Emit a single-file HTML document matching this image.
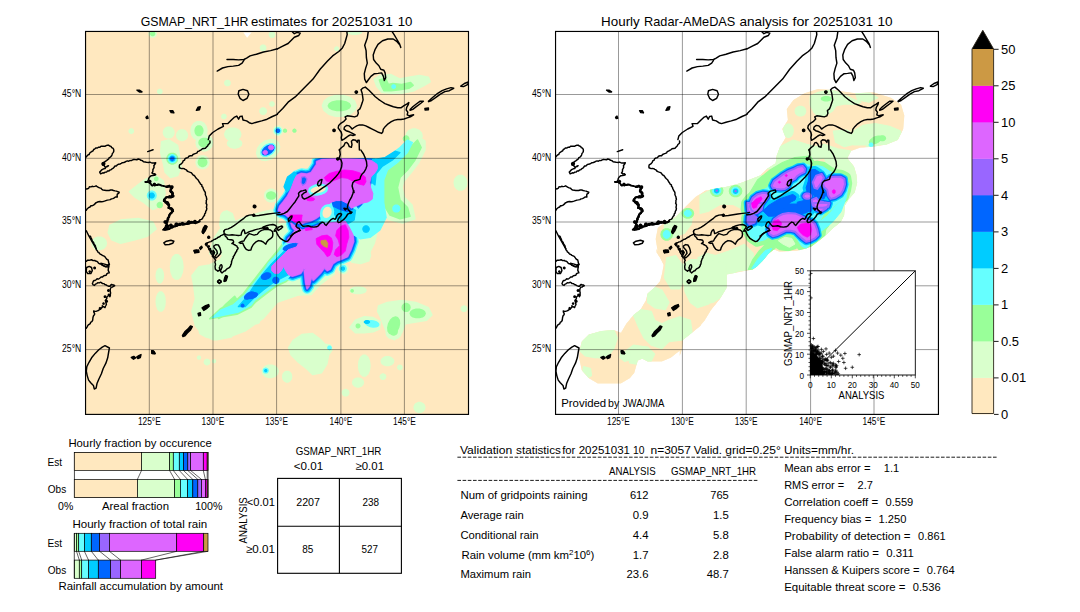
<!DOCTYPE html><html><head><meta charset="utf-8"><title>GSMAP validation</title><style>html,body{margin:0;padding:0;background:#fff}svg{display:block}text{font-family:"Liberation Sans",sans-serif;fill:#000}</style></head><body>
<svg width="1080" height="612" viewBox="0 0 1080 612">
<rect width="1080" height="612" fill="#fff"/>
<defs><clipPath id="cl"><rect x="85.55" y="31.45" width="382.95" height="382.95"/></clipPath><clipPath id="cr"><rect x="555.55" y="31.45" width="382.9" height="382.95"/></clipPath>
<clipPath id="ci"><rect x="810.3" y="270.8" width="105" height="104.2"/></clipPath>
<clipPath id="clc"><rect x="85.5" y="158.2" width="382.5" height="256"/></clipPath>
<clipPath id="cro"><path d="M804.4 93.3 L817.8 88.9 L833.3 90.0 L855.6 93.3 L873.3 92.2 L891.1 97.8 L901.1 104.4 L904.4 115.6 L903.3 128.9 L897.8 140.0 L886.7 144.4 L873.3 146.7 L860.0 147.8 L851.1 151.1 L847.4 158.2 L853.9 166.3 L856.4 174.5 L857.2 182.7 L854.7 192.5 L849.0 199.0 L844.9 205.6 L844.1 215.4 L840.8 221.9 L832.7 228.4 L826.1 235.0 L818.0 241.5 L811.4 246.4 L806.1 248.4 L797.2 250.7 L779.4 251.8 L773.9 249.6 L768.3 254.0 L762.8 260.7 L757.2 266.2 L752.8 269.6 L746.1 270.7 L726.7 274.4 L726.7 287.8 L720.0 298.9 L711.1 310.0 L704.4 321.1 L700.0 326.0 L701.0 325.6 L692.1 332.7 L683.2 339.8 L682.3 348.7 L679.7 355.9 L679.7 350.7 L670.8 357.8 L661.9 361.4 L647.6 361.4 L642.3 358.7 L637.8 360.5 L634.3 372.9 L629.8 378.3 L620.9 383.6 L597.7 383.6 L588.8 378.3 L581.7 370.3 L579.0 357.8 L579.9 348.0 L579.9 348.7 L581.7 341.6 L588.8 334.5 L601.3 330.9 L613.8 330.0 L620.9 332.7 L626.2 323.8 L633.4 314.9 L640.5 309.6 L645.8 300.6 L647.6 293.5 L654.7 287.3 L660.1 281.1 L661.9 273.9 L663.6 265.0 L660.1 257.9 L656.5 252.6 L656.5 249.0 L657.8 252.2 L655.6 238.9 L657.8 227.8 L666.7 221.1 L675.6 216.7 L684.4 207.8 L695.6 196.7 L706.7 190.0 L700.0 195.6 L704.4 191.1 L713.3 188.9 L726.7 186.7 L740.0 183.3 L751.1 178.9 L760.0 175.6 L766.7 168.9 L775.6 163.3 L776.7 155.6 L780.0 146.7 L785.6 137.8 L782.2 128.9 L787.8 120.0 L786.7 108.9 L793.3 100.0Z"/></clipPath>
</defs>
<rect x="85.55" y="31.45" width="382.95" height="382.95" fill="#ffe8bf"/>
<g clip-path="url(#cl)" stroke-linejoin="round"><path d="M156.2 33.7 L155.9 35.2 L154.9 36.5 L153.5 37.1 L151.9 37.1 L150.5 36.5 L149.5 35.2 L149.1 33.7 L149.5 32.1 L150.5 30.9 L151.9 30.2 L153.5 30.2 L154.9 30.9 L155.9 32.1Z M161.9 91.6 L161.7 92.5 L161.1 93.2 L160.3 93.6 L159.3 93.6 L158.5 93.2 L157.9 92.5 L157.7 91.6 L157.9 90.6 L158.5 89.9 L159.3 89.5 L160.3 89.5 L161.1 89.9 L161.7 90.6Z M230.1 83.0 L229.9 84.2 L229.1 85.1 L228.1 85.6 L226.9 85.6 L225.8 85.1 L225.1 84.2 L224.8 83.0 L225.1 81.8 L225.8 80.9 L226.9 80.4 L228.1 80.4 L229.1 80.9 L229.9 81.8Z M265.8 47.9 L265.5 49.1 L264.8 50.0 L263.7 50.5 L262.5 50.5 L261.4 50.0 L260.7 49.1 L260.4 47.9 L260.7 46.8 L261.4 45.8 L262.5 45.3 L263.7 45.3 L264.8 45.8 L265.5 46.8Z M274.7 34.6 L274.4 35.7 L273.7 36.7 L272.6 37.2 L271.4 37.2 L270.3 36.7 L269.6 35.7 L269.3 34.6 L269.6 33.4 L270.3 32.5 L271.4 32.0 L272.6 32.0 L273.7 32.5 L274.4 33.4Z M226.1 116.5 L225.8 117.4 L225.2 118.2 L224.4 118.6 L223.4 118.6 L222.6 118.2 L222.0 117.4 L221.8 116.5 L222.0 115.6 L222.6 114.8 L223.4 114.4 L224.4 114.4 L225.2 114.8 L225.8 115.6Z M266.3 111.1 L266.0 112.5 L265.1 113.6 L263.8 114.3 L262.4 114.3 L261.1 113.6 L260.2 112.5 L259.9 111.1 L260.2 109.8 L261.1 108.6 L262.4 108.0 L263.8 108.0 L265.1 108.6 L266.0 109.8Z M274.1 104.0 L273.9 104.9 L273.3 105.7 L272.5 106.1 L271.5 106.1 L270.7 105.7 L270.1 104.9 L269.9 104.0 L270.1 103.1 L270.7 102.3 L271.5 101.9 L272.5 101.9 L273.3 102.3 L273.9 103.1Z M133.4 131.1 L133.2 132.0 L132.6 132.8 L131.8 133.2 L130.8 133.2 L130.0 132.8 L129.4 132.0 L129.2 131.1 L129.4 130.2 L130.0 129.4 L130.8 129.0 L131.8 129.0 L132.6 129.4 L133.2 130.2Z M174.0 132.5 L173.5 134.8 L172.0 136.7 L169.9 137.7 L167.5 137.7 L165.4 136.7 L163.9 134.8 L163.4 132.5 L163.9 130.2 L165.4 128.3 L167.5 127.3 L169.9 127.3 L172.0 128.3 L173.5 130.2Z M187.4 135.2 L186.9 137.5 L185.4 139.4 L183.3 140.4 L180.9 140.4 L178.7 139.4 L177.2 137.5 L176.7 135.2 L177.2 132.9 L178.7 131.0 L180.9 130.0 L183.3 130.0 L185.4 131.0 L186.9 132.9Z M207.0 130.7 L206.2 134.8 L204.0 138.0 L200.8 139.8 L197.2 139.8 L194.0 138.0 L191.8 134.8 L191.0 130.7 L191.8 126.7 L194.0 123.5 L197.2 121.7 L200.8 121.7 L204.0 123.5 L206.2 126.7Z M240.8 134.3 L240.0 137.0 L237.8 139.2 L234.6 140.4 L231.0 140.4 L227.8 139.2 L225.6 137.0 L224.8 134.3 L225.6 131.6 L227.8 129.4 L231.0 128.2 L234.6 128.2 L237.8 129.4 L240.0 131.6Z M356.3 105.8 L354.6 110.4 L349.9 114.2 L343.1 116.2 L335.6 116.2 L328.8 114.2 L324.1 110.4 L322.4 105.8 L324.1 101.2 L328.8 97.4 L335.6 95.4 L343.1 95.4 L349.9 97.4 L354.6 101.2Z M374.1 79.1 L380.3 75.5 L391.0 74.6 L399.9 79.1 L408.8 77.3 L419.5 75.5 L428.4 77.3 L430.2 81.8 L423.0 86.2 L414.1 90.7 L401.7 93.3 L391.0 93.3 L382.1 92.4 L376.7 86.2Z M361.6 32.1 L360.9 33.0 L358.9 33.7 L356.1 34.2 L352.9 34.2 L350.0 33.7 L348.1 33.0 L347.3 32.1 L348.1 31.1 L350.0 30.4 L352.9 30.0 L356.1 30.0 L358.9 30.4 L360.9 31.1Z M338.4 48.8 L338.3 49.6 L337.8 50.2 L337.1 50.5 L336.3 50.5 L335.6 50.2 L335.1 49.6 L334.9 48.8 L335.1 48.0 L335.6 47.4 L336.3 47.1 L337.1 47.1 L337.8 47.4 L338.3 48.0Z M422.1 136.1 L421.4 139.2 L419.1 141.6 L415.9 143.0 L412.3 143.0 L409.1 141.6 L406.9 139.2 L406.1 136.1 L406.9 133.0 L409.1 130.5 L412.3 129.1 L415.9 129.1 L419.1 130.5 L421.4 133.0Z M282.5 130.7 L282.1 132.7 L280.8 134.4 L278.9 135.2 L276.9 135.2 L275.0 134.4 L273.7 132.7 L273.3 130.7 L273.7 128.7 L275.0 127.1 L276.9 126.2 L278.9 126.2 L280.8 127.1 L282.1 128.7Z M161.6 141.8 L168.7 140.0 L177.6 145.3 L179.4 156.0 L181.2 166.7 L177.6 175.6 L170.5 177.4 L165.1 172.1 L163.4 163.2 L160.7 152.5Z M158.2 195.6 L157.6 198.3 L155.8 200.6 L153.2 201.8 L150.4 201.8 L147.8 200.6 L146.0 198.3 L145.4 195.6 L146.0 192.8 L147.8 190.6 L150.4 189.3 L153.2 189.3 L155.8 190.6 L157.6 192.8Z M209.0 162.3 L208.3 165.0 L206.5 167.3 L204.0 168.5 L201.1 168.5 L198.5 167.3 L196.8 165.0 L196.1 162.3 L196.8 159.5 L198.5 157.2 L201.1 156.0 L204.0 156.0 L206.5 157.2 L208.3 159.5Z M212.5 142.7 L211.7 146.2 L209.4 149.1 L206.1 150.7 L202.5 150.7 L199.2 149.1 L196.9 146.2 L196.1 142.7 L196.9 139.1 L199.2 136.3 L202.5 134.7 L206.1 134.7 L209.4 136.3 L211.7 139.1Z M129.5 191.6 L138.4 184.5 L145.6 179.2 L156.2 175.6 L163.4 181.0 L165.1 193.4 L161.6 205.9 L152.7 209.5 L143.8 202.3 L134.9 197.0Z M109.9 225.5 L120.6 220.1 L138.4 218.4 L152.7 221.9 L156.2 229.0 L147.3 236.2 L134.9 239.7 L120.6 243.3 L111.7 239.7 L108.2 232.6Z M106.4 243.3 L105.7 246.0 L103.7 248.2 L100.8 249.4 L97.7 249.4 L94.8 248.2 L92.8 246.0 L92.1 243.3 L92.8 240.6 L94.8 238.4 L97.7 237.2 L100.8 237.2 L103.7 238.4 L105.7 240.6Z M278.3 142.8 L279.6 146.8 L278.6 151.4 L275.5 155.8 L271.0 159.0 L265.9 160.4 L261.2 159.7 L257.9 157.1 L256.6 153.1 L257.6 148.5 L260.6 144.2 L265.2 141.0 L270.3 139.6 L275.0 140.2Z M277.5 195.6 L276.9 198.3 L275.1 200.6 L272.5 201.8 L269.7 201.8 L267.1 200.6 L265.3 198.3 L264.7 195.6 L265.3 192.8 L267.1 190.6 L269.7 189.3 L272.5 189.3 L275.1 190.6 L276.9 192.8Z M231.0 218.4 L230.5 221.5 L229.0 223.9 L226.9 225.3 L224.5 225.3 L222.4 223.9 L220.9 221.5 L220.4 218.4 L220.9 215.3 L222.4 212.8 L224.5 211.4 L226.9 211.4 L229.0 212.8 L230.5 215.3Z M241.7 143.6 L241.0 145.5 L239.0 147.0 L236.2 147.9 L233.0 147.9 L230.2 147.0 L228.2 145.5 L227.5 143.6 L228.2 141.6 L230.2 140.1 L233.0 139.2 L236.2 139.2 L239.0 140.1 L241.0 141.6Z M199.0 266.8 L209.7 265.0 L220.4 259.7 L225.7 249.0 L227.5 238.3 L245.3 231.2 L263.1 225.8 L298.7 222.3 L334.3 231.2 L334.3 273.9 L320.1 284.6 L311.2 294.4 L298.7 294.9 L277.0 302.4 L263.1 318.5 L245.3 330.9 L231.0 336.3 L213.2 339.8 L202.5 334.5 L195.4 325.6 L191.9 311.3 L195.4 298.9 L193.6 284.6 L191.9 275.7Z M183.0 266.8 L182.3 272.2 L180.6 276.6 L178.1 279.0 L175.3 279.0 L172.8 276.6 L171.1 272.2 L170.5 266.8 L171.1 261.4 L172.8 257.1 L175.3 254.7 L178.1 254.7 L180.6 257.1 L182.3 261.4Z M163.4 275.7 L163.0 278.8 L162.0 281.3 L160.6 282.7 L159.0 282.7 L157.6 281.3 L156.6 278.8 L156.2 275.7 L156.6 272.6 L157.6 270.1 L159.0 268.8 L160.6 268.8 L162.0 270.1 L163.0 272.6Z M165.1 301.5 L164.7 305.8 L163.5 309.2 L161.7 311.1 L159.7 311.1 L157.9 309.2 L156.7 305.8 L156.2 301.5 L156.7 297.3 L157.9 293.9 L159.7 292.0 L161.7 292.0 L163.5 293.9 L164.7 297.3Z M259.5 321.7 L259.1 322.6 L257.9 323.3 L256.1 323.7 L254.1 323.7 L252.3 323.3 L251.1 322.6 L250.6 321.7 L251.1 320.7 L252.3 320.0 L254.1 319.6 L256.1 319.6 L257.9 320.0 L259.1 320.7Z M366.0 290.3 L365.3 291.7 L363.0 292.8 L359.8 293.4 L356.2 293.4 L353.0 292.8 L350.8 291.7 L350.0 290.3 L350.8 288.9 L353.0 287.8 L356.2 287.2 L359.8 287.2 L363.0 287.8 L365.3 288.9Z M378.5 306.0 L387.4 302.4 L401.7 300.6 L415.9 302.4 L428.4 307.8 L431.9 314.9 L426.6 320.2 L415.9 322.0 L405.2 323.8 L401.7 332.7 L394.5 339.8 L387.4 334.5 L383.9 325.6 L380.3 316.7 L377.6 311.3Z M350.0 327.4 L355.4 320.2 L364.3 316.7 L373.2 317.6 L380.3 322.0 L379.4 329.1 L373.2 331.8 L364.3 332.7 L355.4 332.7Z M288.6 347.8 L293.0 340.7 L301.9 334.5 L312.6 333.6 L319.7 338.9 L325.1 344.2 L330.4 345.1 L332.2 349.6 L328.6 354.9 L326.9 363.8 L321.5 372.7 L312.6 374.5 L307.3 369.2 L298.4 362.1 L291.2 354.9Z M466.7 308.7 L466.4 309.8 L465.7 310.8 L464.6 311.3 L463.4 311.3 L462.3 310.8 L461.6 309.8 L461.3 308.7 L461.6 307.5 L462.3 306.6 L463.4 306.1 L464.6 306.1 L465.7 306.6 L466.4 307.5Z M370.5 255.2 L369.8 257.9 L367.8 260.1 L365.0 261.3 L361.8 261.3 L358.9 260.1 L357.0 257.9 L356.3 255.2 L357.0 252.5 L358.9 250.4 L361.8 249.2 L365.0 249.2 L367.8 250.4 L369.8 252.5Z M347.9 268.6 L347.4 270.8 L346.0 272.5 L344.0 273.5 L341.8 273.5 L339.8 272.5 L338.4 270.8 L337.9 268.6 L338.4 266.4 L339.8 264.7 L341.8 263.7 L344.0 263.7 L346.0 264.7 L347.4 266.4Z M370.0 365.6 L369.4 370.3 L367.8 374.0 L365.5 376.0 L363.0 376.0 L360.7 374.0 L359.1 370.3 L358.6 365.6 L359.1 361.0 L360.7 357.3 L363.0 355.2 L365.5 355.2 L367.8 357.3 L369.4 361.0Z M363.4 382.5 L362.8 384.5 L361.4 386.0 L359.2 386.9 L356.8 386.9 L354.7 386.0 L353.2 384.5 L352.7 382.5 L353.2 380.6 L354.7 379.1 L356.8 378.2 L359.2 378.2 L361.4 379.1 L362.8 380.6Z M348.8 392.7 L348.5 394.1 L347.6 395.2 L346.3 395.8 L344.9 395.8 L343.6 395.2 L342.7 394.1 L342.4 392.7 L342.7 391.3 L343.6 390.2 L344.9 389.6 L346.3 389.6 L347.6 390.2 L348.5 391.3Z M393.7 361.2 L393.0 363.1 L391.3 364.6 L388.8 365.5 L386.0 365.5 L383.5 364.6 L381.8 363.1 L381.2 361.2 L381.8 359.2 L383.5 357.7 L386.0 356.8 L388.8 356.8 L391.3 357.7 L393.0 359.2Z M385.6 376.7 L385.4 377.8 L384.6 378.7 L383.6 379.3 L382.4 379.3 L381.3 378.7 L380.6 377.8 L380.3 376.7 L380.6 375.5 L381.3 374.6 L382.4 374.1 L383.6 374.1 L384.6 374.6 L385.4 375.5Z M402.0 367.4 L401.8 368.3 L401.2 369.1 L400.4 369.5 L399.4 369.5 L398.6 369.1 L398.0 368.3 L397.7 367.4 L398.0 366.5 L398.6 365.7 L399.4 365.3 L400.4 365.3 L401.2 365.7 L401.8 366.5Z M291.6 376.7 L291.2 379.0 L289.9 380.8 L288.1 381.9 L286.2 381.9 L284.4 380.8 L283.1 379.0 L282.7 376.7 L283.1 374.3 L284.4 372.5 L286.2 371.5 L288.1 371.5 L289.9 372.5 L291.2 374.3Z M424.8 407.5 L424.3 409.6 L422.8 411.4 L420.7 412.3 L418.3 412.3 L416.1 411.4 L414.7 409.6 L414.1 407.5 L414.7 405.3 L416.1 403.6 L418.3 402.6 L420.7 402.6 L422.8 403.6 L424.3 405.3Z M401.1 332.7 L400.4 335.5 L398.3 337.7 L395.3 338.9 L392.0 338.9 L389.0 337.7 L386.9 335.5 L386.2 332.7 L386.9 329.9 L389.0 327.7 L392.0 326.4 L395.3 326.4 L398.3 327.7 L400.4 329.9Z M199.0 330.0 L238.2 330.0 L231.0 337.1 L216.8 339.8 L206.1 337.1 L199.9 333.6Z M200.4 357.6 L200.3 358.2 L199.9 358.7 L199.3 359.0 L198.7 359.0 L198.1 358.7 L197.7 358.2 L197.6 357.6 L197.7 357.0 L198.1 356.5 L198.7 356.2 L199.3 356.2 L199.9 356.5 L200.3 357.0Z M209.7 362.1 L209.4 363.2 L208.7 364.1 L207.6 364.7 L206.4 364.7 L205.3 364.1 L204.6 363.2 L204.3 362.1 L204.6 360.9 L205.3 360.0 L206.4 359.5 L207.6 359.5 L208.7 360.0 L209.4 360.9Z M215.5 361.2 L215.4 361.8 L215.0 362.3 L214.4 362.6 L213.8 362.6 L213.2 362.3 L212.8 361.8 L212.7 361.2 L212.8 360.5 L213.2 360.1 L213.8 359.8 L214.4 359.8 L215.0 360.1 L215.4 360.5Z M278.2 371.3 L277.4 374.0 L275.2 376.2 L272.0 377.4 L268.4 377.4 L265.2 376.2 L263.0 374.0 L262.2 371.3 L263.0 368.6 L265.2 366.4 L268.4 365.2 L272.0 365.2 L275.2 366.4 L277.4 368.6Z M378.8 173.8 L386.2 163.8 L397.5 155.0 L407.5 142.5 L416.2 135.0 L425.0 141.2 L425.0 150.0 L418.8 162.5 L411.2 172.5 L403.8 181.2 L402.0 187.5 L404.5 197.5 L412.0 205.0 L415.0 218.8 L402.5 223.0 L388.8 219.5 L380.5 207.5 L377.0 192.5 L377.0 182.5Z M466.7 182.7 L466.1 186.0 L464.3 188.6 L461.8 190.0 L459.1 190.0 L456.6 188.6 L454.8 186.0 L454.2 182.7 L454.8 179.5 L456.6 176.9 L459.1 175.5 L461.8 175.5 L464.3 176.9 L466.1 179.5Z M346.7 220.6 L355.0 219.2 L363.3 223.3 L374.4 223.3 L377.2 231.7 L374.4 242.8 L370.3 251.1 L368.9 260.8 L360.6 263.6 L352.2 262.2 L348.1 258.1 L352.2 249.7 L355.0 241.4 L353.6 231.7Z M209.7 254.0 L213.2 239.7 L220.4 229.0 L227.5 223.7 L245.3 220.1 L277.0 218.4 L280.9 254.0Z M219.7 224.7 L221.1 215.0 L226.7 210.8 L232.2 213.6 L235.0 221.9 L246.1 216.4 L257.2 213.6 L268.3 210.8 L275.3 209.4 L279.4 217.8 L275.3 226.1 L243.3 231.7 L222.5 231.7Z" fill="#d9ffcc" stroke="#d9ffcc" stroke-width="1.5"/><path d="M209.7 318.8 L220.4 308.7 L232.8 303.3 L243.5 293.5 L249.4 285.8 L259.2 273.3 L268.9 260.8 L277.2 251.1 L284.2 241.4 L295.3 241.4 L291.1 277.5 L285.6 281.9 L276.5 286.1 L265.4 294.4 L255.7 301.8 L250.8 307.4 L236.9 314.3Z M154.6 33.7 L154.4 34.5 L153.9 35.2 L153.1 35.6 L152.2 35.6 L151.5 35.2 L150.9 34.5 L150.7 33.7 L150.9 32.8 L151.5 32.1 L152.2 31.8 L153.1 31.8 L153.9 32.1 L154.4 32.8Z M202.9 130.7 L202.5 132.9 L201.4 134.6 L199.9 135.6 L198.1 135.6 L196.5 134.6 L195.5 132.9 L195.1 130.7 L195.5 128.6 L196.5 126.8 L198.1 125.9 L199.9 125.9 L201.4 126.8 L202.5 128.6Z M350.4 105.8 L349.3 107.9 L346.2 109.6 L341.8 110.5 L336.9 110.5 L332.4 109.6 L329.4 107.9 L328.3 105.8 L329.4 103.7 L332.4 102.0 L336.9 101.1 L341.8 101.1 L346.2 102.0 L349.3 103.7Z M379.4 80.0 L385.6 78.2 L388.3 84.4 L392.8 83.5 L401.7 84.4 L410.6 82.6 L413.2 85.3 L408.8 88.3 L399.9 89.8 L391.0 90.7 L383.9 90.7 L381.2 85.3Z M408.8 138.7 L408.5 139.9 L407.8 140.8 L406.7 141.4 L405.5 141.4 L404.5 140.8 L403.7 139.9 L403.4 138.7 L403.7 137.6 L404.5 136.7 L405.5 136.1 L406.7 136.1 L407.8 136.7 L408.5 137.6Z M286.4 130.7 L286.3 131.4 L285.9 131.8 L285.3 132.1 L284.7 132.1 L284.1 131.8 L283.7 131.4 L283.6 130.7 L283.7 130.1 L284.1 129.6 L284.7 129.3 L285.3 129.3 L285.9 129.6 L286.3 130.1Z M295.9 130.7 L295.7 131.4 L295.3 131.8 L294.8 132.1 L294.1 132.1 L293.6 131.8 L293.2 131.4 L293.0 130.7 L293.2 130.1 L293.6 129.6 L294.1 129.3 L294.8 129.3 L295.3 129.6 L295.7 130.1Z M177.6 158.7 L177.1 161.0 L175.6 162.9 L173.5 163.9 L171.1 163.9 L168.9 162.9 L167.5 161.0 L166.9 158.7 L167.5 156.4 L168.9 154.5 L171.1 153.5 L173.5 153.5 L175.6 154.5 L177.1 156.4Z M206.8 162.3 L206.4 164.1 L205.2 165.6 L203.5 166.4 L201.6 166.4 L199.9 165.6 L198.7 164.1 L198.3 162.3 L198.7 160.4 L199.9 158.9 L201.6 158.1 L203.5 158.1 L205.2 158.9 L206.4 160.4Z M209.7 142.7 L209.1 144.5 L207.7 146.0 L205.5 146.8 L203.1 146.8 L201.0 146.0 L199.5 144.5 L199.0 142.7 L199.5 140.8 L201.0 139.3 L203.1 138.5 L205.5 138.5 L207.7 139.3 L209.1 140.8Z M162.3 205.0 L162.0 206.1 L161.4 207.0 L160.4 207.4 L159.2 207.4 L158.2 207.0 L157.6 206.1 L157.3 205.0 L157.6 203.9 L158.2 203.1 L159.2 202.6 L160.4 202.6 L161.4 203.1 L162.0 203.9Z M157.8 178.8 L157.7 179.5 L157.2 180.1 L156.6 180.4 L155.9 180.4 L155.2 180.1 L154.8 179.5 L154.6 178.8 L154.8 178.1 L155.2 177.6 L155.9 177.3 L156.6 177.3 L157.2 177.6 L157.7 178.1Z M275.6 195.6 L275.1 197.1 L273.9 198.4 L272.1 199.0 L270.1 199.0 L268.3 198.4 L267.1 197.1 L266.7 195.6 L267.1 194.0 L268.3 192.8 L270.1 192.1 L272.1 192.1 L273.9 192.8 L275.1 194.0Z M353.2 290.9 L353.1 291.3 L352.8 291.7 L352.4 291.9 L351.9 291.9 L351.5 291.7 L351.2 291.3 L351.1 290.9 L351.2 290.4 L351.5 290.0 L351.9 289.8 L352.4 289.8 L352.8 290.0 L353.1 290.4Z M410.0 307.4 L409.6 309.1 L408.6 310.5 L407.0 311.2 L405.2 311.2 L403.7 310.5 L402.6 309.1 L402.2 307.4 L402.6 305.7 L403.7 304.4 L405.2 303.6 L407.0 303.6 L408.6 304.4 L409.6 305.7Z M425.2 313.5 L424.4 315.3 L422.4 316.8 L419.4 317.6 L416.0 317.6 L413.0 316.8 L411.0 315.3 L410.2 313.5 L411.0 311.6 L413.0 310.1 L416.0 309.3 L419.4 309.3 L422.4 310.1 L424.4 311.6Z M398.7 327.4 L396.9 330.9 L394.4 333.3 L391.8 334.1 L389.6 333.3 L388.1 331.0 L387.8 327.6 L388.6 323.8 L390.4 320.3 L392.9 317.9 L395.5 317.0 L397.7 317.8 L399.2 320.2 L399.5 323.6Z M359.8 325.9 L359.6 326.7 L359.1 327.3 L358.4 327.7 L357.6 327.7 L356.9 327.3 L356.4 326.7 L356.3 325.9 L356.4 325.2 L356.9 324.5 L357.6 324.2 L358.4 324.2 L359.1 324.5 L359.6 325.2Z M397.2 331.4 L396.9 333.0 L395.9 334.2 L394.4 334.9 L392.9 334.9 L391.4 334.2 L390.4 333.0 L390.1 331.4 L390.4 329.9 L391.4 328.6 L392.9 328.0 L394.4 328.0 L395.9 328.6 L396.9 329.9Z M383.8 173.8 L390.0 167.5 L400.0 160.0 L410.0 147.5 L417.5 140.0 L421.2 147.5 L415.0 160.0 L407.5 170.0 L400.0 177.5 L397.5 187.5 L400.0 200.0 L407.5 207.5 L410.0 216.2 L400.0 218.8 L390.0 215.0 L383.8 205.0 L381.2 192.5 L381.2 182.5Z" fill="#99ff99" stroke="#99ff99" stroke-width="1.5"/><g clip-path="url(#clc)"><path d="M316.7 161.7 L322.2 159.6 L333.3 158.9 L347.2 158.9 L361.1 159.6 L372.2 161.0 L377.1 164.4 L377.5 168.6 L375.0 172.8 L370.8 176.9 L369.4 182.5 L370.8 188.1 L372.9 193.6 L372.2 199.2 L368.1 201.9 L361.1 203.3 L355.6 206.1 L351.4 208.2 L347.2 203.3 L341.7 200.6 L336.1 200.6 L331.9 201.9 L327.8 204.7 L323.6 207.5 L320.8 211.7 L319.4 215.8 L315.3 218.6 L311.1 220.7 L305.6 222.1 L301.4 223.5 L297.2 222.8 L293.1 220.0 L288.9 217.2 L285.4 214.4 L281.2 213.1 L278.5 210.3 L279.9 206.1 L283.3 201.9 L287.5 196.4 L290.3 190.8 L292.4 185.3 L294.4 179.7 L296.5 175.6 L301.4 173.5 L306.9 174.2 L311.1 172.8 L313.9 168.6 L316.7 164.4Z M291.1 223.3 L296.7 227.5 L302.2 230.3 L307.8 228.9 L313.3 227.5 L318.9 225.4 L325.8 223.3 L331.4 222.6 L338.3 221.9 L345.3 221.2 L349.4 227.5 L352.9 234.4 L353.6 241.4 L350.8 249.7 L347.4 256.7 L341.1 259.4 L336.9 260.8 L332.8 263.6 L330.0 269.2 L327.2 270.6 L324.4 267.8 L320.3 273.3 L316.1 277.5 L313.3 280.3 L311.9 276.1 L310.6 280.3 L309.2 285.8 L307.1 288.6 L305.7 283.1 L305.0 276.1 L304.3 270.6 L305.7 268.5 L303.6 268.5 L300.8 273.3 L296.7 274.7 L292.5 276.1 L288.3 274.7 L285.6 270.6 L283.5 266.4 L281.4 270.6 L278.6 273.3 L274.4 273.3 L271.7 270.6 L271.7 266.4 L275.8 262.2 L280.0 258.1 L284.2 253.9 L288.3 249.7 L292.5 248.3 L296.7 246.9 L299.4 242.8 L295.3 242.1 L291.1 242.8 L286.9 242.8 L288.3 238.6 L292.5 234.4 L295.3 230.3 L292.5 227.5Z" fill="#66ffff" stroke="#66ffff" stroke-width="10.4"/></g><g clip-path="url(#clc)"><path d="M316.7 161.7 L322.2 159.6 L333.3 158.9 L347.2 158.9 L361.1 159.6 L372.2 161.0 L377.1 164.4 L377.5 168.6 L375.0 172.8 L370.8 176.9 L369.4 182.5 L370.8 188.1 L372.9 193.6 L372.2 199.2 L368.1 201.9 L361.1 203.3 L355.6 206.1 L351.4 208.2 L347.2 203.3 L341.7 200.6 L336.1 200.6 L331.9 201.9 L327.8 204.7 L323.6 207.5 L320.8 211.7 L319.4 215.8 L315.3 218.6 L311.1 220.7 L305.6 222.1 L301.4 223.5 L297.2 222.8 L293.1 220.0 L288.9 217.2 L285.4 214.4 L281.2 213.1 L278.5 210.3 L279.9 206.1 L283.3 201.9 L287.5 196.4 L290.3 190.8 L292.4 185.3 L294.4 179.7 L296.5 175.6 L301.4 173.5 L306.9 174.2 L311.1 172.8 L313.9 168.6 L316.7 164.4Z M291.1 223.3 L296.7 227.5 L302.2 230.3 L307.8 228.9 L313.3 227.5 L318.9 225.4 L325.8 223.3 L331.4 222.6 L338.3 221.9 L345.3 221.2 L349.4 227.5 L352.9 234.4 L353.6 241.4 L350.8 249.7 L347.4 256.7 L341.1 259.4 L336.9 260.8 L332.8 263.6 L330.0 269.2 L327.2 270.6 L324.4 267.8 L320.3 273.3 L316.1 277.5 L313.3 280.3 L311.9 276.1 L310.6 280.3 L309.2 285.8 L307.1 288.6 L305.7 283.1 L305.0 276.1 L304.3 270.6 L305.7 268.5 L303.6 268.5 L300.8 273.3 L296.7 274.7 L292.5 276.1 L288.3 274.7 L285.6 270.6 L283.5 266.4 L281.4 270.6 L278.6 273.3 L274.4 273.3 L271.7 270.6 L271.7 266.4 L275.8 262.2 L280.0 258.1 L284.2 253.9 L288.3 249.7 L292.5 248.3 L296.7 246.9 L299.4 242.8 L295.3 242.1 L291.1 242.8 L286.9 242.8 L288.3 238.6 L292.5 234.4 L295.3 230.3 L292.5 227.5Z" fill="#00ccff" stroke="#00ccff" stroke-width="7.6"/></g><g clip-path="url(#clc)"><path d="M316.7 161.7 L322.2 159.6 L333.3 158.9 L347.2 158.9 L361.1 159.6 L372.2 161.0 L377.1 164.4 L377.5 168.6 L375.0 172.8 L370.8 176.9 L369.4 182.5 L370.8 188.1 L372.9 193.6 L372.2 199.2 L368.1 201.9 L361.1 203.3 L355.6 206.1 L351.4 208.2 L347.2 203.3 L341.7 200.6 L336.1 200.6 L331.9 201.9 L327.8 204.7 L323.6 207.5 L320.8 211.7 L319.4 215.8 L315.3 218.6 L311.1 220.7 L305.6 222.1 L301.4 223.5 L297.2 222.8 L293.1 220.0 L288.9 217.2 L285.4 214.4 L281.2 213.1 L278.5 210.3 L279.9 206.1 L283.3 201.9 L287.5 196.4 L290.3 190.8 L292.4 185.3 L294.4 179.7 L296.5 175.6 L301.4 173.5 L306.9 174.2 L311.1 172.8 L313.9 168.6 L316.7 164.4Z M291.1 223.3 L296.7 227.5 L302.2 230.3 L307.8 228.9 L313.3 227.5 L318.9 225.4 L325.8 223.3 L331.4 222.6 L338.3 221.9 L345.3 221.2 L349.4 227.5 L352.9 234.4 L353.6 241.4 L350.8 249.7 L347.4 256.7 L341.1 259.4 L336.9 260.8 L332.8 263.6 L330.0 269.2 L327.2 270.6 L324.4 267.8 L320.3 273.3 L316.1 277.5 L313.3 280.3 L311.9 276.1 L310.6 280.3 L309.2 285.8 L307.1 288.6 L305.7 283.1 L305.0 276.1 L304.3 270.6 L305.7 268.5 L303.6 268.5 L300.8 273.3 L296.7 274.7 L292.5 276.1 L288.3 274.7 L285.6 270.6 L283.5 266.4 L281.4 270.6 L278.6 273.3 L274.4 273.3 L271.7 270.6 L271.7 266.4 L275.8 262.2 L280.0 258.1 L284.2 253.9 L288.3 249.7 L292.5 248.3 L296.7 246.9 L299.4 242.8 L295.3 242.1 L291.1 242.8 L286.9 242.8 L288.3 238.6 L292.5 234.4 L295.3 230.3 L292.5 227.5Z" fill="#0066ff" stroke="#0066ff" stroke-width="5"/></g><g clip-path="url(#clc)"><path d="M316.7 161.7 L322.2 159.6 L333.3 158.9 L347.2 158.9 L361.1 159.6 L372.2 161.0 L377.1 164.4 L377.5 168.6 L375.0 172.8 L370.8 176.9 L369.4 182.5 L370.8 188.1 L372.9 193.6 L372.2 199.2 L368.1 201.9 L361.1 203.3 L355.6 206.1 L351.4 208.2 L347.2 203.3 L341.7 200.6 L336.1 200.6 L331.9 201.9 L327.8 204.7 L323.6 207.5 L320.8 211.7 L319.4 215.8 L315.3 218.6 L311.1 220.7 L305.6 222.1 L301.4 223.5 L297.2 222.8 L293.1 220.0 L288.9 217.2 L285.4 214.4 L281.2 213.1 L278.5 210.3 L279.9 206.1 L283.3 201.9 L287.5 196.4 L290.3 190.8 L292.4 185.3 L294.4 179.7 L296.5 175.6 L301.4 173.5 L306.9 174.2 L311.1 172.8 L313.9 168.6 L316.7 164.4Z M291.1 223.3 L296.7 227.5 L302.2 230.3 L307.8 228.9 L313.3 227.5 L318.9 225.4 L325.8 223.3 L331.4 222.6 L338.3 221.9 L345.3 221.2 L349.4 227.5 L352.9 234.4 L353.6 241.4 L350.8 249.7 L347.4 256.7 L341.1 259.4 L336.9 260.8 L332.8 263.6 L330.0 269.2 L327.2 270.6 L324.4 267.8 L320.3 273.3 L316.1 277.5 L313.3 280.3 L311.9 276.1 L310.6 280.3 L309.2 285.8 L307.1 288.6 L305.7 283.1 L305.0 276.1 L304.3 270.6 L305.7 268.5 L303.6 268.5 L300.8 273.3 L296.7 274.7 L292.5 276.1 L288.3 274.7 L285.6 270.6 L283.5 266.4 L281.4 270.6 L278.6 273.3 L274.4 273.3 L271.7 270.6 L271.7 266.4 L275.8 262.2 L280.0 258.1 L284.2 253.9 L288.3 249.7 L292.5 248.3 L296.7 246.9 L299.4 242.8 L295.3 242.1 L291.1 242.8 L286.9 242.8 L288.3 238.6 L292.5 234.4 L295.3 230.3 L292.5 227.5Z" fill="#9966ff" stroke="#9966ff" stroke-width="2"/></g><path d="M216.8 314.0 L225.7 304.2 L234.6 296.2 L236.4 298.9 L227.5 307.8 L222.1 316.7 L218.6 318.5Z" fill="#99ff99" stroke="#99ff99" stroke-width="1.5"/><path d="M395.4 86.6 L395.3 87.3 L394.8 88.0 L394.0 88.3 L393.3 88.3 L392.5 88.0 L392.0 87.3 L391.9 86.6 L392.0 85.8 L392.5 85.2 L393.3 84.8 L394.0 84.8 L394.8 85.2 L395.3 85.8Z M281.1 130.7 L280.8 132.1 L279.9 133.2 L278.6 133.9 L277.2 133.9 L275.9 133.2 L275.0 132.1 L274.7 130.7 L275.0 129.3 L275.9 128.2 L277.2 127.6 L278.6 127.6 L279.9 128.2 L280.8 129.3Z M176.4 158.7 L176.0 160.5 L174.8 161.9 L173.2 162.7 L171.4 162.7 L169.7 161.9 L168.6 160.5 L168.2 158.7 L168.6 156.9 L169.7 155.5 L171.4 154.7 L173.2 154.7 L174.8 155.5 L176.0 156.9Z M156.2 195.6 L155.8 197.5 L154.6 199.0 L152.8 199.9 L150.8 199.9 L149.0 199.0 L147.8 197.5 L147.3 195.6 L147.8 193.6 L149.0 192.1 L150.8 191.2 L152.8 191.2 L154.6 192.1 L155.8 193.6Z M274.9 145.2 L275.6 147.5 L274.8 150.4 L272.6 153.2 L269.5 155.3 L266.2 156.4 L263.2 156.2 L261.2 154.8 L260.6 152.4 L261.4 149.5 L263.6 146.8 L266.6 144.6 L270.0 143.6 L272.9 143.7Z M212.3 317.6 L220.4 310.4 L232.8 305.1 L245.3 294.4 L250.8 287.2 L260.6 274.7 L270.3 262.2 L278.6 252.5 L285.6 242.8 L293.9 242.8 L289.7 276.1 L285.6 280.3 L275.8 284.4 L264.7 292.8 L255.0 300.0 L250.8 305.3 L238.3 312.2Z M378.9 325.0 L378.0 326.2 L376.0 327.0 L373.2 327.1 L370.3 326.6 L367.7 325.5 L366.0 324.1 L365.6 322.6 L366.5 321.4 L368.6 320.6 L371.3 320.5 L374.3 321.0 L376.9 322.1 L378.5 323.5Z M331.3 347.8 L331.1 348.6 L330.6 349.2 L329.9 349.6 L329.1 349.6 L328.4 349.2 L327.9 348.6 L327.8 347.8 L327.9 347.1 L328.4 346.4 L329.1 346.1 L329.9 346.1 L330.6 346.4 L331.1 347.1Z M346.3 268.6 L345.9 270.1 L345.0 271.2 L343.6 271.9 L342.1 271.9 L340.8 271.2 L339.8 270.1 L339.5 268.6 L339.8 267.1 L340.8 265.9 L342.1 265.3 L343.6 265.3 L345.0 265.9 L345.9 267.1Z M268.3 370.6 L268.0 371.7 L267.3 372.6 L266.3 373.0 L265.2 373.0 L264.2 372.6 L263.5 371.7 L263.3 370.6 L263.5 369.5 L264.2 368.7 L265.2 368.2 L266.3 368.2 L267.3 368.7 L268.0 369.5Z M372.5 160.0 L380.0 162.5 L390.0 155.0 L400.0 147.5 L407.5 140.0 L412.5 142.5 L407.5 152.5 L397.5 162.5 L387.5 170.0 L383.8 180.0 L383.8 202.5 L386.2 217.5 L380.0 230.0 L370.0 237.5 L360.0 238.8 L350.0 232.5 L350.0 220.0 L365.0 202.5 L372.5 182.5Z M399.9 208.6 L399.5 210.1 L398.5 211.4 L397.1 212.0 L395.5 212.0 L394.1 211.4 L393.1 210.1 L392.8 208.6 L393.1 207.0 L394.1 205.8 L395.5 205.1 L397.1 205.1 L398.5 205.8 L399.5 207.0Z M327.8 200.6 L355.6 206.1 L361.1 214.4 L355.6 225.6 L333.3 228.3 L322.2 222.8 L319.4 211.7Z" fill="#66ffff" stroke="#66ffff" stroke-width="1.2"/><path d="M174.9 158.7 L174.7 159.9 L173.9 160.8 L172.9 161.3 L171.7 161.3 L170.6 160.8 L169.9 159.9 L169.6 158.7 L169.9 157.5 L170.6 156.6 L171.7 156.1 L172.9 156.1 L173.9 156.6 L174.7 157.5Z M154.3 195.6 L154.0 196.6 L153.3 197.5 L152.3 198.0 L151.2 198.0 L150.2 197.5 L149.5 196.6 L149.3 195.6 L149.5 194.5 L150.2 193.6 L151.2 193.1 L152.3 193.1 L153.3 193.6 L154.0 194.5Z M238.3 306.7 L246.7 296.9 L255.0 284.4 L263.3 273.3 L271.7 263.6 L280.0 255.3 L285.6 249.7 L291.1 249.7 L288.3 274.7 L282.8 277.5 L274.4 281.7 L263.3 290.0 L253.6 298.3 L245.3 306.7Z M369.6 322.0 L369.3 322.6 L368.6 323.1 L367.5 323.4 L366.3 323.4 L365.3 323.1 L364.5 322.6 L364.3 322.0 L364.5 321.4 L365.3 320.9 L366.3 320.6 L367.5 320.6 L368.6 320.9 L369.3 321.4Z M344.5 268.6 L344.3 269.3 L343.9 269.8 L343.3 270.2 L342.5 270.2 L341.9 269.8 L341.5 269.3 L341.3 268.6 L341.5 267.9 L341.9 267.3 L342.5 267.0 L343.3 267.0 L343.9 267.3 L344.3 267.9Z M266.8 370.6 L266.7 371.1 L266.4 371.4 L266.0 371.6 L265.5 371.6 L265.1 371.4 L264.8 371.1 L264.7 370.6 L264.8 370.1 L265.1 369.8 L265.5 369.6 L266.0 369.6 L266.4 369.8 L266.7 370.1Z M372.5 159.5 L385.0 157.5 L395.0 151.2 L400.0 152.5 L392.5 160.0 L382.5 166.2 L376.2 173.8 L375.0 185.0 L372.0 182.5Z M369.3 229.0 L368.9 230.4 L368.0 231.6 L366.8 232.2 L365.3 232.2 L364.0 231.6 L363.2 230.4 L362.8 229.0 L363.2 227.7 L364.0 226.5 L365.3 225.9 L366.8 225.9 L368.0 226.5 L368.9 227.7Z M333.3 206.1 L347.2 206.1 L355.6 210.3 L354.2 220.0 L347.2 224.2 L338.9 222.8 L334.7 214.4Z M284.0 186.7 L287.5 176.9 L294.4 172.1 L297.2 174.9 L293.1 181.1 L290.3 188.1 L286.8 192.2Z" fill="#00ccff" stroke="#00ccff" stroke-width="1.2"/><path d="M279.7 130.7 L279.5 131.5 L279.0 132.1 L278.3 132.5 L277.5 132.5 L276.8 132.1 L276.3 131.5 L276.1 130.7 L276.3 130.0 L276.8 129.3 L277.5 129.0 L278.3 129.0 L279.0 129.3 L279.5 130.0Z M173.9 158.7 L173.7 159.4 L173.3 160.0 L172.6 160.3 L171.9 160.3 L171.3 160.0 L170.8 159.4 L170.7 158.7 L170.8 158.0 L171.3 157.4 L171.9 157.1 L172.6 157.1 L173.3 157.4 L173.7 158.0Z M273.6 146.1 L274.1 147.9 L273.3 150.1 L271.5 152.2 L269.0 154.0 L266.4 154.9 L264.1 154.9 L262.5 153.9 L262.1 152.1 L262.9 149.9 L264.7 147.7 L267.1 146.0 L269.8 145.0 L272.1 145.1Z M257.4 293.8 L257.3 295.0 L256.2 296.4 L254.4 297.5 L252.1 298.4 L249.9 298.6 L248.3 298.3 L247.4 297.5 L247.5 296.3 L248.6 295.0 L250.5 293.8 L252.7 293.0 L254.9 292.7 L256.6 293.0Z M244.0 305.6 L243.9 306.3 L243.5 306.7 L242.9 307.0 L242.3 307.0 L241.7 306.7 L241.3 306.3 L241.2 305.6 L241.3 305.0 L241.7 304.5 L242.3 304.2 L242.9 304.2 L243.5 304.5 L243.9 305.0Z M254.3 292.8 L254.4 294.1 L253.5 295.7 L251.9 297.3 L249.7 298.5 L247.5 299.2 L245.7 299.1 L244.6 298.3 L244.5 297.0 L245.4 295.4 L247.0 293.8 L249.2 292.6 L251.4 291.9 L253.2 292.0Z M270.7 274.4 L270.7 275.9 L269.8 277.3 L268.1 278.5 L266.1 279.3 L264.1 279.4 L262.4 278.9 L261.5 277.8 L261.5 276.4 L262.4 274.9 L264.1 273.7 L266.1 272.9 L268.1 272.8 L269.8 273.4Z M278.9 280.3 L278.6 281.6 L277.7 282.7 L276.5 283.3 L275.2 283.3 L273.9 282.7 L273.1 281.6 L272.8 280.3 L273.1 279.0 L273.9 277.9 L275.2 277.3 L276.5 277.3 L277.7 277.9 L278.6 279.0Z M296.2 244.6 L296.0 245.8 L294.5 247.3 L292.0 248.7 L289.1 249.8 L286.3 250.3 L284.2 250.1 L283.2 249.3 L283.5 248.1 L285.0 246.6 L287.4 245.2 L290.3 244.1 L293.1 243.6 L295.2 243.8Z M331.9 201.2 L341.7 200.6 L350.0 204.7 L352.8 208.9 L347.2 211.7 L338.9 208.9 L333.3 206.1Z" fill="#0066ff" stroke="#0066ff" stroke-width="1.2"/><path d="M316.7 161.7 L322.2 159.6 L333.3 158.9 L347.2 158.9 L361.1 159.6 L372.2 161.0 L377.1 164.4 L377.5 168.6 L375.0 172.8 L370.8 176.9 L369.4 182.5 L370.8 188.1 L372.9 193.6 L372.2 199.2 L368.1 201.9 L361.1 203.3 L355.6 206.1 L351.4 208.2 L347.2 203.3 L341.7 200.6 L336.1 200.6 L331.9 201.9 L327.8 204.7 L323.6 207.5 L320.8 211.7 L319.4 215.8 L315.3 218.6 L311.1 220.7 L305.6 222.1 L301.4 223.5 L297.2 222.8 L293.1 220.0 L288.9 217.2 L285.4 214.4 L281.2 213.1 L278.5 210.3 L279.9 206.1 L283.3 201.9 L287.5 196.4 L290.3 190.8 L292.4 185.3 L294.4 179.7 L296.5 175.6 L301.4 173.5 L306.9 174.2 L311.1 172.8 L313.9 168.6 L316.7 164.4Z M291.1 223.3 L296.7 227.5 L302.2 230.3 L307.8 228.9 L313.3 227.5 L318.9 225.4 L325.8 223.3 L331.4 222.6 L338.3 221.9 L345.3 221.2 L349.4 227.5 L352.9 234.4 L353.6 241.4 L350.8 249.7 L347.4 256.7 L341.1 259.4 L336.9 260.8 L332.8 263.6 L330.0 269.2 L327.2 270.6 L324.4 267.8 L320.3 273.3 L316.1 277.5 L313.3 280.3 L311.9 276.1 L310.6 280.3 L309.2 285.8 L307.1 288.6 L305.7 283.1 L305.0 276.1 L304.3 270.6 L305.7 268.5 L303.6 268.5 L300.8 273.3 L296.7 274.7 L292.5 276.1 L288.3 274.7 L285.6 270.6 L283.5 266.4 L281.4 270.6 L278.6 273.3 L274.4 273.3 L271.7 270.6 L271.7 266.4 L275.8 262.2 L280.0 258.1 L284.2 253.9 L288.3 249.7 L292.5 248.3 L296.7 246.9 L299.4 242.8 L295.3 242.1 L291.1 242.8 L286.9 242.8 L288.3 238.6 L292.5 234.4 L295.3 230.3 L292.5 227.5Z" fill="#dd66ff" stroke="#dd66ff" stroke-width="1"/><path d="M267.5 152.5 L267.3 153.4 L266.7 154.1 L265.7 154.6 L264.7 154.6 L263.8 154.1 L263.1 153.4 L262.9 152.5 L263.1 151.5 L263.8 150.8 L264.7 150.4 L265.7 150.4 L266.7 150.8 L267.3 151.5Z M273.8 147.5 L273.5 148.5 L272.8 149.3 L271.7 149.7 L270.5 149.7 L269.4 149.3 L268.7 148.5 L268.4 147.5 L268.7 146.5 L269.4 145.7 L270.5 145.2 L271.7 145.2 L272.8 145.7 L273.5 146.5Z" fill="#dd66ff" stroke="#dd66ff" stroke-width="1"/><path d="M301.7 177.2 L304.9 176.7 L306.9 179.0 L305.6 183.2 L302.8 185.3 L301.1 182.5Z" fill="#0066ff" stroke="#9966ff" stroke-width="1.2"/><path d="M325.6 188.4 L325.1 190.0 L323.2 191.5 L320.3 192.6 L316.9 193.2 L313.8 193.1 L311.5 192.3 L310.5 191.0 L311.0 189.5 L312.9 188.0 L315.8 186.8 L319.2 186.2 L322.3 186.3 L324.6 187.1Z M331.3 213.9 L330.0 216.1 L328.1 217.6 L326.1 218.0 L324.2 217.4 L322.9 215.7 L322.5 213.4 L322.9 210.8 L324.2 208.6 L326.0 207.1 L328.1 206.7 L330.0 207.4 L331.2 209.0 L331.7 211.4Z" fill="#66ffff" stroke="#66ffff" stroke-width="5"/><path d="M325.6 188.4 L325.1 190.0 L323.2 191.5 L320.3 192.6 L316.9 193.2 L313.8 193.1 L311.5 192.3 L310.5 191.0 L311.0 189.5 L312.9 188.0 L315.8 186.8 L319.2 186.2 L322.3 186.3 L324.6 187.1Z M331.3 213.9 L330.0 216.1 L328.1 217.6 L326.1 218.0 L324.2 217.4 L322.9 215.7 L322.5 213.4 L322.9 210.8 L324.2 208.6 L326.0 207.1 L328.1 206.7 L330.0 207.4 L331.2 209.0 L331.7 211.4Z" fill="#ffe8bf" stroke="#ffe8bf" stroke-width="0.1"/><path d="M324.3 177.6 L329.2 173.5 L336.1 171.4 L344.4 170.0 L352.8 170.7 L359.7 172.8 L365.3 176.9 L366.0 181.8 L363.9 185.3 L358.3 183.9 L352.8 181.1 L347.2 178.3 L341.7 177.6 L336.1 179.7 L330.6 181.8 L326.4 181.1Z M314.6 199.2 L314.2 199.9 L313.0 200.5 L311.3 200.8 L309.5 200.8 L307.8 200.5 L306.7 199.9 L306.2 199.2 L306.7 198.4 L307.8 197.9 L309.5 197.5 L311.3 197.5 L313.0 197.9 L314.2 198.4Z M291.7 215.1 L297.2 216.5 L302.1 220.0 L300.0 222.8 L294.4 222.1 L291.0 219.3Z M316.1 238.6 L321.7 235.8 L327.2 235.1 L331.4 237.9 L332.8 242.8 L332.1 249.7 L330.0 255.3 L327.2 256.7 L324.4 252.5 L320.3 248.3 L316.8 244.2Z M336.9 230.3 L341.1 226.1 L345.3 224.7 L348.1 230.3 L348.8 237.2 L346.7 244.2 L345.3 251.1 L341.1 255.3 L336.9 256.7 L334.2 254.6 L335.6 249.7 L339.7 245.6 L338.3 240.0 L335.6 235.8Z M289.7 215.0 L302.2 215.0 L301.5 219.2 L296.7 221.2 L291.1 219.9Z M305.0 228.2 L311.9 227.2 L312.2 229.6 L305.7 230.6Z" fill="#ff00f5" stroke="#ff00f5" stroke-width="0.8"/><path d="M321.0 240.7 L325.8 240.0 L327.9 243.5 L327.2 247.6 L323.8 246.2 L321.0 243.5Z" fill="#cc9944" stroke="#cc9944" stroke-width="0.8"/><path d="M243.5 32.4 L251.5 32.4 L247.1 37.8Z" fill="#fff" stroke="#fff" stroke-width="0.1"/></g>
<g clip-path="url(#cro)"><g clip-path="url(#cr)" stroke-linejoin="round"><path d="M804.4 93.3 L817.8 88.9 L833.3 90.0 L855.6 93.3 L873.3 92.2 L891.1 97.8 L901.1 104.4 L904.4 115.6 L903.3 128.9 L897.8 140.0 L886.7 144.4 L873.3 146.7 L860.0 147.8 L851.1 151.1 L847.4 158.2 L853.9 166.3 L856.4 174.5 L857.2 182.7 L854.7 192.5 L849.0 199.0 L844.9 205.6 L844.1 215.4 L840.8 221.9 L832.7 228.4 L826.1 235.0 L818.0 241.5 L811.4 246.4 L806.1 248.4 L797.2 250.7 L779.4 251.8 L773.9 249.6 L768.3 254.0 L762.8 260.7 L757.2 266.2 L752.8 269.6 L746.1 270.7 L726.7 274.4 L726.7 287.8 L720.0 298.9 L711.1 310.0 L704.4 321.1 L700.0 326.0 L701.0 325.6 L692.1 332.7 L683.2 339.8 L682.3 348.7 L679.7 355.9 L679.7 350.7 L670.8 357.8 L661.9 361.4 L647.6 361.4 L642.3 358.7 L637.8 360.5 L634.3 372.9 L629.8 378.3 L620.9 383.6 L597.7 383.6 L588.8 378.3 L581.7 370.3 L579.0 357.8 L579.9 348.0 L579.9 348.7 L581.7 341.6 L588.8 334.5 L601.3 330.9 L613.8 330.0 L620.9 332.7 L626.2 323.8 L633.4 314.9 L640.5 309.6 L645.8 300.6 L647.6 293.5 L654.7 287.3 L660.1 281.1 L661.9 273.9 L663.6 265.0 L660.1 257.9 L656.5 252.6 L656.5 249.0 L657.8 252.2 L655.6 238.9 L657.8 227.8 L666.7 221.1 L675.6 216.7 L684.4 207.8 L695.6 196.7 L706.7 190.0 L700.0 195.6 L704.4 191.1 L713.3 188.9 L726.7 186.7 L740.0 183.3 L751.1 178.9 L760.0 175.6 L766.7 168.9 L775.6 163.3 L776.7 155.6 L780.0 146.7 L785.6 137.8 L782.2 128.9 L787.8 120.0 L786.7 108.9 L793.3 100.0Z" fill="#ffe8bf" stroke="#ffe8bf" stroke-width="1"/><path d="M810.2 96.0 L818.2 92.4 L830.7 89.8 L839.6 92.4 L846.7 96.0 L853.9 99.6 L861.0 102.2 L855.6 104.4 L845.0 104.0 L836.0 105.8 L832.5 111.1 L825.4 115.6 L818.2 116.5 L813.8 112.0 L810.2 104.9Z M805.8 111.1 L805.2 113.3 L803.8 115.0 L801.6 116.0 L799.2 116.0 L797.1 115.0 L795.6 113.3 L795.1 111.1 L795.6 109.0 L797.1 107.2 L799.2 106.3 L801.6 106.3 L803.8 107.2 L805.2 109.0Z M793.3 130.7 L792.8 133.7 L791.4 136.0 L789.4 137.3 L787.2 137.3 L785.2 136.0 L783.8 133.7 L783.3 130.7 L783.8 127.8 L785.2 125.4 L787.2 124.1 L789.4 124.1 L791.4 125.4 L792.8 127.8Z M853.9 130.7 L862.8 125.4 L875.2 123.6 L889.5 126.3 L900.2 130.7 L903.7 137.9 L900.2 145.0 L853.9 145.0Z M833.3 131.1 L846.7 130.0 L855.6 135.6 L853.3 144.4 L844.4 146.7 L835.6 142.2Z M864.4 135.6 L875.6 130.0 L886.7 131.1 L888.9 140.0 L877.8 145.6 L866.7 146.7Z M855.6 93.3 L868.9 92.9 L877.8 97.8 L868.9 102.2 L857.8 100.0Z M780.0 146.7 L793.3 140.0 L806.7 144.4 L815.6 146.7 L824.4 144.4 L837.8 148.9 L851.1 151.1 L846.7 157.8 L855.6 168.9 L860.0 180.0 L858.9 191.1 L853.3 204.4 L844.4 216.0 L837.8 206.7 L824.4 157.8 L797.8 163.3 L766.7 168.9 L775.6 163.3 L776.7 155.6Z M700.0 195.6 L713.3 188.9 L740.0 183.3 L760.0 175.6 L771.1 180.0 L753.3 193.3 L747.8 201.1 L746.7 211.1 L733.3 204.4 L720.0 204.4 L708.9 211.1 L700.0 213.3Z M697.8 257.8 L706.7 253.3 L715.6 255.6 L728.9 251.1 L744.4 244.4 L753.3 253.3 L753.3 268.9 L737.8 271.1 L726.7 277.8 L726.7 288.9 L720.0 297.8 L713.3 302.2 L704.4 304.4 L697.8 297.8 L693.3 288.9 L688.9 284.4 L693.3 275.6 L702.2 268.9 L700.0 262.2Z M666.7 257.8 L675.6 255.6 L682.2 264.4 L684.4 277.8 L680.0 288.9 L671.1 288.9 L664.4 277.8Z M664.4 224.4 L675.6 217.8 L684.4 208.9 L693.3 213.3 L691.1 224.4 L684.4 233.3 L673.3 237.8 L664.4 235.6Z M647.6 293.5 L654.7 287.3 L661.9 290.0 L669.0 302.4 L665.4 309.6 L654.7 307.8 L647.6 302.4Z M633.4 314.9 L640.5 309.6 L651.2 311.3 L654.7 320.2 L661.9 323.8 L669.0 320.2 L679.7 316.7 L690.4 320.2 L692.1 332.7 L683.2 339.8 L669.0 341.6 L661.9 348.7 L651.2 345.2 L644.0 338.0 L638.7 327.4Z M581.7 341.6 L588.8 334.5 L601.3 330.9 L613.8 330.0 L617.3 338.0 L613.8 348.7 L608.4 355.9 L599.5 358.0 L587.1 355.9Z M626.2 350.5 L633.4 345.2 L647.6 347.0 L654.7 354.1 L651.2 361.2 L640.5 364.8 L629.8 363.0Z M581.7 343.6 L599.5 341.8 L608.4 347.1 L606.6 354.2 L596.0 357.8 L585.3 356.0 L579.9 350.7Z M583.5 366.7 L590.6 368.5 L591.5 375.6 L587.1 378.3 L582.6 372.9Z M620.9 350.7 L629.8 352.5 L630.7 359.6 L624.5 361.4 L620.0 357.8Z M679.7 266.8 L690.4 259.7 L702.8 259.7 L715.3 261.5 L726.0 263.2 L726.0 272.2 L726.0 284.6 L718.8 295.3 L708.2 304.2 L697.5 307.8 L690.4 302.4 L685.0 291.7 L683.2 279.3Z M845.8 199.0 L844.9 205.6 L844.1 215.4 L840.8 221.9 L832.7 228.4 L826.1 235.0 L818.0 241.5 L811.4 246.4 L809.8 231.7 L821.2 218.6 L832.7 205.6Z" fill="#d9ffcc" stroke="#d9ffcc" stroke-width="1.2"/><path d="M801.7 163.3 L795.0 165.6 L788.3 168.9 L781.7 173.3 L776.1 177.8 L770.6 183.3 L767.2 187.8 L760.6 191.1 L755.0 194.4 L749.4 198.9 L746.1 203.3 L745.6 208.9 L747.2 214.4 L746.1 218.4 L746.7 229.6 L750.6 237.3 L757.2 241.8 L765.0 239.6 L768.3 237.3 L772.8 238.4 L779.4 235.1 L787.2 232.9 L793.9 235.1 L798.3 240.7 L801.7 246.2 L806.1 248.4 L811.7 242.9 L817.2 238.4 L820.6 234.0 L821.7 226.2 L820.6 219.6 L823.9 214.0 L829.4 208.4 L829.4 211.1 L833.9 206.7 L838.3 202.2 L843.9 196.7 L846.1 190.0 L847.2 183.3 L846.1 177.2 L841.7 175.0 L835.0 173.9 L829.4 171.1 L822.8 166.7 L817.2 165.6 L812.8 166.7 L807.2 164.4Z" fill="#99ff99" stroke="#99ff99" stroke-width="10"/><path d="M885.6 138.2 L885.2 139.3 L884.4 140.2 L883.1 140.6 L881.6 140.6 L880.4 140.2 L879.5 139.3 L879.1 138.2 L879.5 137.1 L880.4 136.3 L881.6 135.8 L883.1 135.8 L884.4 136.3 L885.2 137.1Z M881.6 137.2 L881.6 138.7 L880.4 140.4 L878.2 142.1 L875.5 143.4 L872.8 144.0 L870.7 143.8 L869.5 142.8 L869.5 141.3 L870.8 139.6 L872.9 137.9 L875.6 136.6 L878.3 136.0 L880.4 136.2Z M831.2 98.7 L830.7 99.6 L829.4 100.3 L827.4 100.8 L825.1 100.8 L823.1 100.3 L821.8 99.6 L821.3 98.7 L821.8 97.7 L823.1 97.0 L825.1 96.6 L827.4 96.6 L829.4 97.0 L830.7 97.7Z M722.9 190.7 L722.3 193.2 L720.5 195.2 L718.1 196.3 L715.3 196.3 L712.8 195.2 L711.1 193.2 L710.4 190.7 L711.1 188.2 L712.8 186.1 L715.3 185.0 L718.1 185.0 L720.5 186.1 L722.3 188.2Z M741.8 191.1 L741.2 193.6 L739.4 195.6 L736.9 196.7 L734.2 196.7 L731.7 195.6 L729.9 193.6 L729.3 191.1 L729.9 188.6 L731.7 186.6 L734.2 185.5 L736.9 185.5 L739.4 186.6 L741.2 188.6Z M693.6 213.3 L693.0 215.5 L691.4 217.2 L689.1 218.1 L686.5 218.1 L684.2 217.2 L682.6 215.5 L682.0 213.3 L682.6 211.2 L684.2 209.5 L686.5 208.6 L689.1 208.6 L691.4 209.5 L693.0 211.2Z M672.4 234.4 L671.9 237.0 L670.3 239.0 L668.0 240.1 L665.4 240.1 L663.1 239.0 L661.5 237.0 L660.9 234.4 L661.5 231.9 L663.1 229.9 L665.4 228.8 L668.0 228.8 L670.3 229.9 L671.9 231.9Z M773.9 240.7 L779.4 236.2 L787.2 234.0 L793.9 236.2 L797.2 241.8 L796.1 248.4 L788.3 250.7 L779.4 249.6 L774.4 246.2Z M748.3 269.6 L752.8 259.6 L759.4 250.7 L767.2 242.9 L773.9 240.7 L775.0 248.4 L768.3 254.0 L762.8 260.7 L757.2 266.2 L752.8 269.6Z M819.4 217.3 L823.9 212.9 L830.6 208.4 L835.0 210.7 L832.8 218.4 L828.3 226.2 L822.8 232.9 L818.3 236.2Z M750.0 192.5 L757.5 180.0 L770.0 170.0 L782.5 162.5 L795.0 157.5 L810.0 156.2 L815.0 162.5 L800.0 165.0 L785.0 172.5 L772.5 182.5 L762.5 192.5 L752.5 200.0Z" fill="#99ff99" stroke="#99ff99" stroke-width="1.2"/><path d="M801.7 163.3 L795.0 165.6 L788.3 168.9 L781.7 173.3 L776.1 177.8 L770.6 183.3 L767.2 187.8 L760.6 191.1 L755.0 194.4 L749.4 198.9 L746.1 203.3 L745.6 208.9 L747.2 214.4 L746.1 218.4 L746.7 229.6 L750.6 237.3 L757.2 241.8 L765.0 239.6 L768.3 237.3 L772.8 238.4 L779.4 235.1 L787.2 232.9 L793.9 235.1 L798.3 240.7 L801.7 246.2 L806.1 248.4 L811.7 242.9 L817.2 238.4 L820.6 234.0 L821.7 226.2 L820.6 219.6 L823.9 214.0 L829.4 208.4 L829.4 211.1 L833.9 206.7 L838.3 202.2 L843.9 196.7 L846.1 190.0 L847.2 183.3 L846.1 177.2 L841.7 175.0 L835.0 173.9 L829.4 171.1 L822.8 166.7 L817.2 165.6 L812.8 166.7 L807.2 164.4Z" fill="#66ffff" stroke="#66ffff" stroke-width="1"/><path d="M778.3 240.7 L785.0 237.3 L791.7 238.4 L795.0 244.0 L789.4 247.3 L782.8 244.0Z" fill="#d9ffcc" stroke="#d9ffcc" stroke-width="1"/><path d="M873.1 144.9 L872.9 145.8 L872.4 146.5 L871.6 146.8 L870.7 146.8 L869.9 146.5 L869.3 145.8 L869.1 144.9 L869.3 144.0 L869.9 143.3 L870.7 142.9 L871.6 142.9 L872.4 143.3 L872.9 144.0Z M720.9 190.7 L720.5 192.4 L719.3 193.8 L717.6 194.6 L715.7 194.6 L714.0 193.8 L712.9 192.4 L712.4 190.7 L712.9 188.9 L714.0 187.5 L715.7 186.8 L717.6 186.8 L719.3 187.5 L720.5 188.9Z M739.8 191.1 L739.4 192.8 L738.2 194.2 L736.5 195.0 L734.6 195.0 L732.9 194.2 L731.8 192.8 L731.3 191.1 L731.8 189.4 L732.9 188.0 L734.6 187.2 L736.5 187.2 L738.2 188.0 L739.4 189.4Z M691.3 213.3 L691.0 214.7 L690.0 215.8 L688.6 216.4 L687.0 216.4 L685.6 215.8 L684.6 214.7 L684.2 213.3 L684.6 212.0 L685.6 210.9 L687.0 210.3 L688.6 210.3 L690.0 210.9 L691.0 212.0Z M670.2 234.4 L669.9 236.2 L668.9 237.6 L667.5 238.3 L665.9 238.3 L664.4 237.6 L663.5 236.2 L663.1 234.4 L663.5 232.7 L664.4 231.3 L665.9 230.5 L667.5 230.5 L668.9 231.3 L669.9 232.7Z M751.7 268.4 L758.3 258.4 L765.0 250.7 L771.7 248.4 L768.3 254.0 L761.7 261.8 L756.1 267.9Z M819.6 221.9 L827.8 215.4 L837.6 203.9 L844.1 197.4 L847.4 189.2 L849.0 182.7 L845.8 199.0 L840.8 212.1 L832.7 221.9 L822.9 230.1 L816.3 231.7Z" fill="#66ffff" stroke="#66ffff" stroke-width="1"/><path d="M765.0 210.0 L768.3 205.6 L773.9 202.2 L779.4 198.9 L786.1 196.7 L792.8 194.4 L796.1 196.7 L795.0 200.0 L790.6 202.2 L787.2 205.6 L783.9 208.9 L780.6 212.2 L776.1 214.4 L770.6 213.3 L766.1 212.2Z M797.2 202.2 L806.1 200.0 L811.7 198.9 L812.8 207.8 L810.6 212.2 L806.1 210.0 L801.7 207.8 L797.2 205.6Z M809.4 170.0 L815.0 169.4 L819.4 172.2 L815.0 175.6 L812.8 182.2 L814.4 188.3 L817.2 190.0 L821.7 186.7 L826.1 194.4 L823.9 198.9 L817.2 196.7 L811.7 194.4 L807.2 192.2 L806.1 187.8 L808.3 181.1Z M762.8 210.7 L768.3 206.2 L777.2 204.0 L810.6 204.0 L812.8 208.4 L806.1 212.9 L799.4 214.0 L792.8 211.8 L785.0 211.8 L779.4 214.0 L773.9 216.2 L768.3 216.2Z M771.7 185.6 L773.9 181.1 L778.3 177.8 L782.8 174.4 L788.3 171.1 L793.9 168.9 L798.3 166.7 L802.8 166.1 L805.0 168.9 L804.4 172.2 L800.6 173.9 L797.2 176.1 L795.0 178.9 L791.7 180.6 L789.4 183.3 L788.3 186.7 L785.0 188.9 L780.6 189.4 L776.1 188.9 L772.8 187.8Z M750.6 202.2 L752.8 197.8 L757.2 194.4 L762.8 192.8 L767.2 193.3 L768.3 196.7 L766.1 200.0 L762.8 204.4 L759.4 208.9 L755.0 212.2 L751.7 210.6 L750.0 206.7Z M822.8 182.2 L827.2 180.0 L830.6 177.2 L835.0 176.7 L840.6 176.7 L844.4 178.9 L845.0 184.4 L843.3 190.0 L840.6 194.4 L835.0 197.8 L830.6 198.9 L828.3 195.6 L827.2 190.0 L823.9 186.7Z M812.8 182.2 L816.1 175.6 L821.7 173.9 L823.9 177.8 L821.7 182.2 L819.4 185.6 L817.2 188.9 L814.4 187.8Z M811.0 196.1 L810.6 197.3 L809.6 198.2 L808.1 198.7 L806.4 198.7 L804.9 198.2 L803.8 197.3 L803.4 196.1 L803.8 195.0 L804.9 194.0 L806.4 193.5 L808.1 193.5 L809.6 194.0 L810.6 195.0Z M811.7 200.0 L816.1 197.8 L819.4 201.1 L823.9 202.2 L829.4 203.3 L828.3 206.7 L822.8 207.8 L817.2 207.8 L812.8 205.6Z M771.7 224.0 L773.9 219.6 L778.3 216.2 L782.8 214.0 L788.3 212.9 L795.0 213.4 L799.4 215.1 L803.9 217.3 L807.2 220.7 L811.7 220.7 L815.0 224.0 L817.2 229.6 L818.3 235.1 L815.0 238.4 L810.6 240.7 L806.1 241.8 L801.7 238.4 L798.3 235.1 L795.0 231.8 L790.6 230.7 L786.1 230.7 L781.7 232.9 L777.2 235.1 L772.8 236.2 L769.4 234.0 L768.3 229.6Z M747.2 202.9 L762.8 202.9 L761.7 209.6 L757.2 212.9 L751.7 214.0 L747.8 210.7Z M812.8 202.9 L829.4 202.9 L826.1 208.4 L820.6 211.8 L816.1 209.6Z M747.2 216.2 L752.8 214.0 L757.2 217.3 L755.0 222.9 L749.4 225.1 L746.7 221.8Z" fill="#00ccff" stroke="#00ccff" stroke-width="7"/><path d="M749.4 212.9 L762.8 211.8 L771.7 217.3 L767.2 224.0 L761.7 226.2 L755.0 224.0 L750.6 219.6Z" fill="#00ccff" stroke="#00ccff" stroke-width="1"/><path d="M765.0 210.0 L768.3 205.6 L773.9 202.2 L779.4 198.9 L786.1 196.7 L792.8 194.4 L796.1 196.7 L795.0 200.0 L790.6 202.2 L787.2 205.6 L783.9 208.9 L780.6 212.2 L776.1 214.4 L770.6 213.3 L766.1 212.2Z M797.2 202.2 L806.1 200.0 L811.7 198.9 L812.8 207.8 L810.6 212.2 L806.1 210.0 L801.7 207.8 L797.2 205.6Z M809.4 170.0 L815.0 169.4 L819.4 172.2 L815.0 175.6 L812.8 182.2 L814.4 188.3 L817.2 190.0 L821.7 186.7 L826.1 194.4 L823.9 198.9 L817.2 196.7 L811.7 194.4 L807.2 192.2 L806.1 187.8 L808.3 181.1Z M762.8 210.7 L768.3 206.2 L777.2 204.0 L810.6 204.0 L812.8 208.4 L806.1 212.9 L799.4 214.0 L792.8 211.8 L785.0 211.8 L779.4 214.0 L773.9 216.2 L768.3 216.2Z" fill="#0066ff" stroke="#0066ff" stroke-width="1"/><path d="M771.7 185.6 L773.9 181.1 L778.3 177.8 L782.8 174.4 L788.3 171.1 L793.9 168.9 L798.3 166.7 L802.8 166.1 L805.0 168.9 L804.4 172.2 L800.6 173.9 L797.2 176.1 L795.0 178.9 L791.7 180.6 L789.4 183.3 L788.3 186.7 L785.0 188.9 L780.6 189.4 L776.1 188.9 L772.8 187.8Z M750.6 202.2 L752.8 197.8 L757.2 194.4 L762.8 192.8 L767.2 193.3 L768.3 196.7 L766.1 200.0 L762.8 204.4 L759.4 208.9 L755.0 212.2 L751.7 210.6 L750.0 206.7Z M822.8 182.2 L827.2 180.0 L830.6 177.2 L835.0 176.7 L840.6 176.7 L844.4 178.9 L845.0 184.4 L843.3 190.0 L840.6 194.4 L835.0 197.8 L830.6 198.9 L828.3 195.6 L827.2 190.0 L823.9 186.7Z M812.8 182.2 L816.1 175.6 L821.7 173.9 L823.9 177.8 L821.7 182.2 L819.4 185.6 L817.2 188.9 L814.4 187.8Z M811.0 196.1 L810.6 197.3 L809.6 198.2 L808.1 198.7 L806.4 198.7 L804.9 198.2 L803.8 197.3 L803.4 196.1 L803.8 195.0 L804.9 194.0 L806.4 193.5 L808.1 193.5 L809.6 194.0 L810.6 195.0Z M811.7 200.0 L816.1 197.8 L819.4 201.1 L823.9 202.2 L829.4 203.3 L828.3 206.7 L822.8 207.8 L817.2 207.8 L812.8 205.6Z M771.7 224.0 L773.9 219.6 L778.3 216.2 L782.8 214.0 L788.3 212.9 L795.0 213.4 L799.4 215.1 L803.9 217.3 L807.2 220.7 L811.7 220.7 L815.0 224.0 L817.2 229.6 L818.3 235.1 L815.0 238.4 L810.6 240.7 L806.1 241.8 L801.7 238.4 L798.3 235.1 L795.0 231.8 L790.6 230.7 L786.1 230.7 L781.7 232.9 L777.2 235.1 L772.8 236.2 L769.4 234.0 L768.3 229.6Z M747.2 202.9 L762.8 202.9 L761.7 209.6 L757.2 212.9 L751.7 214.0 L747.8 210.7Z M812.8 202.9 L829.4 202.9 L826.1 208.4 L820.6 211.8 L816.1 209.6Z M747.2 216.2 L752.8 214.0 L757.2 217.3 L755.0 222.9 L749.4 225.1 L746.7 221.8Z" fill="#0066ff" stroke="#0066ff" stroke-width="4.4"/><path d="M718.7 190.7 L718.5 191.5 L717.9 192.2 L717.1 192.6 L716.2 192.6 L715.4 192.2 L714.9 191.5 L714.7 190.7 L714.9 189.8 L715.4 189.1 L716.2 188.7 L717.1 188.7 L717.9 189.1 L718.5 189.8Z M737.6 191.1 L737.4 192.0 L736.8 192.7 L736.0 193.1 L735.1 193.1 L734.3 192.7 L733.8 192.0 L733.6 191.1 L733.8 190.2 L734.3 189.5 L735.1 189.2 L736.0 189.2 L736.8 189.5 L737.4 190.2Z" fill="#9966ff" stroke="#00ccff" stroke-width="1.6"/><path d="M747.2 216.2 L752.8 214.0 L757.2 217.3 L755.0 222.9 L749.4 225.1 L746.7 221.8Z" fill="#9966ff" stroke="#9966ff" stroke-width="1"/><path d="M771.7 185.6 L773.9 181.1 L778.3 177.8 L782.8 174.4 L788.3 171.1 L793.9 168.9 L798.3 166.7 L802.8 166.1 L805.0 168.9 L804.4 172.2 L800.6 173.9 L797.2 176.1 L795.0 178.9 L791.7 180.6 L789.4 183.3 L788.3 186.7 L785.0 188.9 L780.6 189.4 L776.1 188.9 L772.8 187.8Z M750.6 202.2 L752.8 197.8 L757.2 194.4 L762.8 192.8 L767.2 193.3 L768.3 196.7 L766.1 200.0 L762.8 204.4 L759.4 208.9 L755.0 212.2 L751.7 210.6 L750.0 206.7Z M822.8 182.2 L827.2 180.0 L830.6 177.2 L835.0 176.7 L840.6 176.7 L844.4 178.9 L845.0 184.4 L843.3 190.0 L840.6 194.4 L835.0 197.8 L830.6 198.9 L828.3 195.6 L827.2 190.0 L823.9 186.7Z M812.8 182.2 L816.1 175.6 L821.7 173.9 L823.9 177.8 L821.7 182.2 L819.4 185.6 L817.2 188.9 L814.4 187.8Z M811.0 196.1 L810.6 197.3 L809.6 198.2 L808.1 198.7 L806.4 198.7 L804.9 198.2 L803.8 197.3 L803.4 196.1 L803.8 195.0 L804.9 194.0 L806.4 193.5 L808.1 193.5 L809.6 194.0 L810.6 195.0Z M811.7 200.0 L816.1 197.8 L819.4 201.1 L823.9 202.2 L829.4 203.3 L828.3 206.7 L822.8 207.8 L817.2 207.8 L812.8 205.6Z M771.7 224.0 L773.9 219.6 L778.3 216.2 L782.8 214.0 L788.3 212.9 L795.0 213.4 L799.4 215.1 L803.9 217.3 L807.2 220.7 L811.7 220.7 L815.0 224.0 L817.2 229.6 L818.3 235.1 L815.0 238.4 L810.6 240.7 L806.1 241.8 L801.7 238.4 L798.3 235.1 L795.0 231.8 L790.6 230.7 L786.1 230.7 L781.7 232.9 L777.2 235.1 L772.8 236.2 L769.4 234.0 L768.3 229.6Z M747.2 202.9 L762.8 202.9 L761.7 209.6 L757.2 212.9 L751.7 214.0 L747.8 210.7Z M812.8 202.9 L829.4 202.9 L826.1 208.4 L820.6 211.8 L816.1 209.6Z" fill="#dd66ff" stroke="#9966ff" stroke-width="2"/><path d="M787.4 175.6 L787.3 176.0 L787.0 176.3 L786.6 176.5 L786.1 176.5 L785.6 176.3 L785.3 176.0 L785.2 175.6 L785.3 175.1 L785.6 174.8 L786.1 174.6 L786.6 174.6 L787.0 174.8 L787.3 175.1Z M780.6 182.2 L780.4 182.7 L780.1 183.0 L779.7 183.2 L779.2 183.2 L778.8 183.0 L778.4 182.7 L778.3 182.2 L778.4 181.8 L778.8 181.4 L779.2 181.2 L779.7 181.2 L780.1 181.4 L780.4 181.8Z M835.4 191.7 L835.3 192.5 L834.9 193.2 L834.2 193.6 L833.5 193.6 L832.9 193.2 L832.5 192.5 L832.3 191.7 L832.5 190.8 L832.9 190.1 L833.5 189.7 L834.2 189.7 L834.9 190.1 L835.3 190.8Z M751.7 203.3 L756.1 198.9 L761.1 196.7 L762.2 198.9 L758.9 203.3 L755.0 207.8 L752.2 207.2Z M797.2 227.3 L800.6 224.0 L806.1 222.9 L810.6 224.0 L811.7 229.6 L810.6 235.1 L807.2 237.3 L802.8 235.1 L799.4 231.8Z M771.7 226.2 L773.9 220.7 L778.3 219.6 L781.7 222.9 L780.6 227.3 L777.2 230.7 L773.3 230.1Z M751.7 202.9 L757.2 202.9 L756.7 207.3 L753.3 208.4Z" fill="#ff00f5" stroke="#ff00f5" stroke-width="0.6"/></g></g>
<line x1="149.3" y1="31.45" x2="149.3" y2="414.4" stroke="#000" stroke-opacity="0.4" stroke-width="1"/>
<line x1="213.0" y1="31.45" x2="213.0" y2="414.4" stroke="#000" stroke-opacity="0.4" stroke-width="1"/>
<line x1="276.6" y1="31.45" x2="276.6" y2="414.4" stroke="#000" stroke-opacity="0.4" stroke-width="1"/>
<line x1="340.9" y1="31.45" x2="340.9" y2="414.4" stroke="#000" stroke-opacity="0.4" stroke-width="1"/>
<line x1="404.4" y1="31.45" x2="404.4" y2="414.4" stroke="#000" stroke-opacity="0.4" stroke-width="1"/>
<line x1="85.55" y1="349.6" x2="468.5" y2="349.6" stroke="#000" stroke-opacity="0.4" stroke-width="1"/>
<line x1="85.55" y1="285.8" x2="468.5" y2="285.8" stroke="#000" stroke-opacity="0.4" stroke-width="1"/>
<line x1="85.55" y1="222.0" x2="468.5" y2="222.0" stroke="#000" stroke-opacity="0.4" stroke-width="1"/>
<line x1="85.55" y1="158.3" x2="468.5" y2="158.3" stroke="#000" stroke-opacity="0.4" stroke-width="1"/>
<line x1="85.55" y1="94.5" x2="468.5" y2="94.5" stroke="#000" stroke-opacity="0.4" stroke-width="1"/>
<line x1="618.5" y1="31.45" x2="618.5" y2="414.4" stroke="#000" stroke-opacity="0.4" stroke-width="1"/>
<line x1="682.4" y1="31.45" x2="682.4" y2="414.4" stroke="#000" stroke-opacity="0.4" stroke-width="1"/>
<line x1="746.2" y1="31.45" x2="746.2" y2="414.4" stroke="#000" stroke-opacity="0.4" stroke-width="1"/>
<line x1="810.6" y1="31.45" x2="810.6" y2="414.4" stroke="#000" stroke-opacity="0.4" stroke-width="1"/>
<line x1="874.0" y1="31.45" x2="874.0" y2="414.4" stroke="#000" stroke-opacity="0.4" stroke-width="1"/>
<line x1="555.55" y1="349.6" x2="938.45" y2="349.6" stroke="#000" stroke-opacity="0.4" stroke-width="1"/>
<line x1="555.55" y1="285.8" x2="938.45" y2="285.8" stroke="#000" stroke-opacity="0.4" stroke-width="1"/>
<line x1="555.55" y1="222.0" x2="938.45" y2="222.0" stroke="#000" stroke-opacity="0.4" stroke-width="1"/>
<line x1="555.55" y1="158.3" x2="938.45" y2="158.3" stroke="#000" stroke-opacity="0.4" stroke-width="1"/>
<line x1="555.55" y1="94.5" x2="938.45" y2="94.5" stroke="#000" stroke-opacity="0.4" stroke-width="1"/>
<g clip-path="url(#cl)"><g stroke="#000" stroke-width="1.45" stroke-linejoin="round" stroke-linecap="round" fill="none" transform="translate(-469.6,0)"><path d="M747.0 48.8 L740.2 50.6 L733.1 52.0 L726.0 54.2 L719.7 55.9 L716.2 58.1 L713.5 59.5 L708.2 59.9 L702.8 59.5 L696.6 59.5" fill="none"/><path d="M713.5 60.4 L711.7 63.1 L708.2 65.4 L702.8 66.1 L697.5 66.6 L692.1 68.0 L686.8 71.1" fill="none"/><path d="M708.5 90.7 L712.6 89.4 L717.1 90.7 L718.5 94.2 L716.7 98.3 L712.6 100.5 L709.6 98.3 L707.8 94.2Z" fill="none"/><path d="M677.9 139.6 L678.8 136.1 L682.3 132.5 L687.7 129.0 L693.0 126.3 L692.1 123.6 L697.5 123.6 L701.0 120.0 L703.7 117.4 L706.4 116.1 L708.2 119.2 L709.6 116.5 L711.7 116.1 L712.6 120.0 L716.2 120.9 L718.8 122.7 L721.5 123.6 L726.0 122.2 L731.3 120.9 L736.7 119.2 L742.0 116.5 L747.0 114.3" fill="none"/><path d="M606.6 90.1 L609.3 90.3 L611.6 91.9 L609.0 91.9Z" fill="#000"/><path d="M615.6 117.2 L617.0 116.1 L617.7 118.3 L616.1 118.6Z" fill="#000"/><path d="M639.6 110.6 L642.3 110.6 L643.5 112.9 L640.8 112.6Z" fill="#000"/><path d="M666.0 110.3 L667.7 107.2 L669.9 106.7 L669.0 109.7Z" fill="#000"/><path d="M747.0 48.8 L752.3 46.1 L757.7 43.5 L761.2 39.9 L763.9 37.2 L768.4 35.5 L769.8 33.1 L766.6 32.4 L763.9 33.7 L762.1 31.9" fill="none"/><path d="M747.0 113.8 L752.3 108.5 L757.7 102.2 L764.8 96.9 L773.7 88.0 L782.6 79.1 L789.7 69.3 L796.9 61.3 L802.2 55.9 L808.4 51.5 L812.0 47.9 L814.3 43.5 L815.6 39.0 L816.8 34.6 L816.5 31.9" fill="none"/><path d="M837.8 31.9 L836.9 38.1 L834.3 45.2 L835.7 50.6 L836.0 57.7 L836.9 63.1 L835.2 68.4 L833.9 73.7 L834.3 79.1 L836.0 82.6 L837.8 80.0 L840.5 76.4 L844.1 73.7 L847.6 73.4 L851.2 72.9 L853.0 76.4 L853.9 80.5 L855.3 77.7 L854.7 72.9 L853.5 70.2 L850.3 69.3 L848.5 65.7 L845.8 63.1 L843.2 59.5 L842.8 55.0 L844.6 49.7 L847.6 44.4 L852.1 40.8 L857.4 39.0 L862.8 39.0 L866.7 41.7 L869.5 44.9 L870.4 47.4 L869.0 43.5 L866.3 39.0 L863.7 34.6 L861.9 31.9" fill="none"/><path d="M834.9 87.1 L838.6 90.3 L841.8 93.5 L844.9 96.7 L848.1 99.3 L851.3 101.5 L854.5 103.6 L858.8 105.2 L863.0 106.8 L867.3 107.8 L870.5 107.8 L873.6 105.7 L876.3 104.1 L878.4 102.5 L877.9 104.7 L876.3 107.3 L875.8 110.0 L877.4 112.1 L876.8 114.8 L879.0 115.8 L881.1 115.3 L883.2 114.8 L880.0 116.9 L876.8 117.9 L873.6 119.0 L870.5 119.5 L867.3 119.5 L864.1 120.1 L860.9 121.7 L857.7 123.8 L855.0 126.4 L852.9 129.1 L852.4 131.8 L851.3 133.4 L848.1 132.3 L844.9 130.7 L841.8 129.1 L838.6 127.5 L835.4 125.9 L832.2 124.9 L829.0 124.9 L826.3 125.9 L823.7 127.5 L821.6 129.1 L820.5 127.5 L818.9 125.9 L816.3 125.4 L814.1 127.0 L813.6 129.1 L815.7 130.7 L818.9 131.8 L822.1 133.4 L824.8 134.9 L822.6 135.5 L820.0 134.9 L817.8 136.0 L815.7 137.6 L813.6 139.2 L811.5 140.3 L810.9 137.6 L811.5 134.9 L810.9 132.3 L809.3 130.2 L807.8 128.0 L808.3 125.4 L810.4 123.3 L813.1 121.7 L815.7 119.0 L814.7 116.9 L816.8 115.8 L820.5 116.3 L824.2 116.9 L826.9 115.8 L827.9 113.2 L827.4 110.5 L829.5 108.9 L830.6 106.3 L831.7 103.1 L832.7 99.9 L832.2 96.2 L831.7 93.0 L830.6 89.8 L832.2 88.2Z" fill="none"/><path d="M808.8 150.0 L810.9 147.7 L813.6 145.6 L814.7 142.9 L816.3 142.4 L817.8 144.0 L818.9 146.6 L821.0 147.2 L821.6 144.5 L821.0 141.3 L822.6 139.7 L825.3 140.3 L826.9 142.4 L827.4 140.3 L828.8 140.3 L828.8 144.5 L829.0 150.0" fill="none"/><path d="M879.7 109.4 L882.4 106.7 L885.9 104.0 L889.5 101.3 L893.0 101.3 L889.5 104.0 L885.9 106.7 L882.4 109.4 L879.7 110.3Z" fill="none"/><path d="M898.0 101.3 L901.9 97.8 L907.3 93.3 L911.7 90.7 L916.2 88.9 L920.6 87.6 L923.3 88.3 L918.9 90.7 L914.4 91.6 L910.0 94.2 L905.5 97.3 L901.1 100.5 L898.4 101.7Z" fill="none"/><path d="M930.4 86.2 L934.0 83.5 L938.5 81.8 L937.6 84.4 L933.1 86.6Z" fill="none"/><path d="M894.5 108.5 L898.0 107.9 L898.0 109.7 L894.8 110.1Z" fill="#000"/><path d="M827.1 92.1 L826.8 92.8 L826.3 93.2 L825.5 93.2 L825.0 92.8 L824.7 92.1 L825.0 91.4 L825.5 91.0 L826.3 91.0 L826.8 91.4Z" fill="#000"/><path d="M804.8 130.4 L804.6 131.1 L804.0 131.5 L803.3 131.5 L802.7 131.1 L802.5 130.4 L802.7 129.7 L803.3 129.3 L804.0 129.3 L804.6 129.7Z" fill="#000"/><path d="M555.9 156.9 L556.6 155.9 L557.5 154.9 L558.8 154.5 L559.2 153.2 L560.2 152.3 L561.4 151.5 L562.6 150.9 L563.3 149.5 L564.5 148.8 L565.6 147.9 L567.0 148.0 L568.2 147.2 L569.5 147.3 L570.6 146.2 L571.9 146.1 L573.2 146.2 L574.5 146.3 L575.7 145.6 L576.9 145.2 L578.1 145.1 L579.2 146.0 L580.6 146.4 L581.3 147.6 L582.5 148.2 L583.2 149.1 L583.4 150.3 L583.3 151.6 L582.7 152.6 L581.9 153.6 L581.6 155.0 L581.0 156.1 L580.1 157.1 L578.8 157.6 L578.3 158.9 L577.3 159.7 L576.1 160.6 L574.9 161.4 L573.7 162.3 L572.4 163.3 L572.1 165.0 L573.6 165.4 L574.5 166.9 L575.9 166.8 L577.1 166.6 L578.1 165.8 L576.7 166.3 L575.5 167.2 L574.7 168.6 L573.3 168.8 L572.1 169.4 L571.0 170.2 L570.1 171.2 L569.3 172.1 L570.2 173.8 L571.3 173.3 L572.4 172.8 L573.7 173.0 L574.8 172.1 L576.2 172.1 L577.1 170.9 L578.6 170.9 L579.6 170.0 L580.8 169.6 L581.8 168.7 L583.0 168.1 L583.9 167.1 L584.6 165.9 L586.1 165.9 L587.0 164.8 L588.2 164.2 L589.6 164.0 L590.8 163.4 L592.0 162.7 L593.4 162.5 L594.6 162.0 L595.7 161.4 L597.0 160.9 L598.4 161.2 L599.5 160.5 L600.9 160.6 L602.2 159.9 L603.5 159.5 L604.9 159.6 L606.4 159.8 L607.8 159.0 L609.3 159.4 L610.5 160.3 L611.9 160.6 L613.1 161.7 L614.8 162.0 L616.4 162.4 L618.2 162.5 L619.5 162.1 L620.7 162.6 L621.8 163.0 L623.6 163.0 L625.3 162.8 L624.5 164.3 L623.4 165.7 L623.7 167.2 L623.2 168.4 L622.5 169.5 L622.5 170.6 L622.4 171.8 L621.5 172.9 L622.8 173.9 L624.4 173.7 L625.3 174.7 L623.9 175.2 L622.4 175.5 L620.9 175.7 L619.9 176.4 L619.0 177.3 L618.3 178.3 L618.1 179.7 L617.4 181.0 L616.1 181.8 L614.7 181.8 L616.1 182.4 L617.7 182.3 L619.2 182.5 L620.3 183.4 L621.0 184.4 L621.7 185.5 L623.0 185.4 L624.1 184.7 L625.4 184.7 L626.7 184.5 L628.0 184.1 L629.3 184.5 L630.4 185.0 L631.5 185.5 L633.1 185.7 L634.5 186.5 L636.0 186.6 L637.3 186.0 L638.7 186.0 L639.9 187.2 L641.5 187.9 L640.6 189.5 L639.6 190.8 L640.2 191.9 L641.0 192.9 L642.3 193.4 L641.5 194.5 L641.4 195.7 L641.5 197.0 L639.6 196.9 L637.8 196.8 L636.3 196.9 L635.1 197.8 L633.9 199.0 L633.2 200.5 L634.6 201.6 L636.0 202.4 L636.9 203.3 L638.1 203.8 L638.7 205.0 L638.8 206.5 L638.0 207.7 L638.9 208.3 L640.3 207.8 L641.4 208.3 L642.2 209.8 L642.1 211.3 L641.6 212.4 L640.9 213.4 L639.5 213.8 L639.3 215.4 L638.2 216.5 L637.7 217.7 L637.1 218.8 L636.7 220.1 L636.5 221.3 L636.0 222.4 L636.3 223.8 L636.4 225.2 L637.3 226.4 L635.6 227.1 L634.4 228.3 L632.9 229.5 L634.4 229.9 L635.6 228.7 L636.9 229.0 L638.1 228.5 L639.5 228.2 L640.4 227.1 L641.6 226.6 L642.8 226.4 L644.1 226.4 L645.3 226.2 L646.4 225.4 L647.6 225.1 L648.8 224.5 L649.9 224.0 L651.2 223.7 L653.0 223.4 L654.7 224.1 L656.1 224.1 L657.1 223.1 L658.3 222.9 L659.4 222.3 L660.7 222.7 L661.9 222.4 L663.0 222.6 L664.2 222.7 L665.4 222.8 L666.7 222.4 L668.0 222.0 L668.9 220.9 L669.6 219.8 L671.0 219.4 L672.0 218.7 L672.5 217.5 L673.2 216.3 L674.1 215.4 L674.2 214.0 L675.1 213.0 L675.3 211.4 L676.1 210.1 L676.4 208.5 L676.0 207.3 L676.3 205.9 L676.4 204.5 L675.6 203.2 L676.0 202.0 L675.8 200.7 L676.4 199.5 L676.1 198.2 L676.0 197.0 L675.4 195.7 L674.9 194.5 L675.0 193.0 L674.6 191.7 L673.8 190.8 L673.3 189.6 L672.7 188.5 L672.5 187.2 L671.5 186.4 L671.4 184.9 L670.2 184.2 L669.6 183.0 L668.8 182.0 L668.2 180.9 L667.5 179.7 L666.4 178.8 L665.4 177.8 L664.7 176.5 L663.8 175.5 L662.5 174.8 L661.6 173.6 L660.6 172.6 L659.2 172.1 L657.9 171.6 L656.8 171.0 L656.0 169.8 L654.8 169.3 L653.7 168.6 L652.5 168.4 L651.1 168.6 L649.0 167.8 L648.9 166.2 L649.2 164.9 L650.4 164.2 L651.4 163.4 L652.2 162.4 L652.7 160.9 L654.2 160.1 L654.7 158.6 L656.0 158.0 L657.5 157.6 L658.5 156.3 L660.0 155.8 L661.6 155.7 L662.6 154.5 L664.0 153.9 L665.4 153.4 L666.6 152.8 L667.3 151.5 L668.5 151.1 L669.7 150.4 L670.8 149.8 L672.0 148.8 L673.5 148.5 L675.0 148.2 L676.1 147.1 L677.2 146.0 L677.9 144.5 L679.2 143.5 L679.7 142.3 L679.5 140.9" fill="none"/><path d="M555.9 189.0 L557.2 188.8 L558.3 188.2 L559.0 186.8 L560.5 186.9 L561.7 186.3 L563.1 186.6 L564.4 186.4 L565.7 185.8 L566.8 186.7 L568.0 187.3 L569.2 187.9 L570.6 188.2 L571.5 189.4 L572.7 190.1 L574.3 190.3 L575.8 190.5 L577.3 190.5 L578.7 190.5 L580.2 190.0 L581.7 190.0 L583.1 190.5 L584.7 190.9 L586.2 191.1 L587.5 191.8 L588.8 192.1 L588.2 193.4 L586.9 194.2 L586.7 195.6 L586.9 197.0 L585.0 197.0 L583.5 198.1 L582.4 198.6 L581.0 198.9 L579.9 199.6 L578.4 199.9 L576.9 200.1 L575.5 200.6 L574.0 201.1 L572.6 201.5 L571.1 201.7 L569.5 201.5 L568.0 201.8 L566.6 202.3 L565.2 203.0 L564.3 204.2 L563.1 205.1 L561.9 205.7 L560.5 205.8 L559.6 207.0 L558.1 207.7 L556.9 208.7 L555.8 210.3" fill="none"/><path d="M555.9 230.8 L558.6 236.2 L562.1 242.4 L565.7 248.6" fill="none"/><path d="M617.3 151.6 L622.7 149.8" fill="none"/><path d="M633.4 242.9 L636.0 241.2 L640.5 240.3 L643.5 241.2 L642.3 243.3 L638.7 244.5 L634.8 244.7Z" fill="none"/><path d="M674.7 225.5 L676.1 226.4 L674.7 229.9 L672.5 233.0 L671.7 231.7 L672.9 228.2Z" fill="#000"/><path d="M663.7 250.8 L665.9 250.1 L666.5 251.8 L664.6 252.7Z" fill="#000"/><path d="M669.2 248.1 L671.1 246.2 L671.8 247.5 L670.2 249.4Z" fill="#000"/><path d="M675.4 225.9 L676.7 226.6 L674.6 231.1 L672.8 233.5 L672.0 232.5 L673.7 229.2Z" fill="#000"/><path d="M679.3 237.3 L679.1 237.9 L678.6 238.3 L678.0 238.3 L677.5 237.9 L677.3 237.3 L677.5 236.7 L678.0 236.3 L678.6 236.3 L679.1 236.7Z" fill="#000"/><path d="M725.5 206.4 L725.2 207.2 L724.6 207.7 L723.8 207.7 L723.1 207.2 L722.9 206.4 L723.1 205.7 L723.8 205.2 L724.6 205.2 L725.2 205.7Z" fill="#000"/><path d="M724.4 215.3 L724.2 215.9 L723.7 216.3 L723.1 216.3 L722.6 215.9 L722.4 215.3 L722.6 214.7 L723.1 214.3 L723.7 214.3 L724.2 214.7Z" fill="#000"/><path d="M695.3 275.6 L696.6 276.2 L695.0 280.8 L693.7 281.1 L694.2 278.2Z" fill="#000"/><path d="M687.5 280.8 L689.0 279.9 L690.6 280.8 L690.6 282.4 L689.0 283.2 L687.5 282.4Z" fill="none"/><path d="M809.0 150.0 L809.3 150.7 L809.9 154.6 L808.6 158.5 L810.6 159.8 L811.6 163.1 L811.2 167.0 L809.9 170.3 L808.0 173.6 L805.4 176.8 L802.7 179.4 L799.5 182.7 L796.2 185.3 L792.3 187.9 L788.4 190.6 L784.4 193.2 L780.5 195.8 L777.3 197.7 L774.0 199.1 L772.0 197.7 L771.4 195.1 L773.3 193.2 L775.9 191.9 L775.3 189.9 L772.7 190.6 L770.1 191.2 L768.1 193.2 L768.5 195.8 L766.8 198.4 L764.8 201.7 L762.2 204.9 L759.6 208.2 L757.0 211.5 L753.7 213.4 L750.5 214.5 L746.5 214.7" fill="none"/><path d="M830.5 150.0 L830.8 150.7 L833.1 154.0 L834.8 157.9 L836.1 161.8 L836.5 165.7 L835.4 169.0 L833.5 172.3 L831.5 174.2 L830.2 176.8 L829.5 179.4 L826.9 180.1 L824.3 180.8 L822.4 182.7 L821.7 186.0 L822.6 189.2 L823.7 192.5" fill="none"/><path d="M787.7 182.1 L789.7 180.1 L791.6 179.4 L791.0 182.1 L790.3 184.7 L788.4 186.0 L787.1 184.7Z" fill="none"/><path d="M808.4 158.9 L808.2 159.5 L807.6 159.9 L807.0 159.9 L806.5 159.5 L806.3 158.9 L806.5 158.3 L807.0 157.9 L807.6 157.9 L808.2 158.3Z" fill="#000"/><path d="M823.3 190.5 L822.4 193.7 L821.0 197.4 L819.1 200.7 L817.7 204.0 L817.0 207.2 L817.7 209.6 L819.6 211.4 L821.0 212.8 L819.1 213.3 L817.3 214.2 L815.9 216.5 L814.0 218.9 L811.7 220.7 L809.8 222.1 L808.0 222.6 L807.0 221.2 L808.0 218.9 L809.3 217.0 L810.7 215.6 L811.2 214.2 L809.8 213.5 L808.0 214.0 L806.6 215.6 L805.6 217.9 L804.7 219.3 L802.8 218.4 L801.0 219.3 L799.1 221.2 L797.2 223.5 L795.8 225.4 L794.5 224.5 L793.5 222.6 L791.7 222.1 L789.8 223.5 L787.9 225.8 L786.1 226.8 L783.3 227.1 L780.5 226.8 L777.7 225.8 L774.9 226.1 L772.6 226.3 L771.2 224.9 L769.8 223.1 L768.8 221.7 L767.0 222.6 L766.1 224.5 L765.6 226.3 L767.0 227.7 L768.8 228.4 L769.3 230.0 L767.4 231.4 L765.1 232.4 L762.8 233.8 L760.9 235.6 L760.0 236.1" fill="none"/><path d="M813.5 208.2 L816.3 208.6 L814.9 210.0Z" fill="#000"/><path d="M819.6 211.6 L821.6 212.3 L820.3 213.5Z" fill="#000"/><path d="M559.6 236.0 L560.4 236.9 L560.7 238.0 L561.3 239.0 L561.6 240.1 L561.9 241.2 L562.9 242.0 L563.4 243.1 L563.7 244.3 L564.5 245.0 L565.1 246.0 L565.1 247.4 L565.7 248.4 L565.9 249.7 L566.9 250.7 L567.4 252.1 L568.4 252.4 L569.1 253.5 L569.9 254.2 L571.1 254.6 L571.9 255.4 L573.1 255.9 L574.2 256.4 L575.1 257.5 L575.7 258.5 L576.6 259.4 L577.7 260.0 L578.1 261.4 L578.3 262.9 L579.0 264.4 L577.7 264.8 L577.0 265.7 L576.2 266.4 L574.9 266.5 L573.5 265.8 L572.4 265.4 L571.6 264.6 L570.5 264.0 L569.2 263.8 L568.1 263.2 L567.4 262.1 L566.4 261.3 L565.2 261.1 L564.3 260.4 L562.6 260.6 L561.2 259.7 L559.9 260.0 L558.6 260.2 L557.3 260.2 L555.8 261.3" fill="none"/><path d="M570.4 263.3 L574.2 264.1 L578.0 265.5 L578.3 267.0 L575.0 266.7 L571.6 265.2Z" fill="none"/><path d="M578.8 264.4 L578.4 265.6 L578.2 266.7 L578.1 267.9 L577.9 269.0 L577.8 270.4 L578.4 271.6 L578.9 272.9 L577.5 273.1 L576.4 273.9 L575.8 275.2 L574.4 275.5 L573.1 275.9 L572.1 277.0 L570.7 277.0 L569.9 277.8 L569.0 278.5 L568.0 279.1 L566.7 278.7 L565.7 279.7 L564.7 280.5 L563.6 280.4 L562.8 281.5 L562.4 282.6 L562.0 283.6 L562.8 284.8 L564.1 285.4 L565.1 284.1 L566.3 283.6 L567.3 282.8 L568.9 282.9 L570.4 282.2 L571.3 282.9 L572.1 283.6 L573.4 283.6 L574.4 284.6 L575.6 284.8 L576.8 285.6 L578.1 286.2 L579.6 286.3 L580.1 285.4 L581.2 284.4 L582.2 284.9 L583.5 285.0 L584.3 285.8 L583.0 286.2 L582.2 287.1 L581.0 287.1 L580.1 288.4 L579.8 289.8 L579.8 291.3 L580.2 292.9 L580.0 294.1 L579.8 295.4 L579.5 296.7 L578.9 295.4 L578.1 294.3 L577.8 295.5 L577.2 296.5 L576.3 297.3 L576.4 298.6 L575.7 299.6 L574.9 300.5 L575.4 301.8 L575.6 303.1 L576.0 304.3 L575.5 305.5 L574.9 306.5 L574.6 307.6 L573.0 306.7 L571.9 305.8 L572.0 307.1 L570.9 308.1 L570.4 309.0 L569.1 309.6 L568.0 310.5 L566.9 310.9 L565.7 311.2 L564.5 311.4 L563.3 310.9 L563.4 312.1 L564.2 313.6 L564.1 314.7 L563.2 315.6 L562.8 316.7 L562.5 318.0 L562.4 319.2 L562.2 320.5 L561.4 321.7 L560.2 322.4 L559.8 323.7 L558.8 324.3 L557.9 324.9 L557.2 325.9 L556.6 327.1 L555.8 328.2" fill="none"/><path d="M556.2 267.5 L558.8 266.4 L561.1 267.5 L561.9 270.6 L560.4 273.6 L557.3 273.6 L555.8 271.3Z" fill="none"/><path d="M565.0 268.0 L564.8 268.5 L564.2 268.7 L563.7 268.5 L563.4 268.0 L563.7 267.4 L564.2 267.2 L564.8 267.4Z" fill="#000"/><path d="M559.9 271.6 L559.7 272.1 L559.3 272.3 L558.9 272.1 L558.7 271.6 L558.9 271.2 L559.3 271.0 L559.7 271.2Z" fill="#000"/><path d="M578.8 290.5 L578.6 291.1 L578.0 291.3 L577.5 291.1 L577.3 290.5 L577.5 290.0 L578.0 289.8 L578.6 290.0Z" fill="#000"/><path d="M580.0 295.1 L579.8 295.7 L579.3 295.9 L578.7 295.7 L578.5 295.1 L578.7 294.6 L579.3 294.4 L579.8 294.6Z" fill="#000"/><path d="M575.4 296.7 L575.2 297.2 L574.7 297.4 L574.1 297.2 L573.9 296.7 L574.1 296.1 L574.7 295.9 L575.2 296.1Z" fill="#000"/><path d="M577.0 301.3 L576.7 301.8 L576.2 302.1 L575.7 301.8 L575.4 301.3 L575.7 300.7 L576.2 300.5 L576.7 300.7Z" fill="#000"/><path d="M573.7 303.6 L573.6 304.0 L573.1 304.2 L572.7 304.0 L572.5 303.6 L572.7 303.2 L573.1 303.0 L573.6 303.2Z" fill="#000"/><path d="M570.2 308.2 L570.0 308.6 L569.6 308.8 L569.2 308.6 L569.0 308.2 L569.2 307.8 L569.6 307.6 L570.0 307.8Z" fill="#000"/><path d="M663.6 250.4 L668.1 249.9 L668.6 252.2 L664.5 252.9Z" fill="#000"/><path d="M695.7 275.7 L697.1 276.6 L695.7 280.7 L693.9 281.4 L694.4 278.4Z" fill="#000"/><path d="M687.1 281.6 L688.9 280.0 L690.7 281.6 L688.9 283.4Z" fill="none"/><path d="M671.7 307.8 L675.2 305.6 L678.2 304.6 L678.8 306.3 L676.1 308.7 L673.4 310.4Z" fill="#000"/><path d="M667.7 313.5 L669.9 312.8 L670.2 315.3 L668.3 315.8Z" fill="#000"/><path d="M652.1 335.4 L654.4 331.8 L657.4 329.1 L660.1 325.9 L661.9 326.6 L660.1 330.0 L656.9 333.1 L654.4 335.9 L652.6 336.6Z" fill="#000"/><path d="M621.3 350.9 L623.6 351.4 L624.5 353.7 L621.6 353.4Z" fill="#000"/><path d="M574.6 345.7 L579.0 348.0 L578.2 352.5 L577.3 357.8 L575.5 363.2 L572.8 368.5 L571.0 373.8 L568.4 379.2 L566.6 383.6 L565.7 388.1 L563.9 389.0 L563.0 385.4 L560.3 382.7 L558.2 380.1 L556.8 375.6 L555.9 371.2 L556.4 366.7 L558.6 362.3 L561.2 357.8 L564.8 353.4 L568.4 349.8 L571.9 347.1Z" fill="none"/><path d="M600.9 357.5 L603.4 356.4 L605.2 357.8 L603.1 359.2Z" fill="#000"/><path d="M606.3 357.1 L608.4 355.7 L610.6 354.6 L609.9 357.5 L607.5 358.5Z" fill="#000"/><path d="M621.3 350.7 L622.7 350.7 L624.8 353.5 L621.6 353.5Z" fill="#000"/><path d="M638.1 226.5 L637.6 227.6 L636.5 228.1 L635.4 227.6 L634.9 226.5 L635.4 225.4 L636.5 224.9 L637.6 225.4Z" fill="#000"/><path d="M641.8 225.5 L641.4 226.4 L640.5 226.8 L639.6 226.4 L639.2 225.5 L639.6 224.6 L640.5 224.2 L641.4 224.6Z" fill="#000"/><path d="M647.4 224.5 L647.0 225.5 L646.0 225.9 L645.0 225.5 L644.6 224.5 L645.0 223.5 L646.0 223.1 L647.0 223.5Z" fill="#000"/><path d="M653.2 223.8 L652.8 224.6 L652.0 225.0 L651.2 224.6 L650.8 223.8 L651.2 223.0 L652.0 222.6 L652.8 223.0Z" fill="#000"/><path d="M660.0 222.5 L659.6 223.6 L658.5 224.0 L657.4 223.6 L657.0 222.5 L657.4 221.4 L658.5 221.0 L659.6 221.4Z" fill="#000"/><path d="M665.8 221.8 L665.4 222.7 L664.5 223.1 L663.6 222.7 L663.2 221.8 L663.6 220.9 L664.5 220.5 L665.4 220.9Z" fill="#000"/><path d="M636.0 222.0 L635.6 222.8 L634.8 223.2 L634.0 222.8 L633.6 222.0 L634.0 221.2 L634.8 220.8 L635.6 221.2Z" fill="#000"/><path d="M638.2 203.0 L637.8 203.8 L637.0 204.2 L636.2 203.8 L635.8 203.0 L636.2 202.2 L637.0 201.8 L637.8 202.2Z" fill="#000"/><path d="M642.6 187.0 L642.3 187.8 L641.5 188.1 L640.7 187.8 L640.4 187.0 L640.7 186.2 L641.5 185.9 L642.3 186.2Z" fill="#000"/><path d="M625.2 184.5 L624.8 185.3 L624.0 185.7 L623.2 185.3 L622.8 184.5 L623.2 183.7 L624.0 183.3 L624.8 183.7Z" fill="#000"/><path d="M620.5 181.5 L620.2 182.2 L619.5 182.5 L618.8 182.2 L618.5 181.5 L618.8 180.8 L619.5 180.5 L620.2 180.8Z" fill="#000"/><path d="M574.4 163.8 L574.0 164.8 L573.0 165.2 L572.0 164.8 L571.6 163.8 L572.0 162.8 L573.0 162.4 L574.0 162.8Z" fill="#000"/><path d="M643.5 196.0 L643.2 196.7 L642.5 197.0 L641.8 196.7 L641.5 196.0 L641.8 195.3 L642.5 195.0 L643.2 195.3Z" fill="#000"/><path d="M693.5 231.2 L694.6 229.6 L697.8 228.9 L700.9 227.3 L704.0 225.3 L707.2 223.0 L710.3 220.6 L713.5 218.3 L715.8 216.3 L718.9 215.1 L722.9 214.7 L725.2 215.9 L728.4 215.5 L733.1 214.7 L737.8 214.0 L742.5 213.4 L747.2 212.9 L749.5 212.4" fill="none"/><path d="M693.5 231.2 L693.8 233.6 L695.8 234.7 L698.5 235.1 L701.7 234.7 L704.8 235.1 L708.0 235.5 L710.7 235.1 L711.1 232.8 L712.3 230.4 L713.5 229.6 L714.2 231.6 L714.6 233.6 L716.6 232.8 L718.9 231.6 L722.1 230.8 L725.2 229.6 L728.4 228.9 L731.5 228.1 L733.1 226.9 L736.2 225.7 L739.3 224.9 L742.5 224.5 L744.8 225.3 L746.4 226.5 L745.6 228.1 L744.4 229.6 L743.6 231.2 L745.6 230.8 L746.8 233.6 L748.0 235.9 L749.9 238.3 L752.7 240.2 L755.4 241.6 L757.4 241.0 L759.3 238.7 L760.9 236.3 L762.5 234.4 L764.4 232.8 L766.8 231.6 L769.1 230.8 L770.0 230.4" fill="none"/><path d="M708.7 242.6 L711.1 241.4 L713.5 241.0 L714.6 238.7 L717.0 235.5 L718.9 233.6 L721.3 234.4 L723.6 235.1 L726.8 234.4 L728.7 232.0 L731.1 230.4 L733.8 229.6 L737.0 229.4 L740.1 230.0 L742.1 231.6 L742.5 234.4 L742.1 236.7 L740.1 238.7 L737.8 240.2 L736.2 242.2 L735.4 244.2 L733.1 242.2 L730.7 241.0 L728.0 240.6 L725.2 242.2 L722.9 244.5 L721.3 247.3 L720.5 250.0 L718.2 250.4 L715.8 249.3 L714.2 247.3 L713.1 244.9 L712.3 243.0 L710.3 243.4Z" fill="none"/><path d="M746.4 228.9 L748.7 226.9 L751.5 226.0 L752.3 226.9 L750.3 228.9 L748.0 230.4Z" fill="none"/><path d="M757.8 219.1 L760.5 216.3 L761.7 215.9 L761.3 217.9 L759.3 220.6 L758.2 221.4Z" fill="none"/><path d="M732.3 227.7 L733.8 227.1 L735.0 228.1 L737.0 227.5 L737.8 228.5 L736.2 228.9 L734.2 228.6 L732.9 228.6Z" fill="none"/><path d="M693.9 234.1 L694.5 234.7 L694.6 235.7 L695.2 236.4 L695.9 237.0 L696.7 237.7 L697.0 238.7 L697.8 239.4 L698.9 239.6 L699.9 239.8 L700.8 239.8 L701.7 240.0 L702.6 240.3 L703.1 241.3 L703.2 242.3 L702.2 242.9 L701.5 243.6 L702.9 243.9 L703.9 244.7 L704.8 245.0 L705.6 245.7 L706.6 246.1 L706.7 247.0 L707.6 247.7 L707.6 248.7 L707.1 249.4 L706.4 250.1 L706.3 251.1 L705.9 251.8 L705.1 252.4 L705.0 253.3 L704.4 254.2 L704.0 255.2 L703.4 256.0 L702.8 256.7 L703.0 257.7 L702.3 258.4 L702.0 259.2 L701.6 260.0 L701.6 260.8 L701.1 261.5 L701.2 262.4 L701.0 263.2 L700.9 264.1 L700.3 264.8 L700.3 265.6 L699.8 266.5 L699.2 267.3 L698.4 267.9 L697.6 268.3 L696.8 268.7 L696.2 269.3 L695.5 270.0 L694.9 270.8 L693.8 271.0 L693.0 271.7 L692.3 272.3 L691.5 272.9 L691.0 272.2 L690.1 271.7 L690.2 270.4 L690.8 269.3 L691.2 268.2 L691.7 267.1 L691.6 265.8 L691.1 264.7 L690.3 264.9 L689.7 265.6 L689.4 266.8 L688.9 267.9 L689.4 269.0 L689.3 270.2 L688.2 270.4 L687.5 271.2 L686.6 270.4 L685.5 269.9 L684.9 269.0 L684.8 267.9 L684.7 267.0 L684.7 266.0 L685.0 265.2 L685.1 264.2 L684.9 263.3 L684.5 262.5 L684.7 261.2 L685.3 260.2 L684.5 259.3 L684.3 258.3 L683.5 257.9 L682.9 257.3 L682.5 256.2 L682.1 255.1 L681.5 254.3 L680.8 253.7 L680.5 252.9 L679.8 251.8 L679.8 250.5 L678.8 249.8 L678.2 248.8 L678.1 247.6 L677.3 246.9 L676.9 246.0 L675.9 245.6 L675.5 244.8 L675.0 244.2 L676.2 243.6 L677.0 242.8 L678.1 242.4 L679.2 241.9 L680.5 241.6 L681.5 240.9 L682.3 240.5 L683.0 240.0 L683.7 239.4 L684.8 239.3 L685.6 238.7 L686.6 238.3 L687.2 237.5 L688.1 237.3 L688.8 236.8 L689.7 236.5 L690.2 235.6 L691.1 235.4Z" fill="none"/><path d="M683.3 246.0 L685.6 244.6 L687.9 245.0 L689.3 247.3 L690.2 250.1 L690.6 252.4 L689.3 254.6 L687.4 256.5 L685.6 257.9 L684.2 256.9 L685.6 255.1 L687.0 253.3 L686.5 251.0 L685.2 249.2 L683.8 247.8Z" fill="none"/><path d="M682.9 250.5 L684.2 252.4 L683.3 254.6 L682.4 253.3Z" fill="#000"/><path d="M676.8 244.1 L676.6 244.7 L676.0 245.0 L675.4 244.7 L675.2 244.1 L675.4 243.5 L676.0 243.3 L676.6 243.5Z" fill="#000"/><path d="M678.9 246.4 L678.8 246.9 L678.3 247.1 L677.8 246.9 L677.7 246.4 L677.8 246.0 L678.3 245.8 L678.8 246.0Z" fill="#000"/><path d="M680.3 249.2 L680.1 249.6 L679.7 249.8 L679.2 249.6 L679.0 249.2 L679.2 248.7 L679.7 248.5 L680.1 248.7Z" fill="#000"/><path d="M681.7 251.4 L681.5 251.9 L681.0 252.1 L680.6 251.9 L680.4 251.4 L680.6 251.0 L681.0 250.8 L681.5 251.0Z" fill="#000"/><path d="M683.0 256.0 L682.8 256.4 L682.4 256.6 L682.0 256.4 L681.9 256.0 L682.0 255.6 L682.4 255.5 L682.8 255.6Z" fill="#000"/><path d="M636.5 186.9 L637.9 186.5 L639.1 185.9 L640.0 186.9 L640.8 187.8 L641.9 188.2 L641.1 189.1 L640.6 190.0 L640.3 191.1 L641.1 191.7 L641.4 193.2 L642.8 193.5 L642.6 194.8 L642.7 196.1 L642.1 197.2 L640.6 197.5 L639.6 196.4 L638.3 196.7 L636.8 197.0 L635.5 197.8 L634.9 198.9 L634.0 199.5 L633.8 200.7 L634.8 201.3 L635.3 202.5 L636.4 202.8 L637.0 203.9 L638.3 204.3 L639.1 205.3 L638.9 206.6 L638.0 207.8 L639.4 208.7 L640.8 208.2 L641.8 209.1 L642.7 210.0 L643.0 211.3 L641.7 212.1 L641.2 213.4 L640.1 214.1 L639.3 215.4 L639.1 216.9 L638.1 217.8 L638.2 219.3 L637.5 220.4 L637.3 221.6 L636.5 222.6 L636.4 223.9 L637.4 225.1 L638.0 226.5 L636.9 227.4 L635.8 227.9 L634.9 228.6 L633.7 229.9 L634.9 230.0 L636.2 229.7 L637.5 229.6 L638.9 229.3 L640.0 228.5 L640.9 227.4 L642.1 226.7 L643.3 226.6 L644.5 226.6 L645.7 226.2 L646.9 225.8 L648.1 225.2 L649.5 225.3 L650.4 224.1 L651.7 223.9 L652.8 224.6 L654.0 224.6 L655.2 224.1 L656.3 223.5 L657.7 223.8 L658.7 222.7 L659.9 222.3 L661.2 222.7 L662.4 222.5 L663.6 222.2 L664.8 222.2 L665.9 222.8 L667.3 222.8 L668.3 221.8 L669.6 221.5" fill="none"/><path d="M635.7 187.2 L637.2 187.2 L638.5 186.8 L639.7 186.7 L640.5 187.5 L641.3 188.3 L640.6 189.5 L640.1 190.5 L639.6 191.4 L640.1 192.2 L641.5 192.6 L642.1 193.8 L642.0 195.2 L641.0 196.2 L641.1 197.5 L639.9 197.7 L638.6 197.9 L637.5 197.2 L636.1 197.6 L634.8 198.3 L633.8 199.0 L633.3 199.9 L633.2 201.2 L634.2 201.2 L634.6 202.5 L635.6 203.0 L636.6 203.7 L637.2 204.9 L638.4 205.5 L638.3 206.9 L637.7 208.2 L638.9 207.8 L639.8 209.0 L641.0 209.3 L641.0 210.6 L642.0 211.7 L640.9 212.5 L639.8 213.1 L639.1 214.3 L638.5 215.7 L638.1 217.1 L637.5 218.3 L637.5 219.6 L636.8 220.7 L636.1 221.8 L635.4 222.8 L635.7 224.2 L636.5 225.5 L637.1 226.8 L636.0 227.5 L634.7 227.7 L634.0 228.7 L632.5 229.9 L633.9 229.4 L635.3 229.5 L636.6 229.6 L637.8 228.8 L639.2 228.8 L640.3 228.0 L641.5 228.1 L642.6 227.3 L643.7 226.6 L645.0 226.6 L646.1 226.1 L647.3 225.6 L648.4 224.9 L649.8 225.0 L651.0 224.5 L652.1 223.8 L653.2 224.7 L654.4 224.5 L655.6 224.2 L657.0 224.3 L658.1 223.6 L659.2 223.3 L660.3 222.5 L661.6 223.1 L662.8 222.5 L664.0 223.0 L665.1 223.5 L666.2 222.5 L667.3 221.8 L668.8 221.8" fill="none"/><path d="M636.2 186.2 L637.7 186.4 L638.9 185.3 L639.9 186.0 L640.9 186.6 L641.7 187.4 L641.3 188.7 L639.8 189.0 L640.0 190.4 L641.0 190.9 L641.9 191.7 L642.7 192.7 L642.1 194.1 L641.5 195.2 L641.3 196.4 L640.4 196.2 L639.2 195.8 L638.0 196.5 L636.8 197.0 L635.2 197.1 L635.3 198.6 L634.4 199.3 L633.6 200.1 L634.6 200.4 L635.3 201.3 L636.4 201.6 L637.4 202.5 L637.6 204.1 L639.1 204.3 L637.9 205.7 L638.2 207.2 L639.0 208.1 L640.3 208.0 L641.6 208.2 L642.5 209.2 L642.8 210.6 L641.3 211.4 L641.0 212.8 L639.9 213.6 L638.8 214.6 L638.3 216.0 L638.7 217.5 L637.0 218.2 L637.1 219.6 L637.0 220.9 L637.1 222.2 L636.3 223.2 L636.2 224.8 L637.6 225.8 L636.7 226.9 L635.7 227.5 L634.6 227.9 L633.3 229.1 L634.6 229.5 L635.7 228.1 L637.1 228.3 L638.6 228.5 L639.8 228.0 L640.8 227.1 L641.8 226.1 L643.0 226.0 L644.3 226.2 L645.4 225.4 L646.7 225.3 L647.8 224.5 L648.7 223.5 L650.1 223.5 L651.4 223.4 L652.5 223.7 L653.7 223.5 L654.9 223.5 L656.1 223.2 L657.3 222.7 L658.5 222.3 L659.8 222.6 L660.8 221.5 L662.1 221.8 L663.2 222.6 L664.4 222.6 L665.7 222.1 L667.1 222.3 L668.2 221.6 L669.1 220.3" fill="none"/><path d="M615.0 182.3 L616.1 182.2 L617.3 182.3 L618.4 182.4 L619.4 183.4 L620.4 184.0 L620.9 185.2 L622.2 185.7 L623.1 185.0 L624.6 185.7 L625.7 185.1 L627.1 185.3 L628.3 184.7 L629.5 185.0 L630.6 185.7 L632.0 185.6 L633.0 186.2 L634.1 186.4 L635.3 186.3 L636.3 187.1" fill="none"/></g></g>
<g clip-path="url(#cr)"><g stroke="#000" stroke-width="1.45" stroke-linejoin="round" stroke-linecap="round" fill="none"><path d="M747.0 48.8 L740.2 50.6 L733.1 52.0 L726.0 54.2 L719.7 55.9 L716.2 58.1 L713.5 59.5 L708.2 59.9 L702.8 59.5 L696.6 59.5" fill="none"/><path d="M713.5 60.4 L711.7 63.1 L708.2 65.4 L702.8 66.1 L697.5 66.6 L692.1 68.0 L686.8 71.1" fill="none"/><path d="M708.5 90.7 L712.6 89.4 L717.1 90.7 L718.5 94.2 L716.7 98.3 L712.6 100.5 L709.6 98.3 L707.8 94.2Z" fill="none"/><path d="M677.9 139.6 L678.8 136.1 L682.3 132.5 L687.7 129.0 L693.0 126.3 L692.1 123.6 L697.5 123.6 L701.0 120.0 L703.7 117.4 L706.4 116.1 L708.2 119.2 L709.6 116.5 L711.7 116.1 L712.6 120.0 L716.2 120.9 L718.8 122.7 L721.5 123.6 L726.0 122.2 L731.3 120.9 L736.7 119.2 L742.0 116.5 L747.0 114.3" fill="none"/><path d="M606.6 90.1 L609.3 90.3 L611.6 91.9 L609.0 91.9Z" fill="#000"/><path d="M615.6 117.2 L617.0 116.1 L617.7 118.3 L616.1 118.6Z" fill="#000"/><path d="M639.6 110.6 L642.3 110.6 L643.5 112.9 L640.8 112.6Z" fill="#000"/><path d="M666.0 110.3 L667.7 107.2 L669.9 106.7 L669.0 109.7Z" fill="#000"/><path d="M747.0 48.8 L752.3 46.1 L757.7 43.5 L761.2 39.9 L763.9 37.2 L768.4 35.5 L769.8 33.1 L766.6 32.4 L763.9 33.7 L762.1 31.9" fill="none"/><path d="M747.0 113.8 L752.3 108.5 L757.7 102.2 L764.8 96.9 L773.7 88.0 L782.6 79.1 L789.7 69.3 L796.9 61.3 L802.2 55.9 L808.4 51.5 L812.0 47.9 L814.3 43.5 L815.6 39.0 L816.8 34.6 L816.5 31.9" fill="none"/><path d="M837.8 31.9 L836.9 38.1 L834.3 45.2 L835.7 50.6 L836.0 57.7 L836.9 63.1 L835.2 68.4 L833.9 73.7 L834.3 79.1 L836.0 82.6 L837.8 80.0 L840.5 76.4 L844.1 73.7 L847.6 73.4 L851.2 72.9 L853.0 76.4 L853.9 80.5 L855.3 77.7 L854.7 72.9 L853.5 70.2 L850.3 69.3 L848.5 65.7 L845.8 63.1 L843.2 59.5 L842.8 55.0 L844.6 49.7 L847.6 44.4 L852.1 40.8 L857.4 39.0 L862.8 39.0 L866.7 41.7 L869.5 44.9 L870.4 47.4 L869.0 43.5 L866.3 39.0 L863.7 34.6 L861.9 31.9" fill="none"/><path d="M834.9 87.1 L838.6 90.3 L841.8 93.5 L844.9 96.7 L848.1 99.3 L851.3 101.5 L854.5 103.6 L858.8 105.2 L863.0 106.8 L867.3 107.8 L870.5 107.8 L873.6 105.7 L876.3 104.1 L878.4 102.5 L877.9 104.7 L876.3 107.3 L875.8 110.0 L877.4 112.1 L876.8 114.8 L879.0 115.8 L881.1 115.3 L883.2 114.8 L880.0 116.9 L876.8 117.9 L873.6 119.0 L870.5 119.5 L867.3 119.5 L864.1 120.1 L860.9 121.7 L857.7 123.8 L855.0 126.4 L852.9 129.1 L852.4 131.8 L851.3 133.4 L848.1 132.3 L844.9 130.7 L841.8 129.1 L838.6 127.5 L835.4 125.9 L832.2 124.9 L829.0 124.9 L826.3 125.9 L823.7 127.5 L821.6 129.1 L820.5 127.5 L818.9 125.9 L816.3 125.4 L814.1 127.0 L813.6 129.1 L815.7 130.7 L818.9 131.8 L822.1 133.4 L824.8 134.9 L822.6 135.5 L820.0 134.9 L817.8 136.0 L815.7 137.6 L813.6 139.2 L811.5 140.3 L810.9 137.6 L811.5 134.9 L810.9 132.3 L809.3 130.2 L807.8 128.0 L808.3 125.4 L810.4 123.3 L813.1 121.7 L815.7 119.0 L814.7 116.9 L816.8 115.8 L820.5 116.3 L824.2 116.9 L826.9 115.8 L827.9 113.2 L827.4 110.5 L829.5 108.9 L830.6 106.3 L831.7 103.1 L832.7 99.9 L832.2 96.2 L831.7 93.0 L830.6 89.8 L832.2 88.2Z" fill="none"/><path d="M808.8 150.0 L810.9 147.7 L813.6 145.6 L814.7 142.9 L816.3 142.4 L817.8 144.0 L818.9 146.6 L821.0 147.2 L821.6 144.5 L821.0 141.3 L822.6 139.7 L825.3 140.3 L826.9 142.4 L827.4 140.3 L828.8 140.3 L828.8 144.5 L829.0 150.0" fill="none"/><path d="M879.7 109.4 L882.4 106.7 L885.9 104.0 L889.5 101.3 L893.0 101.3 L889.5 104.0 L885.9 106.7 L882.4 109.4 L879.7 110.3Z" fill="none"/><path d="M898.0 101.3 L901.9 97.8 L907.3 93.3 L911.7 90.7 L916.2 88.9 L920.6 87.6 L923.3 88.3 L918.9 90.7 L914.4 91.6 L910.0 94.2 L905.5 97.3 L901.1 100.5 L898.4 101.7Z" fill="none"/><path d="M930.4 86.2 L934.0 83.5 L938.5 81.8 L937.6 84.4 L933.1 86.6Z" fill="none"/><path d="M894.5 108.5 L898.0 107.9 L898.0 109.7 L894.8 110.1Z" fill="#000"/><path d="M827.1 92.1 L826.8 92.8 L826.3 93.2 L825.5 93.2 L825.0 92.8 L824.7 92.1 L825.0 91.4 L825.5 91.0 L826.3 91.0 L826.8 91.4Z" fill="#000"/><path d="M804.8 130.4 L804.6 131.1 L804.0 131.5 L803.3 131.5 L802.7 131.1 L802.5 130.4 L802.7 129.7 L803.3 129.3 L804.0 129.3 L804.6 129.7Z" fill="#000"/><path d="M555.9 156.9 L556.6 155.9 L557.5 154.9 L558.8 154.5 L559.2 153.2 L560.2 152.3 L561.4 151.5 L562.6 150.9 L563.3 149.5 L564.5 148.8 L565.6 147.9 L567.0 148.0 L568.2 147.2 L569.5 147.3 L570.6 146.2 L571.9 146.1 L573.2 146.2 L574.5 146.3 L575.7 145.6 L576.9 145.2 L578.1 145.1 L579.2 146.0 L580.6 146.4 L581.3 147.6 L582.5 148.2 L583.2 149.1 L583.4 150.3 L583.3 151.6 L582.7 152.6 L581.9 153.6 L581.6 155.0 L581.0 156.1 L580.1 157.1 L578.8 157.6 L578.3 158.9 L577.3 159.7 L576.1 160.6 L574.9 161.4 L573.7 162.3 L572.4 163.3 L572.1 165.0 L573.6 165.4 L574.5 166.9 L575.9 166.8 L577.1 166.6 L578.1 165.8 L576.7 166.3 L575.5 167.2 L574.7 168.6 L573.3 168.8 L572.1 169.4 L571.0 170.2 L570.1 171.2 L569.3 172.1 L570.2 173.8 L571.3 173.3 L572.4 172.8 L573.7 173.0 L574.8 172.1 L576.2 172.1 L577.1 170.9 L578.6 170.9 L579.6 170.0 L580.8 169.6 L581.8 168.7 L583.0 168.1 L583.9 167.1 L584.6 165.9 L586.1 165.9 L587.0 164.8 L588.2 164.2 L589.6 164.0 L590.8 163.4 L592.0 162.7 L593.4 162.5 L594.6 162.0 L595.7 161.4 L597.0 160.9 L598.4 161.2 L599.5 160.5 L600.9 160.6 L602.2 159.9 L603.5 159.5 L604.9 159.6 L606.4 159.8 L607.8 159.0 L609.3 159.4 L610.5 160.3 L611.9 160.6 L613.1 161.7 L614.8 162.0 L616.4 162.4 L618.2 162.5 L619.5 162.1 L620.7 162.6 L621.8 163.0 L623.6 163.0 L625.3 162.8 L624.5 164.3 L623.4 165.7 L623.7 167.2 L623.2 168.4 L622.5 169.5 L622.5 170.6 L622.4 171.8 L621.5 172.9 L622.8 173.9 L624.4 173.7 L625.3 174.7 L623.9 175.2 L622.4 175.5 L620.9 175.7 L619.9 176.4 L619.0 177.3 L618.3 178.3 L618.1 179.7 L617.4 181.0 L616.1 181.8 L614.7 181.8 L616.1 182.4 L617.7 182.3 L619.2 182.5 L620.3 183.4 L621.0 184.4 L621.7 185.5 L623.0 185.4 L624.1 184.7 L625.4 184.7 L626.7 184.5 L628.0 184.1 L629.3 184.5 L630.4 185.0 L631.5 185.5 L633.1 185.7 L634.5 186.5 L636.0 186.6 L637.3 186.0 L638.7 186.0 L639.9 187.2 L641.5 187.9 L640.6 189.5 L639.6 190.8 L640.2 191.9 L641.0 192.9 L642.3 193.4 L641.5 194.5 L641.4 195.7 L641.5 197.0 L639.6 196.9 L637.8 196.8 L636.3 196.9 L635.1 197.8 L633.9 199.0 L633.2 200.5 L634.6 201.6 L636.0 202.4 L636.9 203.3 L638.1 203.8 L638.7 205.0 L638.8 206.5 L638.0 207.7 L638.9 208.3 L640.3 207.8 L641.4 208.3 L642.2 209.8 L642.1 211.3 L641.6 212.4 L640.9 213.4 L639.5 213.8 L639.3 215.4 L638.2 216.5 L637.7 217.7 L637.1 218.8 L636.7 220.1 L636.5 221.3 L636.0 222.4 L636.3 223.8 L636.4 225.2 L637.3 226.4 L635.6 227.1 L634.4 228.3 L632.9 229.5 L634.4 229.9 L635.6 228.7 L636.9 229.0 L638.1 228.5 L639.5 228.2 L640.4 227.1 L641.6 226.6 L642.8 226.4 L644.1 226.4 L645.3 226.2 L646.4 225.4 L647.6 225.1 L648.8 224.5 L649.9 224.0 L651.2 223.7 L653.0 223.4 L654.7 224.1 L656.1 224.1 L657.1 223.1 L658.3 222.9 L659.4 222.3 L660.7 222.7 L661.9 222.4 L663.0 222.6 L664.2 222.7 L665.4 222.8 L666.7 222.4 L668.0 222.0 L668.9 220.9 L669.6 219.8 L671.0 219.4 L672.0 218.7 L672.5 217.5 L673.2 216.3 L674.1 215.4 L674.2 214.0 L675.1 213.0 L675.3 211.4 L676.1 210.1 L676.4 208.5 L676.0 207.3 L676.3 205.9 L676.4 204.5 L675.6 203.2 L676.0 202.0 L675.8 200.7 L676.4 199.5 L676.1 198.2 L676.0 197.0 L675.4 195.7 L674.9 194.5 L675.0 193.0 L674.6 191.7 L673.8 190.8 L673.3 189.6 L672.7 188.5 L672.5 187.2 L671.5 186.4 L671.4 184.9 L670.2 184.2 L669.6 183.0 L668.8 182.0 L668.2 180.9 L667.5 179.7 L666.4 178.8 L665.4 177.8 L664.7 176.5 L663.8 175.5 L662.5 174.8 L661.6 173.6 L660.6 172.6 L659.2 172.1 L657.9 171.6 L656.8 171.0 L656.0 169.8 L654.8 169.3 L653.7 168.6 L652.5 168.4 L651.1 168.6 L649.0 167.8 L648.9 166.2 L649.2 164.9 L650.4 164.2 L651.4 163.4 L652.2 162.4 L652.7 160.9 L654.2 160.1 L654.7 158.6 L656.0 158.0 L657.5 157.6 L658.5 156.3 L660.0 155.8 L661.6 155.7 L662.6 154.5 L664.0 153.9 L665.4 153.4 L666.6 152.8 L667.3 151.5 L668.5 151.1 L669.7 150.4 L670.8 149.8 L672.0 148.8 L673.5 148.5 L675.0 148.2 L676.1 147.1 L677.2 146.0 L677.9 144.5 L679.2 143.5 L679.7 142.3 L679.5 140.9" fill="none"/><path d="M555.9 189.0 L557.2 188.8 L558.3 188.2 L559.0 186.8 L560.5 186.9 L561.7 186.3 L563.1 186.6 L564.4 186.4 L565.7 185.8 L566.8 186.7 L568.0 187.3 L569.2 187.9 L570.6 188.2 L571.5 189.4 L572.7 190.1 L574.3 190.3 L575.8 190.5 L577.3 190.5 L578.7 190.5 L580.2 190.0 L581.7 190.0 L583.1 190.5 L584.7 190.9 L586.2 191.1 L587.5 191.8 L588.8 192.1 L588.2 193.4 L586.9 194.2 L586.7 195.6 L586.9 197.0 L585.0 197.0 L583.5 198.1 L582.4 198.6 L581.0 198.9 L579.9 199.6 L578.4 199.9 L576.9 200.1 L575.5 200.6 L574.0 201.1 L572.6 201.5 L571.1 201.7 L569.5 201.5 L568.0 201.8 L566.6 202.3 L565.2 203.0 L564.3 204.2 L563.1 205.1 L561.9 205.7 L560.5 205.8 L559.6 207.0 L558.1 207.7 L556.9 208.7 L555.8 210.3" fill="none"/><path d="M555.9 230.8 L558.6 236.2 L562.1 242.4 L565.7 248.6" fill="none"/><path d="M617.3 151.6 L622.7 149.8" fill="none"/><path d="M633.4 242.9 L636.0 241.2 L640.5 240.3 L643.5 241.2 L642.3 243.3 L638.7 244.5 L634.8 244.7Z" fill="none"/><path d="M674.7 225.5 L676.1 226.4 L674.7 229.9 L672.5 233.0 L671.7 231.7 L672.9 228.2Z" fill="#000"/><path d="M663.7 250.8 L665.9 250.1 L666.5 251.8 L664.6 252.7Z" fill="#000"/><path d="M669.2 248.1 L671.1 246.2 L671.8 247.5 L670.2 249.4Z" fill="#000"/><path d="M675.4 225.9 L676.7 226.6 L674.6 231.1 L672.8 233.5 L672.0 232.5 L673.7 229.2Z" fill="#000"/><path d="M679.3 237.3 L679.1 237.9 L678.6 238.3 L678.0 238.3 L677.5 237.9 L677.3 237.3 L677.5 236.7 L678.0 236.3 L678.6 236.3 L679.1 236.7Z" fill="#000"/><path d="M725.5 206.4 L725.2 207.2 L724.6 207.7 L723.8 207.7 L723.1 207.2 L722.9 206.4 L723.1 205.7 L723.8 205.2 L724.6 205.2 L725.2 205.7Z" fill="#000"/><path d="M724.4 215.3 L724.2 215.9 L723.7 216.3 L723.1 216.3 L722.6 215.9 L722.4 215.3 L722.6 214.7 L723.1 214.3 L723.7 214.3 L724.2 214.7Z" fill="#000"/><path d="M695.3 275.6 L696.6 276.2 L695.0 280.8 L693.7 281.1 L694.2 278.2Z" fill="#000"/><path d="M687.5 280.8 L689.0 279.9 L690.6 280.8 L690.6 282.4 L689.0 283.2 L687.5 282.4Z" fill="none"/><path d="M809.0 150.0 L809.3 150.7 L809.9 154.6 L808.6 158.5 L810.6 159.8 L811.6 163.1 L811.2 167.0 L809.9 170.3 L808.0 173.6 L805.4 176.8 L802.7 179.4 L799.5 182.7 L796.2 185.3 L792.3 187.9 L788.4 190.6 L784.4 193.2 L780.5 195.8 L777.3 197.7 L774.0 199.1 L772.0 197.7 L771.4 195.1 L773.3 193.2 L775.9 191.9 L775.3 189.9 L772.7 190.6 L770.1 191.2 L768.1 193.2 L768.5 195.8 L766.8 198.4 L764.8 201.7 L762.2 204.9 L759.6 208.2 L757.0 211.5 L753.7 213.4 L750.5 214.5 L746.5 214.7" fill="none"/><path d="M830.5 150.0 L830.8 150.7 L833.1 154.0 L834.8 157.9 L836.1 161.8 L836.5 165.7 L835.4 169.0 L833.5 172.3 L831.5 174.2 L830.2 176.8 L829.5 179.4 L826.9 180.1 L824.3 180.8 L822.4 182.7 L821.7 186.0 L822.6 189.2 L823.7 192.5" fill="none"/><path d="M787.7 182.1 L789.7 180.1 L791.6 179.4 L791.0 182.1 L790.3 184.7 L788.4 186.0 L787.1 184.7Z" fill="none"/><path d="M808.4 158.9 L808.2 159.5 L807.6 159.9 L807.0 159.9 L806.5 159.5 L806.3 158.9 L806.5 158.3 L807.0 157.9 L807.6 157.9 L808.2 158.3Z" fill="#000"/><path d="M823.3 190.5 L822.4 193.7 L821.0 197.4 L819.1 200.7 L817.7 204.0 L817.0 207.2 L817.7 209.6 L819.6 211.4 L821.0 212.8 L819.1 213.3 L817.3 214.2 L815.9 216.5 L814.0 218.9 L811.7 220.7 L809.8 222.1 L808.0 222.6 L807.0 221.2 L808.0 218.9 L809.3 217.0 L810.7 215.6 L811.2 214.2 L809.8 213.5 L808.0 214.0 L806.6 215.6 L805.6 217.9 L804.7 219.3 L802.8 218.4 L801.0 219.3 L799.1 221.2 L797.2 223.5 L795.8 225.4 L794.5 224.5 L793.5 222.6 L791.7 222.1 L789.8 223.5 L787.9 225.8 L786.1 226.8 L783.3 227.1 L780.5 226.8 L777.7 225.8 L774.9 226.1 L772.6 226.3 L771.2 224.9 L769.8 223.1 L768.8 221.7 L767.0 222.6 L766.1 224.5 L765.6 226.3 L767.0 227.7 L768.8 228.4 L769.3 230.0 L767.4 231.4 L765.1 232.4 L762.8 233.8 L760.9 235.6 L760.0 236.1" fill="none"/><path d="M813.5 208.2 L816.3 208.6 L814.9 210.0Z" fill="#000"/><path d="M819.6 211.6 L821.6 212.3 L820.3 213.5Z" fill="#000"/><path d="M559.6 236.0 L560.4 236.9 L560.7 238.0 L561.3 239.0 L561.6 240.1 L561.9 241.2 L562.9 242.0 L563.4 243.1 L563.7 244.3 L564.5 245.0 L565.1 246.0 L565.1 247.4 L565.7 248.4 L565.9 249.7 L566.9 250.7 L567.4 252.1 L568.4 252.4 L569.1 253.5 L569.9 254.2 L571.1 254.6 L571.9 255.4 L573.1 255.9 L574.2 256.4 L575.1 257.5 L575.7 258.5 L576.6 259.4 L577.7 260.0 L578.1 261.4 L578.3 262.9 L579.0 264.4 L577.7 264.8 L577.0 265.7 L576.2 266.4 L574.9 266.5 L573.5 265.8 L572.4 265.4 L571.6 264.6 L570.5 264.0 L569.2 263.8 L568.1 263.2 L567.4 262.1 L566.4 261.3 L565.2 261.1 L564.3 260.4 L562.6 260.6 L561.2 259.7 L559.9 260.0 L558.6 260.2 L557.3 260.2 L555.8 261.3" fill="none"/><path d="M570.4 263.3 L574.2 264.1 L578.0 265.5 L578.3 267.0 L575.0 266.7 L571.6 265.2Z" fill="none"/><path d="M578.8 264.4 L578.4 265.6 L578.2 266.7 L578.1 267.9 L577.9 269.0 L577.8 270.4 L578.4 271.6 L578.9 272.9 L577.5 273.1 L576.4 273.9 L575.8 275.2 L574.4 275.5 L573.1 275.9 L572.1 277.0 L570.7 277.0 L569.9 277.8 L569.0 278.5 L568.0 279.1 L566.7 278.7 L565.7 279.7 L564.7 280.5 L563.6 280.4 L562.8 281.5 L562.4 282.6 L562.0 283.6 L562.8 284.8 L564.1 285.4 L565.1 284.1 L566.3 283.6 L567.3 282.8 L568.9 282.9 L570.4 282.2 L571.3 282.9 L572.1 283.6 L573.4 283.6 L574.4 284.6 L575.6 284.8 L576.8 285.6 L578.1 286.2 L579.6 286.3 L580.1 285.4 L581.2 284.4 L582.2 284.9 L583.5 285.0 L584.3 285.8 L583.0 286.2 L582.2 287.1 L581.0 287.1 L580.1 288.4 L579.8 289.8 L579.8 291.3 L580.2 292.9 L580.0 294.1 L579.8 295.4 L579.5 296.7 L578.9 295.4 L578.1 294.3 L577.8 295.5 L577.2 296.5 L576.3 297.3 L576.4 298.6 L575.7 299.6 L574.9 300.5 L575.4 301.8 L575.6 303.1 L576.0 304.3 L575.5 305.5 L574.9 306.5 L574.6 307.6 L573.0 306.7 L571.9 305.8 L572.0 307.1 L570.9 308.1 L570.4 309.0 L569.1 309.6 L568.0 310.5 L566.9 310.9 L565.7 311.2 L564.5 311.4 L563.3 310.9 L563.4 312.1 L564.2 313.6 L564.1 314.7 L563.2 315.6 L562.8 316.7 L562.5 318.0 L562.4 319.2 L562.2 320.5 L561.4 321.7 L560.2 322.4 L559.8 323.7 L558.8 324.3 L557.9 324.9 L557.2 325.9 L556.6 327.1 L555.8 328.2" fill="none"/><path d="M556.2 267.5 L558.8 266.4 L561.1 267.5 L561.9 270.6 L560.4 273.6 L557.3 273.6 L555.8 271.3Z" fill="none"/><path d="M565.0 268.0 L564.8 268.5 L564.2 268.7 L563.7 268.5 L563.4 268.0 L563.7 267.4 L564.2 267.2 L564.8 267.4Z" fill="#000"/><path d="M559.9 271.6 L559.7 272.1 L559.3 272.3 L558.9 272.1 L558.7 271.6 L558.9 271.2 L559.3 271.0 L559.7 271.2Z" fill="#000"/><path d="M578.8 290.5 L578.6 291.1 L578.0 291.3 L577.5 291.1 L577.3 290.5 L577.5 290.0 L578.0 289.8 L578.6 290.0Z" fill="#000"/><path d="M580.0 295.1 L579.8 295.7 L579.3 295.9 L578.7 295.7 L578.5 295.1 L578.7 294.6 L579.3 294.4 L579.8 294.6Z" fill="#000"/><path d="M575.4 296.7 L575.2 297.2 L574.7 297.4 L574.1 297.2 L573.9 296.7 L574.1 296.1 L574.7 295.9 L575.2 296.1Z" fill="#000"/><path d="M577.0 301.3 L576.7 301.8 L576.2 302.1 L575.7 301.8 L575.4 301.3 L575.7 300.7 L576.2 300.5 L576.7 300.7Z" fill="#000"/><path d="M573.7 303.6 L573.6 304.0 L573.1 304.2 L572.7 304.0 L572.5 303.6 L572.7 303.2 L573.1 303.0 L573.6 303.2Z" fill="#000"/><path d="M570.2 308.2 L570.0 308.6 L569.6 308.8 L569.2 308.6 L569.0 308.2 L569.2 307.8 L569.6 307.6 L570.0 307.8Z" fill="#000"/><path d="M663.6 250.4 L668.1 249.9 L668.6 252.2 L664.5 252.9Z" fill="#000"/><path d="M695.7 275.7 L697.1 276.6 L695.7 280.7 L693.9 281.4 L694.4 278.4Z" fill="#000"/><path d="M687.1 281.6 L688.9 280.0 L690.7 281.6 L688.9 283.4Z" fill="none"/><path d="M671.7 307.8 L675.2 305.6 L678.2 304.6 L678.8 306.3 L676.1 308.7 L673.4 310.4Z" fill="#000"/><path d="M667.7 313.5 L669.9 312.8 L670.2 315.3 L668.3 315.8Z" fill="#000"/><path d="M652.1 335.4 L654.4 331.8 L657.4 329.1 L660.1 325.9 L661.9 326.6 L660.1 330.0 L656.9 333.1 L654.4 335.9 L652.6 336.6Z" fill="#000"/><path d="M621.3 350.9 L623.6 351.4 L624.5 353.7 L621.6 353.4Z" fill="#000"/><path d="M574.6 345.7 L579.0 348.0 L578.2 352.5 L577.3 357.8 L575.5 363.2 L572.8 368.5 L571.0 373.8 L568.4 379.2 L566.6 383.6 L565.7 388.1 L563.9 389.0 L563.0 385.4 L560.3 382.7 L558.2 380.1 L556.8 375.6 L555.9 371.2 L556.4 366.7 L558.6 362.3 L561.2 357.8 L564.8 353.4 L568.4 349.8 L571.9 347.1Z" fill="none"/><path d="M600.9 357.5 L603.4 356.4 L605.2 357.8 L603.1 359.2Z" fill="#000"/><path d="M606.3 357.1 L608.4 355.7 L610.6 354.6 L609.9 357.5 L607.5 358.5Z" fill="#000"/><path d="M621.3 350.7 L622.7 350.7 L624.8 353.5 L621.6 353.5Z" fill="#000"/><path d="M638.1 226.5 L637.6 227.6 L636.5 228.1 L635.4 227.6 L634.9 226.5 L635.4 225.4 L636.5 224.9 L637.6 225.4Z" fill="#000"/><path d="M641.8 225.5 L641.4 226.4 L640.5 226.8 L639.6 226.4 L639.2 225.5 L639.6 224.6 L640.5 224.2 L641.4 224.6Z" fill="#000"/><path d="M647.4 224.5 L647.0 225.5 L646.0 225.9 L645.0 225.5 L644.6 224.5 L645.0 223.5 L646.0 223.1 L647.0 223.5Z" fill="#000"/><path d="M653.2 223.8 L652.8 224.6 L652.0 225.0 L651.2 224.6 L650.8 223.8 L651.2 223.0 L652.0 222.6 L652.8 223.0Z" fill="#000"/><path d="M660.0 222.5 L659.6 223.6 L658.5 224.0 L657.4 223.6 L657.0 222.5 L657.4 221.4 L658.5 221.0 L659.6 221.4Z" fill="#000"/><path d="M665.8 221.8 L665.4 222.7 L664.5 223.1 L663.6 222.7 L663.2 221.8 L663.6 220.9 L664.5 220.5 L665.4 220.9Z" fill="#000"/><path d="M636.0 222.0 L635.6 222.8 L634.8 223.2 L634.0 222.8 L633.6 222.0 L634.0 221.2 L634.8 220.8 L635.6 221.2Z" fill="#000"/><path d="M638.2 203.0 L637.8 203.8 L637.0 204.2 L636.2 203.8 L635.8 203.0 L636.2 202.2 L637.0 201.8 L637.8 202.2Z" fill="#000"/><path d="M642.6 187.0 L642.3 187.8 L641.5 188.1 L640.7 187.8 L640.4 187.0 L640.7 186.2 L641.5 185.9 L642.3 186.2Z" fill="#000"/><path d="M625.2 184.5 L624.8 185.3 L624.0 185.7 L623.2 185.3 L622.8 184.5 L623.2 183.7 L624.0 183.3 L624.8 183.7Z" fill="#000"/><path d="M620.5 181.5 L620.2 182.2 L619.5 182.5 L618.8 182.2 L618.5 181.5 L618.8 180.8 L619.5 180.5 L620.2 180.8Z" fill="#000"/><path d="M574.4 163.8 L574.0 164.8 L573.0 165.2 L572.0 164.8 L571.6 163.8 L572.0 162.8 L573.0 162.4 L574.0 162.8Z" fill="#000"/><path d="M643.5 196.0 L643.2 196.7 L642.5 197.0 L641.8 196.7 L641.5 196.0 L641.8 195.3 L642.5 195.0 L643.2 195.3Z" fill="#000"/><path d="M693.5 231.2 L694.6 229.6 L697.8 228.9 L700.9 227.3 L704.0 225.3 L707.2 223.0 L710.3 220.6 L713.5 218.3 L715.8 216.3 L718.9 215.1 L722.9 214.7 L725.2 215.9 L728.4 215.5 L733.1 214.7 L737.8 214.0 L742.5 213.4 L747.2 212.9 L749.5 212.4" fill="none"/><path d="M693.5 231.2 L693.8 233.6 L695.8 234.7 L698.5 235.1 L701.7 234.7 L704.8 235.1 L708.0 235.5 L710.7 235.1 L711.1 232.8 L712.3 230.4 L713.5 229.6 L714.2 231.6 L714.6 233.6 L716.6 232.8 L718.9 231.6 L722.1 230.8 L725.2 229.6 L728.4 228.9 L731.5 228.1 L733.1 226.9 L736.2 225.7 L739.3 224.9 L742.5 224.5 L744.8 225.3 L746.4 226.5 L745.6 228.1 L744.4 229.6 L743.6 231.2 L745.6 230.8 L746.8 233.6 L748.0 235.9 L749.9 238.3 L752.7 240.2 L755.4 241.6 L757.4 241.0 L759.3 238.7 L760.9 236.3 L762.5 234.4 L764.4 232.8 L766.8 231.6 L769.1 230.8 L770.0 230.4" fill="none"/><path d="M708.7 242.6 L711.1 241.4 L713.5 241.0 L714.6 238.7 L717.0 235.5 L718.9 233.6 L721.3 234.4 L723.6 235.1 L726.8 234.4 L728.7 232.0 L731.1 230.4 L733.8 229.6 L737.0 229.4 L740.1 230.0 L742.1 231.6 L742.5 234.4 L742.1 236.7 L740.1 238.7 L737.8 240.2 L736.2 242.2 L735.4 244.2 L733.1 242.2 L730.7 241.0 L728.0 240.6 L725.2 242.2 L722.9 244.5 L721.3 247.3 L720.5 250.0 L718.2 250.4 L715.8 249.3 L714.2 247.3 L713.1 244.9 L712.3 243.0 L710.3 243.4Z" fill="none"/><path d="M746.4 228.9 L748.7 226.9 L751.5 226.0 L752.3 226.9 L750.3 228.9 L748.0 230.4Z" fill="none"/><path d="M757.8 219.1 L760.5 216.3 L761.7 215.9 L761.3 217.9 L759.3 220.6 L758.2 221.4Z" fill="none"/><path d="M732.3 227.7 L733.8 227.1 L735.0 228.1 L737.0 227.5 L737.8 228.5 L736.2 228.9 L734.2 228.6 L732.9 228.6Z" fill="none"/><path d="M693.9 234.1 L694.5 234.7 L694.6 235.7 L695.2 236.4 L695.9 237.0 L696.7 237.7 L697.0 238.7 L697.8 239.4 L698.9 239.6 L699.9 239.8 L700.8 239.8 L701.7 240.0 L702.6 240.3 L703.1 241.3 L703.2 242.3 L702.2 242.9 L701.5 243.6 L702.9 243.9 L703.9 244.7 L704.8 245.0 L705.6 245.7 L706.6 246.1 L706.7 247.0 L707.6 247.7 L707.6 248.7 L707.1 249.4 L706.4 250.1 L706.3 251.1 L705.9 251.8 L705.1 252.4 L705.0 253.3 L704.4 254.2 L704.0 255.2 L703.4 256.0 L702.8 256.7 L703.0 257.7 L702.3 258.4 L702.0 259.2 L701.6 260.0 L701.6 260.8 L701.1 261.5 L701.2 262.4 L701.0 263.2 L700.9 264.1 L700.3 264.8 L700.3 265.6 L699.8 266.5 L699.2 267.3 L698.4 267.9 L697.6 268.3 L696.8 268.7 L696.2 269.3 L695.5 270.0 L694.9 270.8 L693.8 271.0 L693.0 271.7 L692.3 272.3 L691.5 272.9 L691.0 272.2 L690.1 271.7 L690.2 270.4 L690.8 269.3 L691.2 268.2 L691.7 267.1 L691.6 265.8 L691.1 264.7 L690.3 264.9 L689.7 265.6 L689.4 266.8 L688.9 267.9 L689.4 269.0 L689.3 270.2 L688.2 270.4 L687.5 271.2 L686.6 270.4 L685.5 269.9 L684.9 269.0 L684.8 267.9 L684.7 267.0 L684.7 266.0 L685.0 265.2 L685.1 264.2 L684.9 263.3 L684.5 262.5 L684.7 261.2 L685.3 260.2 L684.5 259.3 L684.3 258.3 L683.5 257.9 L682.9 257.3 L682.5 256.2 L682.1 255.1 L681.5 254.3 L680.8 253.7 L680.5 252.9 L679.8 251.8 L679.8 250.5 L678.8 249.8 L678.2 248.8 L678.1 247.6 L677.3 246.9 L676.9 246.0 L675.9 245.6 L675.5 244.8 L675.0 244.2 L676.2 243.6 L677.0 242.8 L678.1 242.4 L679.2 241.9 L680.5 241.6 L681.5 240.9 L682.3 240.5 L683.0 240.0 L683.7 239.4 L684.8 239.3 L685.6 238.7 L686.6 238.3 L687.2 237.5 L688.1 237.3 L688.8 236.8 L689.7 236.5 L690.2 235.6 L691.1 235.4Z" fill="none"/><path d="M683.3 246.0 L685.6 244.6 L687.9 245.0 L689.3 247.3 L690.2 250.1 L690.6 252.4 L689.3 254.6 L687.4 256.5 L685.6 257.9 L684.2 256.9 L685.6 255.1 L687.0 253.3 L686.5 251.0 L685.2 249.2 L683.8 247.8Z" fill="none"/><path d="M682.9 250.5 L684.2 252.4 L683.3 254.6 L682.4 253.3Z" fill="#000"/><path d="M676.8 244.1 L676.6 244.7 L676.0 245.0 L675.4 244.7 L675.2 244.1 L675.4 243.5 L676.0 243.3 L676.6 243.5Z" fill="#000"/><path d="M678.9 246.4 L678.8 246.9 L678.3 247.1 L677.8 246.9 L677.7 246.4 L677.8 246.0 L678.3 245.8 L678.8 246.0Z" fill="#000"/><path d="M680.3 249.2 L680.1 249.6 L679.7 249.8 L679.2 249.6 L679.0 249.2 L679.2 248.7 L679.7 248.5 L680.1 248.7Z" fill="#000"/><path d="M681.7 251.4 L681.5 251.9 L681.0 252.1 L680.6 251.9 L680.4 251.4 L680.6 251.0 L681.0 250.8 L681.5 251.0Z" fill="#000"/><path d="M683.0 256.0 L682.8 256.4 L682.4 256.6 L682.0 256.4 L681.9 256.0 L682.0 255.6 L682.4 255.5 L682.8 255.6Z" fill="#000"/><path d="M636.5 186.9 L637.9 186.5 L639.1 185.9 L640.0 186.9 L640.8 187.8 L641.9 188.2 L641.1 189.1 L640.6 190.0 L640.3 191.1 L641.1 191.7 L641.4 193.2 L642.8 193.5 L642.6 194.8 L642.7 196.1 L642.1 197.2 L640.6 197.5 L639.6 196.4 L638.3 196.7 L636.8 197.0 L635.5 197.8 L634.9 198.9 L634.0 199.5 L633.8 200.7 L634.8 201.3 L635.3 202.5 L636.4 202.8 L637.0 203.9 L638.3 204.3 L639.1 205.3 L638.9 206.6 L638.0 207.8 L639.4 208.7 L640.8 208.2 L641.8 209.1 L642.7 210.0 L643.0 211.3 L641.7 212.1 L641.2 213.4 L640.1 214.1 L639.3 215.4 L639.1 216.9 L638.1 217.8 L638.2 219.3 L637.5 220.4 L637.3 221.6 L636.5 222.6 L636.4 223.9 L637.4 225.1 L638.0 226.5 L636.9 227.4 L635.8 227.9 L634.9 228.6 L633.7 229.9 L634.9 230.0 L636.2 229.7 L637.5 229.6 L638.9 229.3 L640.0 228.5 L640.9 227.4 L642.1 226.7 L643.3 226.6 L644.5 226.6 L645.7 226.2 L646.9 225.8 L648.1 225.2 L649.5 225.3 L650.4 224.1 L651.7 223.9 L652.8 224.6 L654.0 224.6 L655.2 224.1 L656.3 223.5 L657.7 223.8 L658.7 222.7 L659.9 222.3 L661.2 222.7 L662.4 222.5 L663.6 222.2 L664.8 222.2 L665.9 222.8 L667.3 222.8 L668.3 221.8 L669.6 221.5" fill="none"/><path d="M635.7 187.2 L637.2 187.2 L638.5 186.8 L639.7 186.7 L640.5 187.5 L641.3 188.3 L640.6 189.5 L640.1 190.5 L639.6 191.4 L640.1 192.2 L641.5 192.6 L642.1 193.8 L642.0 195.2 L641.0 196.2 L641.1 197.5 L639.9 197.7 L638.6 197.9 L637.5 197.2 L636.1 197.6 L634.8 198.3 L633.8 199.0 L633.3 199.9 L633.2 201.2 L634.2 201.2 L634.6 202.5 L635.6 203.0 L636.6 203.7 L637.2 204.9 L638.4 205.5 L638.3 206.9 L637.7 208.2 L638.9 207.8 L639.8 209.0 L641.0 209.3 L641.0 210.6 L642.0 211.7 L640.9 212.5 L639.8 213.1 L639.1 214.3 L638.5 215.7 L638.1 217.1 L637.5 218.3 L637.5 219.6 L636.8 220.7 L636.1 221.8 L635.4 222.8 L635.7 224.2 L636.5 225.5 L637.1 226.8 L636.0 227.5 L634.7 227.7 L634.0 228.7 L632.5 229.9 L633.9 229.4 L635.3 229.5 L636.6 229.6 L637.8 228.8 L639.2 228.8 L640.3 228.0 L641.5 228.1 L642.6 227.3 L643.7 226.6 L645.0 226.6 L646.1 226.1 L647.3 225.6 L648.4 224.9 L649.8 225.0 L651.0 224.5 L652.1 223.8 L653.2 224.7 L654.4 224.5 L655.6 224.2 L657.0 224.3 L658.1 223.6 L659.2 223.3 L660.3 222.5 L661.6 223.1 L662.8 222.5 L664.0 223.0 L665.1 223.5 L666.2 222.5 L667.3 221.8 L668.8 221.8" fill="none"/><path d="M636.2 186.2 L637.7 186.4 L638.9 185.3 L639.9 186.0 L640.9 186.6 L641.7 187.4 L641.3 188.7 L639.8 189.0 L640.0 190.4 L641.0 190.9 L641.9 191.7 L642.7 192.7 L642.1 194.1 L641.5 195.2 L641.3 196.4 L640.4 196.2 L639.2 195.8 L638.0 196.5 L636.8 197.0 L635.2 197.1 L635.3 198.6 L634.4 199.3 L633.6 200.1 L634.6 200.4 L635.3 201.3 L636.4 201.6 L637.4 202.5 L637.6 204.1 L639.1 204.3 L637.9 205.7 L638.2 207.2 L639.0 208.1 L640.3 208.0 L641.6 208.2 L642.5 209.2 L642.8 210.6 L641.3 211.4 L641.0 212.8 L639.9 213.6 L638.8 214.6 L638.3 216.0 L638.7 217.5 L637.0 218.2 L637.1 219.6 L637.0 220.9 L637.1 222.2 L636.3 223.2 L636.2 224.8 L637.6 225.8 L636.7 226.9 L635.7 227.5 L634.6 227.9 L633.3 229.1 L634.6 229.5 L635.7 228.1 L637.1 228.3 L638.6 228.5 L639.8 228.0 L640.8 227.1 L641.8 226.1 L643.0 226.0 L644.3 226.2 L645.4 225.4 L646.7 225.3 L647.8 224.5 L648.7 223.5 L650.1 223.5 L651.4 223.4 L652.5 223.7 L653.7 223.5 L654.9 223.5 L656.1 223.2 L657.3 222.7 L658.5 222.3 L659.8 222.6 L660.8 221.5 L662.1 221.8 L663.2 222.6 L664.4 222.6 L665.7 222.1 L667.1 222.3 L668.2 221.6 L669.1 220.3" fill="none"/><path d="M615.0 182.3 L616.1 182.2 L617.3 182.3 L618.4 182.4 L619.4 183.4 L620.4 184.0 L620.9 185.2 L622.2 185.7 L623.1 185.0 L624.6 185.7 L625.7 185.1 L627.1 185.3 L628.3 184.7 L629.5 185.0 L630.6 185.7 L632.0 185.6 L633.0 186.2 L634.1 186.4 L635.3 186.3 L636.3 187.1" fill="none"/></g></g>
<rect x="85.55" y="31.45" width="382.95" height="382.95" fill="none" stroke="#000" stroke-width="1.15"/>
<rect x="555.55" y="31.45" width="382.9" height="382.95" fill="none" stroke="#000" stroke-width="1.15"/>
<text x="140.7" y="25.6" font-size="12.2" textLength="107.8" lengthAdjust="spacingAndGlyphs" >GSMAP_NRT_1HR</text>
<text x="251.0" y="25.6" font-size="12.2" textLength="56.1" lengthAdjust="spacingAndGlyphs" >estimates</text>
<text x="311.5" y="25.6" font-size="12.2" textLength="16.7" lengthAdjust="spacingAndGlyphs" >for</text>
<text x="331.8" y="25.6" font-size="12.2" textLength="61.1" lengthAdjust="spacingAndGlyphs" >20251031</text>
<text x="397.7" y="25.6" font-size="12.2" textLength="14.7" lengthAdjust="spacingAndGlyphs" >10</text>
<text x="601.1" y="25.6" font-size="12.2" textLength="38.7" lengthAdjust="spacingAndGlyphs" >Hourly</text>
<text x="644.1" y="25.6" font-size="12.2" textLength="91.2" lengthAdjust="spacingAndGlyphs" >Radar-AMeDAS</text>
<text x="739.4" y="25.6" font-size="12.2" textLength="49.0" lengthAdjust="spacingAndGlyphs" >analysis</text>
<text x="792.5" y="25.6" font-size="12.2" textLength="16.6" lengthAdjust="spacingAndGlyphs" >for</text>
<text x="812.9" y="25.6" font-size="12.2" textLength="60.2" lengthAdjust="spacingAndGlyphs" >20251031</text>
<text x="877.5" y="25.6" font-size="12.2" textLength="15.1" lengthAdjust="spacingAndGlyphs" >10</text>
<text x="137.9" y="425.0" font-size="10" textLength="22.8" lengthAdjust="spacingAndGlyphs" >125°E</text>
<text x="201.6" y="425.0" font-size="10" textLength="22.8" lengthAdjust="spacingAndGlyphs" >130°E</text>
<text x="265.2" y="425.0" font-size="10" textLength="22.8" lengthAdjust="spacingAndGlyphs" >135°E</text>
<text x="329.5" y="425.0" font-size="10" textLength="22.8" lengthAdjust="spacingAndGlyphs" >140°E</text>
<text x="393.0" y="425.0" font-size="10" textLength="22.8" lengthAdjust="spacingAndGlyphs" >145°E</text>
<text x="62.1" y="351.9" font-size="10" textLength="19.2" lengthAdjust="spacingAndGlyphs" >25°N</text>
<text x="62.1" y="288.1" font-size="10" textLength="19.2" lengthAdjust="spacingAndGlyphs" >30°N</text>
<text x="62.1" y="224.3" font-size="10" textLength="19.2" lengthAdjust="spacingAndGlyphs" >35°N</text>
<text x="62.1" y="160.6" font-size="10" textLength="19.2" lengthAdjust="spacingAndGlyphs" >40°N</text>
<text x="62.1" y="96.8" font-size="10" textLength="19.2" lengthAdjust="spacingAndGlyphs" >45°N</text>
<text x="607.1" y="425.0" font-size="10" textLength="22.8" lengthAdjust="spacingAndGlyphs" >125°E</text>
<text x="671.0" y="425.0" font-size="10" textLength="22.8" lengthAdjust="spacingAndGlyphs" >130°E</text>
<text x="734.8" y="425.0" font-size="10" textLength="22.8" lengthAdjust="spacingAndGlyphs" >135°E</text>
<text x="799.2" y="425.0" font-size="10" textLength="22.8" lengthAdjust="spacingAndGlyphs" >140°E</text>
<text x="862.6" y="425.0" font-size="10" textLength="22.8" lengthAdjust="spacingAndGlyphs" >145°E</text>
<text x="532.1" y="351.9" font-size="10" textLength="19.2" lengthAdjust="spacingAndGlyphs" >25°N</text>
<text x="532.1" y="288.1" font-size="10" textLength="19.2" lengthAdjust="spacingAndGlyphs" >30°N</text>
<text x="532.1" y="224.3" font-size="10" textLength="19.2" lengthAdjust="spacingAndGlyphs" >35°N</text>
<text x="532.1" y="160.6" font-size="10" textLength="19.2" lengthAdjust="spacingAndGlyphs" >40°N</text>
<text x="532.1" y="96.8" font-size="10" textLength="19.2" lengthAdjust="spacingAndGlyphs" >45°N</text>
<rect x="972" y="377.59" width="21.6" height="36.81" fill="#ffe8bf"/>
<rect x="972" y="341.08" width="21.6" height="36.81" fill="#d9ffcc"/>
<rect x="972" y="304.57" width="21.6" height="36.81" fill="#99ff99"/>
<rect x="972" y="268.06" width="21.6" height="36.81" fill="#66ffff"/>
<rect x="972" y="231.55" width="21.6" height="36.81" fill="#00ccff"/>
<rect x="972" y="195.04" width="21.6" height="36.81" fill="#0066ff"/>
<rect x="972" y="158.53" width="21.6" height="36.81" fill="#9966ff"/>
<rect x="972" y="122.02" width="21.6" height="36.81" fill="#dd66ff"/>
<rect x="972" y="85.51" width="21.6" height="36.81" fill="#ff00f5"/>
<rect x="972" y="49.00" width="21.6" height="36.81" fill="#cc9944"/>
<path d="M972 49.0 L982.8 30.3 L993.6 49.0 Z" fill="#000"/>
<path d="M972 413.5 L972 49.0 L982.8 30.3 L993.6 49.0 L993.6 413.5 Z" fill="none" stroke="#2a2418" stroke-width="0.9"/>
<line x1="994" y1="414.4" x2="998.6" y2="414.4" stroke="#000" stroke-width="0.9"/>
<text x="1001.0" y="418.8" font-size="12" textLength="7.2" lengthAdjust="spacingAndGlyphs" >0</text>
<line x1="994" y1="377.9" x2="998.6" y2="377.9" stroke="#000" stroke-width="0.9"/>
<text x="1001.0" y="382.3" font-size="12" textLength="25.2" lengthAdjust="spacingAndGlyphs" >0.01</text>
<line x1="994" y1="341.4" x2="998.6" y2="341.4" stroke="#000" stroke-width="0.9"/>
<text x="1001.0" y="345.8" font-size="12" textLength="18.0" lengthAdjust="spacingAndGlyphs" >0.5</text>
<line x1="994" y1="304.9" x2="998.6" y2="304.9" stroke="#000" stroke-width="0.9"/>
<text x="1001.0" y="309.3" font-size="12" textLength="7.2" lengthAdjust="spacingAndGlyphs" >1</text>
<line x1="994" y1="268.4" x2="998.6" y2="268.4" stroke="#000" stroke-width="0.9"/>
<text x="1001.0" y="272.8" font-size="12" textLength="7.2" lengthAdjust="spacingAndGlyphs" >2</text>
<line x1="994" y1="231.9" x2="998.6" y2="231.9" stroke="#000" stroke-width="0.9"/>
<text x="1001.0" y="236.3" font-size="12" textLength="7.2" lengthAdjust="spacingAndGlyphs" >3</text>
<line x1="994" y1="195.3" x2="998.6" y2="195.3" stroke="#000" stroke-width="0.9"/>
<text x="1001.0" y="199.7" font-size="12" textLength="7.2" lengthAdjust="spacingAndGlyphs" >4</text>
<line x1="994" y1="158.8" x2="998.6" y2="158.8" stroke="#000" stroke-width="0.9"/>
<text x="1001.0" y="163.2" font-size="12" textLength="7.2" lengthAdjust="spacingAndGlyphs" >5</text>
<line x1="994" y1="122.3" x2="998.6" y2="122.3" stroke="#000" stroke-width="0.9"/>
<text x="1001.0" y="126.7" font-size="12" textLength="14.4" lengthAdjust="spacingAndGlyphs" >10</text>
<line x1="994" y1="85.8" x2="998.6" y2="85.8" stroke="#000" stroke-width="0.9"/>
<text x="1001.0" y="90.2" font-size="12" textLength="14.4" lengthAdjust="spacingAndGlyphs" >25</text>
<line x1="994" y1="49.3" x2="998.6" y2="49.3" stroke="#000" stroke-width="0.9"/>
<text x="1001.0" y="53.7" font-size="12" textLength="14.4" lengthAdjust="spacingAndGlyphs" >50</text>
<rect x="810.3" y="270.8" width="105" height="104.2" fill="#fff" stroke="#000" stroke-width="0.9"/>
<line x1="810.3" y1="375" x2="915.3" y2="270.8" stroke="#000" stroke-width="1"/>
<path d="M810.3 375.0 v3.3 M810.3 375.0 h-3.3 M814.5 375.0 v1.8 M810.3 370.8 h-1.8 M818.7 375.0 v1.8 M810.3 366.7 h-1.8 M822.9 375.0 v1.8 M810.3 362.5 h-1.8 M827.1 375.0 v1.8 M810.3 358.3 h-1.8 M831.3 375.0 v3.3 M810.3 354.2 h-3.3 M835.5 375.0 v1.8 M810.3 350.0 h-1.8 M839.7 375.0 v1.8 M810.3 345.8 h-1.8 M843.9 375.0 v1.8 M810.3 341.7 h-1.8 M848.1 375.0 v1.8 M810.3 337.5 h-1.8 M852.3 375.0 v3.3 M810.3 333.3 h-3.3 M856.5 375.0 v1.8 M810.3 329.2 h-1.8 M860.7 375.0 v1.8 M810.3 325.0 h-1.8 M864.9 375.0 v1.8 M810.3 320.8 h-1.8 M869.1 375.0 v1.8 M810.3 316.6 h-1.8 M873.3 375.0 v3.3 M810.3 312.5 h-3.3 M877.5 375.0 v1.8 M810.3 308.3 h-1.8 M881.7 375.0 v1.8 M810.3 304.1 h-1.8 M885.9 375.0 v1.8 M810.3 300.0 h-1.8 M890.1 375.0 v1.8 M810.3 295.8 h-1.8 M894.3 375.0 v3.3 M810.3 291.6 h-3.3 M898.5 375.0 v1.8 M810.3 287.5 h-1.8 M902.7 375.0 v1.8 M810.3 283.3 h-1.8 M906.9 375.0 v1.8 M810.3 279.1 h-1.8 M911.1 375.0 v1.8 M810.3 275.0 h-1.8 M915.3 375.0 v3.3 M810.3 270.8 h-3.3" stroke="#000" stroke-width="0.7" fill="none"/>
<text x="808.0" y="388.2" font-size="9.9" textLength="4.6" lengthAdjust="spacingAndGlyphs" >0</text>
<text x="799.5" y="378.5" font-size="9.9" textLength="4.6" lengthAdjust="spacingAndGlyphs" >0</text>
<text x="826.8" y="388.2" font-size="9.9" textLength="9.0" lengthAdjust="spacingAndGlyphs" >10</text>
<text x="795.1" y="357.7" font-size="9.9" textLength="9.0" lengthAdjust="spacingAndGlyphs" >10</text>
<text x="847.8" y="388.2" font-size="9.9" textLength="9.0" lengthAdjust="spacingAndGlyphs" >20</text>
<text x="795.1" y="336.8" font-size="9.9" textLength="9.0" lengthAdjust="spacingAndGlyphs" >20</text>
<text x="868.8" y="388.2" font-size="9.9" textLength="9.0" lengthAdjust="spacingAndGlyphs" >30</text>
<text x="795.1" y="316.0" font-size="9.9" textLength="9.0" lengthAdjust="spacingAndGlyphs" >30</text>
<text x="889.8" y="388.2" font-size="9.9" textLength="9.0" lengthAdjust="spacingAndGlyphs" >40</text>
<text x="795.1" y="295.1" font-size="9.9" textLength="9.0" lengthAdjust="spacingAndGlyphs" >40</text>
<text x="910.8" y="388.2" font-size="9.9" textLength="9.0" lengthAdjust="spacingAndGlyphs" >50</text>
<text x="795.1" y="274.3" font-size="9.9" textLength="9.0" lengthAdjust="spacingAndGlyphs" >50</text>
<text x="838.6" y="398.7" font-size="11.3" textLength="45.8" lengthAdjust="spacingAndGlyphs" >ANALYSIS</text>
<text transform="translate(791.8,366) rotate(-90)" font-size="11.3" textLength="85" lengthAdjust="spacingAndGlyphs">GSMAP_NRT_1HR</text>
<path d="M810.3 375.0 L810.3 353.1 L812.8 352.5 L815.5 354.2 L818.3 357.1 L820.8 361.5 L822.5 366.7 L823.3 371.9 L823.3 375.0Z" fill="#000"/>
<g clip-path="url(#ci)"><path d="M811.3 373.4 h3.6M813.1 371.6 v3.6 M816.0 374.3 h3.6M817.8 372.5 v3.6 M814.0 370.6 h3.6M815.8 368.8 v3.6 M808.9 368.2 h3.6M810.7 366.4 v3.6 M808.8 369.5 h3.6M810.6 367.7 v3.6 M809.0 374.1 h3.6M810.8 372.3 v3.6 M812.4 358.2 h3.6M814.2 356.4 v3.6 M809.4 372.6 h3.6M811.2 370.8 v3.6 M815.5 346.7 h3.6M817.3 344.9 v3.6 M814.6 370.2 h3.6M816.4 368.4 v3.6 M835.2 374.5 h3.6M837.0 372.7 v3.6 M822.5 371.7 h3.6M824.3 369.9 v3.6 M809.6 373.8 h3.6M811.4 372.0 v3.6 M811.1 358.8 h3.6M812.9 357.0 v3.6 M809.9 366.6 h3.6M811.7 364.8 v3.6 M815.8 370.5 h3.6M817.6 368.7 v3.6 M814.2 374.4 h3.6M816.0 372.6 v3.6 M808.9 372.8 h3.6M810.7 371.0 v3.6 M816.6 369.7 h3.6M818.4 367.9 v3.6 M811.2 366.6 h3.6M813.0 364.8 v3.6 M812.8 371.6 h3.6M814.6 369.8 v3.6 M819.8 363.5 h3.6M821.6 361.7 v3.6 M810.5 366.8 h3.6M812.3 365.0 v3.6 M813.8 355.1 h3.6M815.6 353.3 v3.6 M817.8 371.7 h3.6M819.6 369.9 v3.6 M836.5 373.8 h3.6M838.3 372.0 v3.6 M812.4 361.4 h3.6M814.2 359.6 v3.6 M809.7 368.6 h3.6M811.5 366.8 v3.6 M808.8 364.4 h3.6M810.6 362.6 v3.6 M818.8 366.8 h3.6M820.6 365.0 v3.6 M823.4 371.4 h3.6M825.2 369.6 v3.6 M817.0 366.4 h3.6M818.8 364.6 v3.6 M814.7 369.2 h3.6M816.5 367.4 v3.6 M813.1 364.5 h3.6M814.9 362.7 v3.6 M808.9 363.4 h3.6M810.7 361.6 v3.6 M820.8 371.8 h3.6M822.6 370.0 v3.6 M812.0 364.4 h3.6M813.8 362.6 v3.6 M808.7 369.1 h3.6M810.5 367.3 v3.6 M809.8 373.8 h3.6M811.6 372.0 v3.6 M808.9 361.0 h3.6M810.7 359.2 v3.6 M809.5 372.3 h3.6M811.3 370.5 v3.6 M812.0 355.3 h3.6M813.8 353.5 v3.6 M809.1 369.3 h3.6M810.9 367.5 v3.6 M814.2 354.4 h3.6M816.0 352.6 v3.6 M820.7 355.9 h3.6M822.5 354.1 v3.6 M810.8 369.9 h3.6M812.6 368.1 v3.6 M811.7 354.3 h3.6M813.5 352.5 v3.6 M831.1 373.4 h3.6M832.9 371.6 v3.6 M809.9 372.5 h3.6M811.7 370.7 v3.6 M810.4 368.6 h3.6M812.2 366.8 v3.6 M814.9 372.1 h3.6M816.7 370.3 v3.6 M808.5 369.8 h3.6M810.3 368.0 v3.6 M811.8 367.0 h3.6M813.6 365.2 v3.6 M830.3 363.8 h3.6M832.1 362.0 v3.6 M813.7 365.8 h3.6M815.5 364.0 v3.6 M816.6 374.5 h3.6M818.4 372.7 v3.6 M824.9 360.5 h3.6M826.7 358.7 v3.6 M823.3 359.7 h3.6M825.1 357.9 v3.6 M812.1 370.1 h3.6M813.9 368.3 v3.6 M809.3 365.4 h3.6M811.1 363.6 v3.6 M809.0 374.3 h3.6M810.8 372.5 v3.6 M810.2 373.3 h3.6M812.0 371.5 v3.6 M811.5 374.5 h3.6M813.3 372.7 v3.6 M808.5 373.4 h3.6M810.3 371.6 v3.6 M809.3 370.7 h3.6M811.1 368.9 v3.6 M808.7 355.1 h3.6M810.5 353.3 v3.6 M815.3 373.5 h3.6M817.1 371.7 v3.6 M810.6 370.9 h3.6M812.4 369.1 v3.6 M811.7 373.7 h3.6M813.5 371.9 v3.6 M813.0 368.7 h3.6M814.8 366.9 v3.6 M809.1 374.0 h3.6M810.9 372.2 v3.6 M811.5 372.1 h3.6M813.3 370.3 v3.6 M821.1 373.3 h3.6M822.9 371.5 v3.6 M808.7 346.1 h3.6M810.5 344.3 v3.6 M813.9 373.5 h3.6M815.7 371.7 v3.6 M814.1 374.7 h3.6M815.9 372.9 v3.6 M822.7 363.6 h3.6M824.5 361.8 v3.6 M810.7 370.6 h3.6M812.5 368.8 v3.6 M809.8 360.8 h3.6M811.6 359.0 v3.6 M813.9 360.5 h3.6M815.7 358.7 v3.6 M811.4 372.6 h3.6M813.2 370.8 v3.6 M822.2 359.3 h3.6M824.0 357.5 v3.6 M820.7 362.1 h3.6M822.5 360.3 v3.6 M810.3 368.0 h3.6M812.1 366.2 v3.6 M811.6 374.7 h3.6M813.4 372.9 v3.6 M808.7 371.9 h3.6M810.5 370.1 v3.6 M810.6 363.7 h3.6M812.4 361.9 v3.6 M830.9 369.3 h3.6M832.7 367.5 v3.6 M830.6 370.7 h3.6M832.4 368.9 v3.6 M810.3 372.5 h3.6M812.1 370.7 v3.6 M810.1 372.8 h3.6M811.9 371.0 v3.6 M815.5 352.9 h3.6M817.3 351.1 v3.6 M821.6 368.7 h3.6M823.4 366.9 v3.6 M816.1 359.6 h3.6M817.9 357.8 v3.6 M809.1 364.6 h3.6M810.9 362.8 v3.6 M825.7 360.4 h3.6M827.5 358.6 v3.6 M818.4 368.8 h3.6M820.2 367.0 v3.6 M809.9 360.1 h3.6M811.7 358.3 v3.6 M811.4 359.5 h3.6M813.2 357.7 v3.6 M833.9 370.2 h3.6M835.7 368.4 v3.6 M812.2 346.9 h3.6M814.0 345.1 v3.6 M817.7 373.2 h3.6M819.5 371.4 v3.6 M809.5 373.4 h3.6M811.3 371.6 v3.6 M825.3 359.3 h3.6M827.1 357.5 v3.6 M809.6 358.2 h3.6M811.4 356.4 v3.6 M811.6 367.4 h3.6M813.4 365.6 v3.6 M809.5 374.9 h3.6M811.3 373.1 v3.6 M833.8 364.9 h3.6M835.6 363.1 v3.6 M813.8 349.0 h3.6M815.6 347.2 v3.6 M812.6 355.3 h3.6M814.4 353.5 v3.6 M821.0 372.7 h3.6M822.8 370.9 v3.6 M810.6 371.7 h3.6M812.4 369.9 v3.6 M810.5 366.5 h3.6M812.3 364.7 v3.6 M810.6 369.8 h3.6M812.4 368.0 v3.6 M809.5 351.9 h3.6M811.3 350.1 v3.6 M811.6 369.1 h3.6M813.4 367.3 v3.6 M814.8 352.5 h3.6M816.6 350.7 v3.6 M812.4 351.1 h3.6M814.2 349.3 v3.6 M813.5 367.7 h3.6M815.3 365.9 v3.6 M813.8 374.8 h3.6M815.6 373.0 v3.6 M812.6 373.1 h3.6M814.4 371.3 v3.6 M808.5 359.6 h3.6M810.3 357.8 v3.6 M809.9 368.9 h3.6M811.7 367.1 v3.6 M817.7 367.2 h3.6M819.5 365.4 v3.6 M811.3 368.0 h3.6M813.1 366.2 v3.6 M814.3 360.3 h3.6M816.1 358.5 v3.6 M809.3 367.1 h3.6M811.1 365.3 v3.6 M810.5 371.9 h3.6M812.3 370.1 v3.6 M819.1 368.2 h3.6M820.9 366.4 v3.6 M814.4 361.3 h3.6M816.2 359.5 v3.6 M825.9 369.4 h3.6M827.7 367.6 v3.6 M815.3 368.2 h3.6M817.1 366.4 v3.6 M813.6 363.7 h3.6M815.4 361.9 v3.6 M812.8 367.7 h3.6M814.6 365.9 v3.6 M813.1 347.8 h3.6M814.9 346.0 v3.6 M817.1 354.9 h3.6M818.9 353.1 v3.6 M828.9 372.1 h3.6M830.7 370.3 v3.6 M814.4 347.5 h3.6M816.2 345.7 v3.6 M821.6 373.6 h3.6M823.4 371.8 v3.6 M809.4 369.4 h3.6M811.2 367.6 v3.6 M809.0 372.4 h3.6M810.8 370.6 v3.6 M809.0 364.4 h3.6M810.8 362.6 v3.6 M819.4 353.2 h3.6M821.2 351.4 v3.6 M809.7 362.9 h3.6M811.5 361.1 v3.6 M816.2 373.5 h3.6M818.0 371.7 v3.6 M812.1 368.6 h3.6M813.9 366.8 v3.6 M809.8 369.6 h3.6M811.6 367.8 v3.6 M813.7 371.0 h3.6M815.5 369.2 v3.6 M810.1 371.3 h3.6M811.9 369.5 v3.6 M817.6 374.8 h3.6M819.4 373.0 v3.6 M814.3 369.4 h3.6M816.1 367.6 v3.6 M808.6 371.1 h3.6M810.4 369.3 v3.6 M815.5 368.1 h3.6M817.3 366.3 v3.6 M809.3 372.0 h3.6M811.1 370.2 v3.6 M808.8 360.5 h3.6M810.6 358.7 v3.6 M810.8 373.7 h3.6M812.6 371.9 v3.6 M812.4 351.8 h3.6M814.2 350.0 v3.6 M820.7 372.1 h3.6M822.5 370.3 v3.6 M809.7 350.9 h3.6M811.5 349.1 v3.6 M814.5 363.4 h3.6M816.3 361.6 v3.6 M809.2 374.4 h3.6M811.0 372.6 v3.6 M816.8 369.7 h3.6M818.6 367.9 v3.6 M809.0 348.3 h3.6M810.8 346.5 v3.6 M815.7 359.5 h3.6M817.5 357.7 v3.6 M809.1 356.4 h3.6M810.9 354.6 v3.6 M809.0 356.0 h3.6M810.8 354.2 v3.6 M812.8 371.0 h3.6M814.6 369.2 v3.6 M814.3 350.0 h3.6M816.1 348.2 v3.6 M810.7 373.7 h3.6M812.5 371.9 v3.6 M813.8 372.4 h3.6M815.6 370.6 v3.6 M809.3 373.3 h3.6M811.1 371.5 v3.6 M808.9 372.8 h3.6M810.7 371.0 v3.6 M811.2 371.5 h3.6M813.0 369.7 v3.6 M818.7 371.7 h3.6M820.5 369.9 v3.6 M813.5 373.1 h3.6M815.3 371.3 v3.6 M811.5 374.8 h3.6M813.3 373.0 v3.6 M810.6 374.9 h3.6M812.4 373.1 v3.6 M817.9 367.3 h3.6M819.7 365.5 v3.6 M810.0 368.8 h3.6M811.8 367.0 v3.6 M828.0 373.9 h3.6M829.8 372.1 v3.6 M820.7 369.6 h3.6M822.5 367.8 v3.6 M813.4 357.7 h3.6M815.2 355.9 v3.6 M812.1 368.2 h3.6M813.9 366.4 v3.6 M811.5 357.9 h3.6M813.3 356.1 v3.6 M817.3 365.3 h3.6M819.1 363.5 v3.6 M812.2 370.9 h3.6M814.0 369.1 v3.6 M808.9 373.7 h3.6M810.7 371.9 v3.6 M809.0 362.1 h3.6M810.8 360.3 v3.6 M810.6 373.3 h3.6M812.4 371.5 v3.6 M809.1 357.4 h3.6M810.9 355.6 v3.6 M823.1 364.4 h3.6M824.9 362.6 v3.6 M810.9 372.3 h3.6M812.7 370.5 v3.6 M811.0 369.1 h3.6M812.8 367.3 v3.6 M809.7 369.3 h3.6M811.5 367.5 v3.6 M834.2 367.4 h3.6M836.0 365.6 v3.6 M811.1 370.8 h3.6M812.9 369.0 v3.6 M808.5 370.4 h3.6M810.3 368.6 v3.6 M813.1 368.3 h3.6M814.9 366.5 v3.6 M810.1 368.3 h3.6M811.9 366.5 v3.6 M808.5 372.1 h3.6M810.3 370.3 v3.6 M809.2 370.1 h3.6M811.0 368.3 v3.6 M808.8 374.8 h3.6M810.6 373.0 v3.6 M811.1 372.5 h3.6M812.9 370.7 v3.6 M814.8 367.8 h3.6M816.6 366.0 v3.6 M818.4 364.7 h3.6M820.2 362.9 v3.6 M817.5 354.7 h3.6M819.3 352.9 v3.6 M812.0 371.2 h3.6M813.8 369.4 v3.6 M817.7 365.1 h3.6M819.5 363.3 v3.6 M808.8 357.7 h3.6M810.6 355.9 v3.6 M824.4 365.5 h3.6M826.2 363.7 v3.6 M818.0 359.0 h3.6M819.8 357.2 v3.6 M809.6 367.9 h3.6M811.4 366.1 v3.6 M813.5 357.7 h3.6M815.3 355.9 v3.6 M820.2 358.2 h3.6M822.0 356.4 v3.6 M814.8 353.6 h3.6M816.6 351.8 v3.6 M816.7 363.7 h3.6M818.5 361.9 v3.6 M810.4 374.7 h3.6M812.2 372.9 v3.6 M809.5 370.7 h3.6M811.3 368.9 v3.6 M809.3 357.7 h3.6M811.1 355.9 v3.6 M814.3 365.5 h3.6M816.1 363.7 v3.6 M815.5 364.1 h3.6M817.3 362.3 v3.6 M813.3 375.0 h3.6M815.1 373.2 v3.6 M819.9 361.8 h3.6M821.7 360.0 v3.6 M813.5 367.7 h3.6M815.3 365.9 v3.6 M816.2 374.3 h3.6M818.0 372.5 v3.6 M818.0 372.2 h3.6M819.8 370.4 v3.6 M809.1 372.0 h3.6M810.9 370.2 v3.6 M817.8 372.8 h3.6M819.6 371.0 v3.6 M813.4 370.4 h3.6M815.2 368.6 v3.6 M813.2 364.0 h3.6M815.0 362.2 v3.6 M818.9 365.8 h3.6M820.7 364.0 v3.6 M815.8 374.2 h3.6M817.6 372.4 v3.6 M809.6 372.2 h3.6M811.4 370.4 v3.6 M818.2 371.5 h3.6M820.0 369.7 v3.6 M814.5 374.9 h3.6M816.3 373.1 v3.6 M808.9 372.0 h3.6M810.7 370.2 v3.6 M816.5 363.7 h3.6M818.3 361.9 v3.6 M816.5 371.7 h3.6M818.3 369.9 v3.6 M813.7 369.0 h3.6M815.5 367.2 v3.6 M813.0 373.8 h3.6M814.8 372.0 v3.6 M824.5 372.9 h3.6M826.3 371.1 v3.6 M808.6 369.1 h3.6M810.4 367.3 v3.6 M812.8 372.0 h3.6M814.6 370.2 v3.6 M810.2 347.1 h3.6M812.0 345.3 v3.6 M810.2 366.7 h3.6M812.0 364.9 v3.6 M809.6 367.9 h3.6M811.4 366.1 v3.6 M830.3 373.6 h3.6M832.1 371.8 v3.6 M820.8 368.2 h3.6M822.6 366.4 v3.6 M824.1 363.4 h3.6M825.9 361.6 v3.6 M810.4 353.1 h3.6M812.2 351.3 v3.6 M813.3 374.8 h3.6M815.1 373.0 v3.6 M808.5 368.5 h3.6M810.3 366.7 v3.6 M812.8 371.6 h3.6M814.6 369.8 v3.6 M809.6 371.0 h3.6M811.4 369.2 v3.6 M811.2 357.4 h3.6M813.0 355.6 v3.6 M808.5 361.7 h3.6M810.3 359.9 v3.6 M821.5 373.8 h3.6M823.3 372.0 v3.6 M827.1 363.0 h3.6M828.9 361.2 v3.6 M825.1 371.7 h3.6M826.9 369.9 v3.6 M811.8 370.2 h3.6M813.6 368.4 v3.6 M811.7 369.6 h3.6M813.5 367.8 v3.6 M810.8 374.5 h3.6M812.6 372.7 v3.6 M809.3 357.7 h3.6M811.1 355.9 v3.6 M810.9 348.7 h3.6M812.7 346.9 v3.6 M810.5 372.0 h3.6M812.3 370.2 v3.6 M813.6 373.0 h3.6M815.4 371.2 v3.6 M823.9 359.0 h3.6M825.7 357.2 v3.6 M815.6 351.5 h3.6M817.4 349.7 v3.6 M828.7 367.4 h3.6M830.5 365.6 v3.6 M817.6 374.5 h3.6M819.4 372.7 v3.6 M817.9 369.3 h3.6M819.7 367.5 v3.6 M818.5 365.1 h3.6M820.3 363.3 v3.6 M810.9 374.5 h3.6M812.7 372.7 v3.6 M827.2 373.7 h3.6M829.0 371.9 v3.6 M813.1 371.0 h3.6M814.9 369.2 v3.6 M811.0 362.1 h3.6M812.8 360.3 v3.6 M835.2 372.1 h3.6M837.0 370.3 v3.6 M816.1 371.6 h3.6M817.9 369.8 v3.6 M814.3 370.2 h3.6M816.1 368.4 v3.6 M809.8 373.3 h3.6M811.6 371.5 v3.6 M810.2 352.3 h3.6M812.0 350.5 v3.6 M813.4 372.6 h3.6M815.2 370.8 v3.6 M812.8 373.6 h3.6M814.6 371.8 v3.6 M810.0 374.1 h3.6M811.8 372.3 v3.6 M811.5 374.1 h3.6M813.3 372.3 v3.6 M810.5 372.1 h3.6M812.3 370.3 v3.6 M814.5 354.1 h3.6M816.3 352.3 v3.6 M818.4 369.9 h3.6M820.2 368.1 v3.6 M812.3 367.9 h3.6M814.1 366.1 v3.6 M811.9 371.0 h3.6M813.7 369.2 v3.6 M809.0 371.9 h3.6M810.8 370.1 v3.6 M833.0 373.7 h3.6M834.8 371.9 v3.6 M813.5 365.5 h3.6M815.3 363.7 v3.6 M822.7 372.7 h3.6M824.5 370.9 v3.6 M810.8 372.3 h3.6M812.6 370.5 v3.6 M812.1 369.3 h3.6M813.9 367.5 v3.6 M823.2 374.8 h3.6M825.0 373.0 v3.6 M808.7 363.1 h3.6M810.5 361.3 v3.6 M824.6 368.9 h3.6M826.4 367.1 v3.6 M814.8 375.0 h3.6M816.6 373.2 v3.6 M812.0 349.9 h3.6M813.8 348.1 v3.6 M821.0 356.5 h3.6M822.8 354.7 v3.6 M834.1 372.3 h3.6M835.9 370.5 v3.6 M809.3 373.4 h3.6M811.1 371.6 v3.6 M813.8 364.0 h3.6M815.6 362.2 v3.6 M828.8 362.7 h3.6M830.6 360.9 v3.6 M815.9 361.1 h3.6M817.7 359.3 v3.6 M812.9 367.3 h3.6M814.7 365.5 v3.6 M808.8 360.4 h3.6M810.6 358.6 v3.6 M810.4 350.8 h3.6M812.2 349.0 v3.6 M815.9 371.5 h3.6M817.7 369.7 v3.6 M809.5 372.2 h3.6M811.3 370.4 v3.6 M815.7 363.5 h3.6M817.5 361.7 v3.6 M809.3 374.3 h3.6M811.1 372.5 v3.6 M813.8 366.6 h3.6M815.6 364.8 v3.6 M812.0 372.6 h3.6M813.8 370.8 v3.6 M815.1 374.9 h3.6M816.9 373.1 v3.6 M811.1 369.1 h3.6M812.9 367.3 v3.6 M831.3 365.1 h3.6M833.1 363.3 v3.6 M823.9 368.8 h3.6M825.7 367.0 v3.6 M810.4 372.3 h3.6M812.2 370.5 v3.6 M831.6 363.3 h3.6M833.4 361.5 v3.6 M811.1 374.8 h3.6M812.9 373.0 v3.6 M813.4 364.2 h3.6M815.2 362.4 v3.6 M812.4 372.1 h3.6M814.2 370.3 v3.6 M816.4 350.1 h3.6M818.2 348.3 v3.6 M810.3 374.7 h3.6M812.1 372.9 v3.6 M811.4 369.8 h3.6M813.2 368.0 v3.6 M816.7 372.9 h3.6M818.5 371.1 v3.6 M819.9 362.1 h3.6M821.7 360.3 v3.6 M813.5 372.8 h3.6M815.3 371.0 v3.6 M833.5 371.4 h3.6M835.3 369.6 v3.6 M820.7 372.5 h3.6M822.5 370.7 v3.6 M810.3 361.3 h3.6M812.1 359.5 v3.6 M811.0 345.9 h3.6M812.8 344.1 v3.6 M813.4 373.0 h3.6M815.2 371.2 v3.6 M810.3 369.8 h3.6M812.1 368.0 v3.6 M816.3 346.5 h3.6M818.1 344.7 v3.6 M809.6 370.2 h3.6M811.4 368.4 v3.6 M809.6 374.5 h3.6M811.4 372.7 v3.6 M808.9 370.2 h3.6M810.7 368.4 v3.6 M824.8 354.4 h3.6M826.6 352.6 v3.6 M827.7 371.2 h3.6M829.5 369.4 v3.6 M810.0 348.7 h3.6M811.8 346.9 v3.6 M818.3 374.7 h3.6M820.1 372.9 v3.6 M816.3 370.4 h3.6M818.1 368.6 v3.6 M811.8 371.1 h3.6M813.6 369.3 v3.6 M809.8 375.0 h3.6M811.6 373.2 v3.6 M810.8 370.8 h3.6M812.6 369.0 v3.6 M830.7 373.7 h3.6M832.5 371.9 v3.6 M832.3 372.8 h3.6M834.1 371.0 v3.6 M811.6 358.5 h3.6M813.4 356.7 v3.6 M820.8 369.6 h3.6M822.6 367.8 v3.6 M808.9 368.9 h3.6M810.7 367.1 v3.6 M811.8 350.8 h3.6M813.6 349.0 v3.6 M810.0 370.7 h3.6M811.8 368.9 v3.6 M824.7 374.7 h3.6M826.5 372.9 v3.6 M812.3 359.0 h3.6M814.1 357.2 v3.6 M818.9 374.6 h3.6M820.7 372.8 v3.6 M808.8 374.4 h3.6M810.6 372.6 v3.6 M826.5 372.2 h3.6M828.3 370.4 v3.6 M818.3 353.1 h3.6M820.1 351.3 v3.6 M811.5 372.0 h3.6M813.3 370.2 v3.6 M831.1 365.8 h3.6M832.9 364.0 v3.6 M810.7 362.9 h3.6M812.5 361.1 v3.6 M811.2 371.9 h3.6M813.0 370.1 v3.6 M808.5 361.5 h3.6M810.3 359.7 v3.6 M826.2 365.4 h3.6M828.0 363.6 v3.6 M829.0 374.8 h3.6M830.8 373.0 v3.6 M810.4 368.8 h3.6M812.2 367.0 v3.6 M812.0 372.2 h3.6M813.8 370.4 v3.6 M812.5 368.5 h3.6M814.3 366.7 v3.6 M827.3 373.1 h3.6M829.1 371.3 v3.6 M820.1 362.1 h3.6M821.9 360.3 v3.6 M820.9 360.8 h3.6M822.7 359.0 v3.6 M815.2 371.2 h3.6M817.0 369.4 v3.6 M811.2 370.7 h3.6M813.0 368.9 v3.6 M819.4 374.2 h3.6M821.2 372.4 v3.6 M810.1 361.6 h3.6M811.9 359.8 v3.6 M810.5 374.4 h3.6M812.3 372.6 v3.6 M808.7 367.3 h3.6M810.5 365.5 v3.6 M810.7 374.2 h3.6M812.5 372.4 v3.6 M809.2 368.4 h3.6M811.0 366.6 v3.6 M817.3 369.3 h3.6M819.1 367.5 v3.6 M810.4 369.8 h3.6M812.2 368.0 v3.6 M815.4 364.3 h3.6M817.2 362.5 v3.6 M818.3 357.0 h3.6M820.1 355.2 v3.6 M816.3 373.8 h3.6M818.1 372.0 v3.6 M821.6 371.7 h3.6M823.4 369.9 v3.6 M814.5 370.5 h3.6M816.3 368.7 v3.6 M818.1 372.9 h3.6M819.9 371.1 v3.6 M810.5 372.3 h3.6M812.3 370.5 v3.6 M809.7 354.3 h3.6M811.5 352.5 v3.6 M814.7 371.2 h3.6M816.5 369.4 v3.6 M813.6 372.5 h3.6M815.4 370.7 v3.6 M820.3 364.8 h3.6M822.1 363.0 v3.6 M813.1 358.6 h3.6M814.9 356.8 v3.6 M821.6 351.4 h3.6M823.4 349.6 v3.6 M808.8 371.7 h3.6M810.6 369.9 v3.6 M809.4 373.0 h3.6M811.2 371.2 v3.6 M834.3 366.6 h3.6M836.1 364.8 v3.6 M827.5 370.5 h3.6M829.3 368.7 v3.6 M822.9 369.3 h3.6M824.7 367.5 v3.6 M810.6 360.6 h3.6M812.4 358.8 v3.6 M829.3 373.9 h3.6M831.1 372.1 v3.6 M815.0 365.7 h3.6M816.8 363.9 v3.6 M810.3 370.6 h3.6M812.1 368.8 v3.6 M809.6 372.8 h3.6M811.4 371.0 v3.6 M810.6 366.2 h3.6M812.4 364.4 v3.6 M816.0 372.8 h3.6M817.8 371.0 v3.6 M808.6 371.2 h3.6M810.4 369.4 v3.6 M816.6 373.0 h3.6M818.4 371.2 v3.6 M811.2 372.8 h3.6M813.0 371.0 v3.6 M819.8 367.4 h3.6M821.6 365.6 v3.6 M809.0 374.0 h3.6M810.8 372.2 v3.6 M812.1 367.3 h3.6M813.9 365.5 v3.6 M815.8 374.1 h3.6M817.6 372.3 v3.6 M809.8 363.6 h3.6M811.6 361.8 v3.6 M812.3 371.8 h3.6M814.1 370.0 v3.6 M811.2 367.0 h3.6M813.0 365.2 v3.6 M811.7 369.8 h3.6M813.5 368.0 v3.6 M811.7 372.9 h3.6M813.5 371.1 v3.6 M817.8 372.8 h3.6M819.6 371.0 v3.6 M808.5 352.8 h3.6M810.3 351.0 v3.6 M812.4 358.5 h3.6M814.2 356.7 v3.6 M812.2 354.4 h3.6M814.0 352.6 v3.6 M812.9 373.3 h3.6M814.7 371.5 v3.6 M808.6 367.3 h3.6M810.4 365.5 v3.6 M815.8 351.9 h3.6M817.6 350.1 v3.6 M809.2 365.7 h3.6M811.0 363.9 v3.6 M811.8 368.3 h3.6M813.6 366.5 v3.6 M809.6 371.8 h3.6M811.4 370.0 v3.6 M813.8 350.1 h3.6M815.6 348.3 v3.6 M809.3 368.5 h3.6M811.1 366.7 v3.6 M810.1 373.7 h3.6M811.9 371.9 v3.6 M813.2 374.5 h3.6M815.0 372.7 v3.6 M827.1 370.3 h3.6M828.9 368.5 v3.6 M825.2 365.7 h3.6M827.0 363.9 v3.6 M820.9 373.3 h3.6M822.7 371.5 v3.6 M819.5 372.6 h3.6M821.3 370.8 v3.6 M812.2 357.0 h3.6M814.0 355.2 v3.6 M821.1 373.1 h3.6M822.9 371.3 v3.6 M810.3 370.1 h3.6M812.1 368.3 v3.6 M813.7 370.4 h3.6M815.5 368.6 v3.6 M809.4 372.3 h3.6M811.2 370.5 v3.6 M817.7 353.2 h3.6M819.5 351.4 v3.6 M808.8 367.1 h3.6M810.6 365.3 v3.6 M818.6 374.6 h3.6M820.4 372.8 v3.6 M821.5 373.8 h3.6M823.3 372.0 v3.6 M815.0 367.3 h3.6M816.8 365.5 v3.6 M815.5 371.5 h3.6M817.3 369.7 v3.6 M812.4 366.6 h3.6M814.2 364.8 v3.6 M812.5 364.7 h3.6M814.3 362.9 v3.6 M812.7 369.5 h3.6M814.5 367.7 v3.6 M808.7 365.8 h3.6M810.5 364.0 v3.6 M813.3 372.4 h3.6M815.1 370.6 v3.6 M818.8 360.5 h3.6M820.6 358.7 v3.6 M812.9 373.1 h3.6M814.7 371.3 v3.6 M813.1 373.9 h3.6M814.9 372.1 v3.6 M809.5 369.6 h3.6M811.3 367.8 v3.6 M809.2 369.4 h3.6M811.0 367.6 v3.6 M813.6 374.6 h3.6M815.4 372.8 v3.6 M815.7 374.2 h3.6M817.5 372.4 v3.6 M817.9 360.6 h3.6M819.7 358.8 v3.6 M813.6 374.5 h3.6M815.4 372.7 v3.6 M813.5 370.5 h3.6M815.3 368.7 v3.6 M830.0 373.6 h3.6M831.8 371.8 v3.6 M817.9 358.8 h3.6M819.7 357.0 v3.6 M826.2 373.3 h3.6M828.0 371.5 v3.6 M819.6 349.4 h3.6M821.4 347.6 v3.6 M809.0 370.9 h3.6M810.8 369.1 v3.6 M818.6 373.3 h3.6M820.4 371.5 v3.6 M824.7 371.9 h3.6M826.5 370.1 v3.6 M820.6 373.5 h3.6M822.4 371.7 v3.6 M813.5 350.8 h3.6M815.3 349.0 v3.6 M810.2 372.1 h3.6M812.0 370.3 v3.6 M813.5 371.3 h3.6M815.3 369.5 v3.6 M808.8 373.1 h3.6M810.6 371.3 v3.6 M809.8 348.6 h3.6M811.6 346.8 v3.6 M816.6 353.4 h3.6M818.4 351.6 v3.6 M809.8 360.3 h3.6M811.6 358.5 v3.6 M809.4 367.7 h3.6M811.2 365.9 v3.6 M815.7 370.7 h3.6M817.5 368.9 v3.6 M857.4 354.6 h3.6M859.2 352.8 v3.6 M850.5 367.3 h3.6M852.3 365.5 v3.6 M843.8 368.3 h3.6M845.6 366.5 v3.6 M843.1 353.5 h3.6M844.9 351.7 v3.6 M841.0 358.3 h3.6M842.8 356.5 v3.6 M839.0 355.2 h3.6M840.8 353.4 v3.6 M835.8 353.1 h3.6M837.6 351.3 v3.6 M833.7 350.4 h3.6M835.5 348.6 v3.6 M831.6 356.2 h3.6M833.4 354.4 v3.6 M829.5 357.3 h3.6M831.3 355.5 v3.6 M827.4 353.1 h3.6M829.2 351.3 v3.6 M824.2 348.9 h3.6M826.0 347.1 v3.6 M811.6 338.5 h3.6M813.4 336.7 v3.6 M809.1 297.9 h3.6M810.9 296.1 v3.6 M808.9 273.5 h3.6M810.7 271.7 v3.6 M809.5 344.8 h3.6M811.3 343.0 v3.6 M810.6 346.9 h3.6M812.4 345.1 v3.6 M834.8 365.6 h3.6M836.5 363.8 v3.6 M830.5 370.8 h3.6M832.3 369.0 v3.6 M828.5 366.7 h3.6M830.2 364.9 v3.6 M836.9 361.5 h3.6M838.6 359.7 v3.6 M842.1 362.5 h3.6M843.9 360.7 v3.6" stroke="#000" stroke-width="0.7" fill="none"/></g>
<text x="561.2" y="406.8" font-size="11.3" textLength="45.0" lengthAdjust="spacingAndGlyphs" >Provided</text>
<text x="608.0" y="406.8" font-size="11.3" textLength="11.2" lengthAdjust="spacingAndGlyphs" >by</text>
<text x="622.8" y="406.8" font-size="11.3" textLength="41.6" lengthAdjust="spacingAndGlyphs" >JWA/JMA</text>
<rect x="74.3" y="452.4" width="133.7" height="45.2" fill="#fff" stroke="#000" stroke-width="0.7"/>
<rect x="74.3" y="452.4" width="67.2" height="18.1" fill="#ffe8bf" stroke="#000" stroke-width="0.7"/>
<rect x="141.5" y="452.4" width="28.1" height="18.1" fill="#d9ffcc" stroke="#000" stroke-width="0.7"/>
<rect x="169.6" y="452.4" width="3.7" height="18.1" fill="#99ff99" stroke="#000" stroke-width="0.7"/>
<rect x="173.3" y="452.4" width="6.0" height="18.1" fill="#66ffff" stroke="#000" stroke-width="0.7"/>
<rect x="179.3" y="452.4" width="4.2" height="18.1" fill="#00ccff" stroke="#000" stroke-width="0.7"/>
<rect x="183.5" y="452.4" width="4.3" height="18.1" fill="#0066ff" stroke="#000" stroke-width="0.7"/>
<rect x="187.8" y="452.4" width="2.8" height="18.1" fill="#9966ff" stroke="#000" stroke-width="0.7"/>
<rect x="190.6" y="452.4" width="12.7" height="18.1" fill="#dd66ff" stroke="#000" stroke-width="0.7"/>
<rect x="203.3" y="452.4" width="3.9" height="18.1" fill="#ff00f5" stroke="#000" stroke-width="0.7"/>
<rect x="207.2" y="452.4" width="0.8" height="18.1" fill="#cc9944" stroke="#000" stroke-width="0.7"/>
<rect x="74.3" y="479.4" width="63.1" height="18.2" fill="#ffe8bf" stroke="#000" stroke-width="0.7"/>
<rect x="137.4" y="479.4" width="37.2" height="18.2" fill="#d9ffcc" stroke="#000" stroke-width="0.7"/>
<rect x="174.6" y="479.4" width="5.8" height="18.2" fill="#99ff99" stroke="#000" stroke-width="0.7"/>
<rect x="180.4" y="479.4" width="7.2" height="18.2" fill="#66ffff" stroke="#000" stroke-width="0.7"/>
<rect x="187.6" y="479.4" width="5.2" height="18.2" fill="#00ccff" stroke="#000" stroke-width="0.7"/>
<rect x="192.8" y="479.4" width="5.0" height="18.2" fill="#0066ff" stroke="#000" stroke-width="0.7"/>
<rect x="197.8" y="479.4" width="3.7" height="18.2" fill="#9966ff" stroke="#000" stroke-width="0.7"/>
<rect x="201.5" y="479.4" width="3.9" height="18.2" fill="#dd66ff" stroke="#000" stroke-width="0.7"/>
<rect x="205.4" y="479.4" width="1.8" height="18.2" fill="#ff00f5" stroke="#000" stroke-width="0.7"/>
<rect x="207.2" y="479.4" width="0.8" height="18.2" fill="#cc9944" stroke="#000" stroke-width="0.7"/>
<line x1="141.5" y1="470.5" x2="137.4" y2="479.4" stroke="#000" stroke-width="0.6"/>
<line x1="169.6" y1="470.5" x2="174.6" y2="479.4" stroke="#000" stroke-width="0.6"/>
<line x1="173.3" y1="470.5" x2="180.4" y2="479.4" stroke="#000" stroke-width="0.6"/>
<line x1="179.3" y1="470.5" x2="187.6" y2="479.4" stroke="#000" stroke-width="0.6"/>
<line x1="183.5" y1="470.5" x2="192.8" y2="479.4" stroke="#000" stroke-width="0.6"/>
<line x1="187.8" y1="470.5" x2="197.8" y2="479.4" stroke="#000" stroke-width="0.6"/>
<line x1="190.6" y1="470.5" x2="201.5" y2="479.4" stroke="#000" stroke-width="0.6"/>
<line x1="203.3" y1="470.5" x2="205.4" y2="479.4" stroke="#000" stroke-width="0.6"/>
<line x1="207.2" y1="470.5" x2="207.2" y2="479.4" stroke="#000" stroke-width="0.6"/>
<rect x="74.3" y="533.3" width="2.2" height="18.0" fill="#d9ffcc" stroke="#000" stroke-width="0.7"/>
<rect x="76.5" y="533.3" width="2.2" height="18.0" fill="#99ff99" stroke="#000" stroke-width="0.7"/>
<rect x="78.7" y="533.3" width="5.7" height="18.0" fill="#66ffff" stroke="#000" stroke-width="0.7"/>
<rect x="84.4" y="533.3" width="6.9" height="18.0" fill="#00ccff" stroke="#000" stroke-width="0.7"/>
<rect x="91.3" y="533.3" width="8.3" height="18.0" fill="#0066ff" stroke="#000" stroke-width="0.7"/>
<rect x="99.6" y="533.3" width="9.8" height="18.0" fill="#9966ff" stroke="#000" stroke-width="0.7"/>
<rect x="109.4" y="533.3" width="67.3" height="18.0" fill="#dd66ff" stroke="#000" stroke-width="0.7"/>
<rect x="176.7" y="533.3" width="27.0" height="18.0" fill="#ff00f5" stroke="#000" stroke-width="0.7"/>
<rect x="203.7" y="533.3" width="4.3" height="18.0" fill="#cc9944" stroke="#000" stroke-width="0.7"/>
<rect x="74.3" y="560.1" width="5.0" height="18.2" fill="#d9ffcc" stroke="#000" stroke-width="0.7"/>
<rect x="79.3" y="560.1" width="2.4" height="18.2" fill="#99ff99" stroke="#000" stroke-width="0.7"/>
<rect x="81.7" y="560.1" width="6.8" height="18.2" fill="#66ffff" stroke="#000" stroke-width="0.7"/>
<rect x="88.5" y="560.1" width="9.8" height="18.2" fill="#00ccff" stroke="#000" stroke-width="0.7"/>
<rect x="98.3" y="560.1" width="12.3" height="18.2" fill="#0066ff" stroke="#000" stroke-width="0.7"/>
<rect x="110.6" y="560.1" width="10.0" height="18.2" fill="#9966ff" stroke="#000" stroke-width="0.7"/>
<rect x="120.6" y="560.1" width="20.9" height="18.2" fill="#dd66ff" stroke="#000" stroke-width="0.7"/>
<rect x="141.5" y="560.1" width="14.2" height="18.2" fill="#ff00f5" stroke="#000" stroke-width="0.7"/>
<line x1="74.3" y1="533.3" x2="74.3" y2="578.3" stroke="#000" stroke-width="0.7"/>
<line x1="76.5" y1="551.3" x2="79.3" y2="560.1" stroke="#000" stroke-width="0.6"/>
<line x1="78.7" y1="551.3" x2="81.7" y2="560.1" stroke="#000" stroke-width="0.6"/>
<line x1="84.4" y1="551.3" x2="88.5" y2="560.1" stroke="#000" stroke-width="0.6"/>
<line x1="91.3" y1="551.3" x2="98.3" y2="560.1" stroke="#000" stroke-width="0.6"/>
<line x1="99.6" y1="551.3" x2="110.6" y2="560.1" stroke="#000" stroke-width="0.6"/>
<line x1="109.4" y1="551.3" x2="120.6" y2="560.1" stroke="#000" stroke-width="0.6"/>
<line x1="176.7" y1="551.3" x2="141.5" y2="560.1" stroke="#000" stroke-width="0.6"/>
<line x1="203.7" y1="551.3" x2="155.7" y2="560.1" stroke="#000" stroke-width="0.6"/>
<line x1="208.0" y1="551.3" x2="155.7" y2="560.1" stroke="#000" stroke-width="0.6"/>
<text x="68.4" y="446.8" font-size="11.2" textLength="143.4" lengthAdjust="spacingAndGlyphs" >Hourly fraction by occurence</text>
<text x="47.4" y="466.0" font-size="11.2" textLength="14.6" lengthAdjust="spacingAndGlyphs" >Est</text>
<text x="47.8" y="493.2" font-size="11.2" textLength="18.4" lengthAdjust="spacingAndGlyphs" >Obs</text>
<text x="58.1" y="509.8" font-size="11.2" textLength="15.2" lengthAdjust="spacingAndGlyphs" >0%</text>
<text x="102.0" y="509.8" font-size="11.2" textLength="67.0" lengthAdjust="spacingAndGlyphs" >Areal fraction</text>
<text x="195.2" y="509.8" font-size="11.2" textLength="27.2" lengthAdjust="spacingAndGlyphs" >100%</text>
<text x="72.4" y="527.8" font-size="11.2" textLength="134.8" lengthAdjust="spacingAndGlyphs" >Hourly fraction of total rain</text>
<text x="47.4" y="546.9" font-size="11.2" textLength="14.6" lengthAdjust="spacingAndGlyphs" >Est</text>
<text x="47.8" y="573.8" font-size="11.2" textLength="18.4" lengthAdjust="spacingAndGlyphs" >Obs</text>
<text x="58.5" y="589.5" font-size="11.2" textLength="164.5" lengthAdjust="spacingAndGlyphs" >Rainfall accumulation by amount</text>
<rect x="277.6" y="478.4" width="123.8" height="94.9" fill="#fff" stroke="#000" stroke-width="1.1"/>
<path d="M339.4 478.4 V573.3 M277.6 526.3 H401.4" stroke="#000" stroke-width="1.1"/>
<text x="295.7" y="455.2" font-size="11.2" textLength="85.6" lengthAdjust="spacingAndGlyphs" >GSMAP_NRT_1HR</text>
<text x="293.7" y="470.2" font-size="11.2" textLength="29.5" lengthAdjust="spacingAndGlyphs" >&lt;0.01</text>
<text x="355.5" y="470.2" font-size="11.2" textLength="28.5" lengthAdjust="spacingAndGlyphs" >≥0.01</text>
<text x="246.7" y="506.2" font-size="11.2" textLength="28.2" lengthAdjust="spacingAndGlyphs" >&lt;0.01</text>
<text x="245.9" y="553.0" font-size="11.2" textLength="29.0" lengthAdjust="spacingAndGlyphs" >≥0.01</text>
<text transform="translate(246.7,543.4) rotate(-90)" font-size="11.2" textLength="46.1" lengthAdjust="spacingAndGlyphs">ANALYSIS</text>
<text x="296.2" y="506.2" font-size="11.2" textLength="23.8" lengthAdjust="spacingAndGlyphs" >2207</text>
<text x="362.4" y="506.2" font-size="11.2" textLength="16.6" lengthAdjust="spacingAndGlyphs" >238</text>
<text x="302.3" y="553.0" font-size="11.2" textLength="11.1" lengthAdjust="spacingAndGlyphs" >85</text>
<text x="361.6" y="553.0" font-size="11.2" textLength="16.5" lengthAdjust="spacingAndGlyphs" >527</text>
<text x="459.9" y="453.9" font-size="11.2" textLength="52.4" lengthAdjust="spacingAndGlyphs" >Validation</text>
<text x="516.1" y="453.9" font-size="11.2" textLength="44.8" lengthAdjust="spacingAndGlyphs" >statistics</text>
<text x="562.2" y="453.9" font-size="11.2" textLength="13.2" lengthAdjust="spacingAndGlyphs" >for</text>
<text x="578.7" y="453.9" font-size="11.2" textLength="51.3" lengthAdjust="spacingAndGlyphs" >20251031</text>
<text x="633.0" y="453.9" font-size="11.2" textLength="11.5" lengthAdjust="spacingAndGlyphs" >10</text>
<text x="650.5" y="453.9" font-size="11.2" textLength="40.3" lengthAdjust="spacingAndGlyphs" >n=3057</text>
<text x="693.8" y="453.9" font-size="11.2" textLength="28.1" lengthAdjust="spacingAndGlyphs" >Valid.</text>
<text x="725.3" y="453.9" font-size="11.2" textLength="55.5" lengthAdjust="spacingAndGlyphs" >grid=0.25°</text>
<text x="784.1" y="453.9" font-size="11.2" textLength="69.9" lengthAdjust="spacingAndGlyphs" >Units=mm/hr.</text>
<line x1="457.4" y1="457.2" x2="997.2" y2="457.2" stroke="#000" stroke-width="0.9" stroke-dasharray="3.6 1.6"/>
<line x1="457.4" y1="480.4" x2="758.1" y2="480.4" stroke="#000" stroke-width="0.9" stroke-dasharray="3.6 1.6"/>
<text x="609.1" y="475.2" font-size="11.2" textLength="46.5" lengthAdjust="spacingAndGlyphs" >ANALYSIS</text>
<text x="671.0" y="475.2" font-size="11.2" textLength="85.1" lengthAdjust="spacingAndGlyphs" >GSMAP_NRT_1HR</text>
<text x="460.4" y="498.9" font-size="11.2" textLength="127.1" lengthAdjust="spacingAndGlyphs" >Num of gridpoints raining</text>
<text x="629.9" y="498.9" font-size="11.2" textLength="18.6" lengthAdjust="spacingAndGlyphs" >612</text>
<text x="710.2" y="498.9" font-size="11.2" textLength="18.6" lengthAdjust="spacingAndGlyphs" >765</text>
<text x="460.4" y="518.7" font-size="11.2" textLength="63.4" lengthAdjust="spacingAndGlyphs" >Average rain</text>
<text x="632.7" y="518.7" font-size="11.2" textLength="15.8" lengthAdjust="spacingAndGlyphs" >0.9</text>
<text x="713.0" y="518.7" font-size="11.2" textLength="15.8" lengthAdjust="spacingAndGlyphs" >1.5</text>
<text x="460.4" y="538.9" font-size="11.2" textLength="78.2" lengthAdjust="spacingAndGlyphs" >Conditional rain</text>
<text x="632.7" y="538.9" font-size="11.2" textLength="15.8" lengthAdjust="spacingAndGlyphs" >4.4</text>
<text x="713.0" y="538.9" font-size="11.2" textLength="15.8" lengthAdjust="spacingAndGlyphs" >5.8</text>
<text x="632.7" y="558.8" font-size="11.2" textLength="15.8" lengthAdjust="spacingAndGlyphs" >1.7</text>
<text x="713.0" y="558.8" font-size="11.2" textLength="15.8" lengthAdjust="spacingAndGlyphs" >2.8</text>
<text x="460.4" y="577.5" font-size="11.2" textLength="70.5" lengthAdjust="spacingAndGlyphs" >Maximum rain</text>
<text x="626.5" y="577.5" font-size="11.2" textLength="22.0" lengthAdjust="spacingAndGlyphs" >23.6</text>
<text x="706.8" y="577.5" font-size="11.2" textLength="22.0" lengthAdjust="spacingAndGlyphs" >48.7</text>
<text x="461.5" y="558.8" font-size="11.2" textLength="132.8" lengthAdjust="spacingAndGlyphs">Rain volume (mm km<tspan font-size="7.8" dy="-4">2</tspan><tspan dy="4">10</tspan><tspan font-size="7.8" dy="-4">6</tspan><tspan dy="4">)</tspan></text>
<text x="784.2" y="471.7" font-size="11.2" textLength="86.3" lengthAdjust="spacingAndGlyphs" >Mean abs error =</text>
<text x="883.8" y="471.7" font-size="11.2" textLength="15.3" lengthAdjust="spacingAndGlyphs" >1.1</text>
<text x="784.2" y="488.8" font-size="11.2" textLength="60.0" lengthAdjust="spacingAndGlyphs" >RMS error =</text>
<text x="857.6" y="488.8" font-size="11.2" textLength="15.3" lengthAdjust="spacingAndGlyphs" >2.7</text>
<text x="784.2" y="505.7" font-size="11.2" textLength="94.0" lengthAdjust="spacingAndGlyphs" >Correlation coeff =</text>
<text x="885.5" y="505.7" font-size="11.2" textLength="27.8" lengthAdjust="spacingAndGlyphs" >0.559</text>
<text x="784.2" y="522.8" font-size="11.2" textLength="87.1" lengthAdjust="spacingAndGlyphs" >Frequency bias =</text>
<text x="878.5" y="522.8" font-size="11.2" textLength="27.9" lengthAdjust="spacingAndGlyphs" >1.250</text>
<text x="784.2" y="539.9" font-size="11.2" textLength="126.4" lengthAdjust="spacingAndGlyphs" >Probability of detection =</text>
<text x="918.1" y="539.9" font-size="11.2" textLength="27.6" lengthAdjust="spacingAndGlyphs" >0.861</text>
<text x="784.2" y="556.9" font-size="11.2" textLength="94.8" lengthAdjust="spacingAndGlyphs" >False alarm ratio =</text>
<text x="886.3" y="556.9" font-size="11.2" textLength="27.6" lengthAdjust="spacingAndGlyphs" >0.311</text>
<text x="784.2" y="573.8" font-size="11.2" textLength="135.3" lengthAdjust="spacingAndGlyphs" >Hanssen &amp; Kuipers score =</text>
<text x="926.7" y="573.8" font-size="11.2" textLength="27.9" lengthAdjust="spacingAndGlyphs" >0.764</text>
<text x="784.2" y="590.8" font-size="11.2" textLength="121.3" lengthAdjust="spacingAndGlyphs" >Equitable threat score =</text>
<text x="912.8" y="590.8" font-size="11.2" textLength="27.8" lengthAdjust="spacingAndGlyphs" >0.536</text>
</svg></body></html>
